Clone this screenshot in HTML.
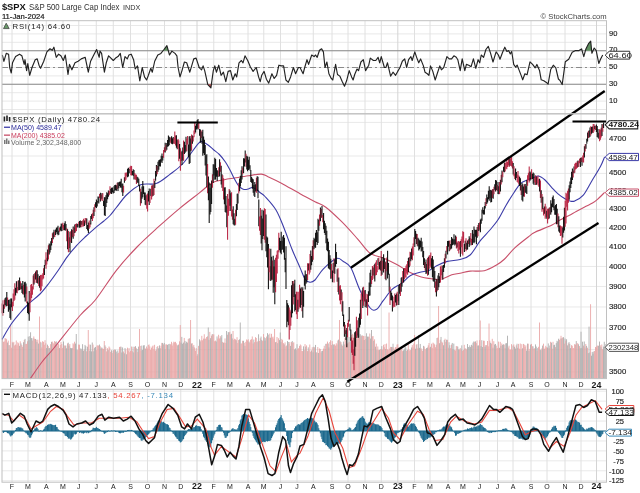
<!DOCTYPE html><html><head><meta charset="utf-8"><style>html,body{margin:0;padding:0;background:#fff;overflow:hidden}</style></head><body><svg width="640" height="493" viewBox="0 0 640 493" style="display:block;filter:blur(0.3px)"><rect width="640" height="493" fill="#fff"/><line x1="2.0" y1="109.50" x2="606.5" y2="109.50" stroke="#e9e9e9" stroke-width="1"/><line x1="2.0" y1="101.10" x2="606.5" y2="101.10" stroke="#e9e9e9" stroke-width="1"/><line x1="2.0" y1="92.70" x2="606.5" y2="92.70" stroke="#e9e9e9" stroke-width="1"/><line x1="2.0" y1="84.30" x2="606.5" y2="84.30" stroke="#e9e9e9" stroke-width="1"/><line x1="2.0" y1="75.90" x2="606.5" y2="75.90" stroke="#e9e9e9" stroke-width="1"/><line x1="2.0" y1="67.50" x2="606.5" y2="67.50" stroke="#e9e9e9" stroke-width="1"/><line x1="2.0" y1="59.10" x2="606.5" y2="59.10" stroke="#e9e9e9" stroke-width="1"/><line x1="2.0" y1="50.70" x2="606.5" y2="50.70" stroke="#e9e9e9" stroke-width="1"/><line x1="2.0" y1="42.30" x2="606.5" y2="42.30" stroke="#e9e9e9" stroke-width="1"/><line x1="2.0" y1="33.90" x2="606.5" y2="33.90" stroke="#e9e9e9" stroke-width="1"/><line x1="2.0" y1="25.50" x2="606.5" y2="25.50" stroke="#e9e9e9" stroke-width="1"/><line x1="12.00" y1="20.7" x2="12.00" y2="113.8" stroke="#e0e0e0" stroke-width="1"/><line x1="28.00" y1="20.7" x2="28.00" y2="113.8" stroke="#e0e0e0" stroke-width="1"/><line x1="46.25" y1="20.7" x2="46.25" y2="113.8" stroke="#e0e0e0" stroke-width="1"/><line x1="63.00" y1="20.7" x2="63.00" y2="113.8" stroke="#e0e0e0" stroke-width="1"/><line x1="78.75" y1="20.7" x2="78.75" y2="113.8" stroke="#e0e0e0" stroke-width="1"/><line x1="96.25" y1="20.7" x2="96.25" y2="113.8" stroke="#e0e0e0" stroke-width="1"/><line x1="113.25" y1="20.7" x2="113.25" y2="113.8" stroke="#e0e0e0" stroke-width="1"/><line x1="130.50" y1="20.7" x2="130.50" y2="113.8" stroke="#e0e0e0" stroke-width="1"/><line x1="147.50" y1="20.7" x2="147.50" y2="113.8" stroke="#e0e0e0" stroke-width="1"/><line x1="164.50" y1="20.7" x2="164.50" y2="113.8" stroke="#e0e0e0" stroke-width="1"/><line x1="180.75" y1="20.7" x2="180.75" y2="113.8" stroke="#e0e0e0" stroke-width="1"/><line x1="197.00" y1="20.7" x2="197.00" y2="113.8" stroke="#d4d4d4" stroke-width="1"/><line x1="213.75" y1="20.7" x2="213.75" y2="113.8" stroke="#e0e0e0" stroke-width="1"/><line x1="230.00" y1="20.7" x2="230.00" y2="113.8" stroke="#e0e0e0" stroke-width="1"/><line x1="248.00" y1="20.7" x2="248.00" y2="113.8" stroke="#e0e0e0" stroke-width="1"/><line x1="263.75" y1="20.7" x2="263.75" y2="113.8" stroke="#e0e0e0" stroke-width="1"/><line x1="280.50" y1="20.7" x2="280.50" y2="113.8" stroke="#e0e0e0" stroke-width="1"/><line x1="297.00" y1="20.7" x2="297.00" y2="113.8" stroke="#e0e0e0" stroke-width="1"/><line x1="313.25" y1="20.7" x2="313.25" y2="113.8" stroke="#e0e0e0" stroke-width="1"/><line x1="332.00" y1="20.7" x2="332.00" y2="113.8" stroke="#e0e0e0" stroke-width="1"/><line x1="348.00" y1="20.7" x2="348.00" y2="113.8" stroke="#e0e0e0" stroke-width="1"/><line x1="365.00" y1="20.7" x2="365.00" y2="113.8" stroke="#e0e0e0" stroke-width="1"/><line x1="381.30" y1="20.7" x2="381.30" y2="113.8" stroke="#e0e0e0" stroke-width="1"/><line x1="397.80" y1="20.7" x2="397.80" y2="113.8" stroke="#d4d4d4" stroke-width="1"/><line x1="414.50" y1="20.7" x2="414.50" y2="113.8" stroke="#e0e0e0" stroke-width="1"/><line x1="430.00" y1="20.7" x2="430.00" y2="113.8" stroke="#e0e0e0" stroke-width="1"/><line x1="448.00" y1="20.7" x2="448.00" y2="113.8" stroke="#e0e0e0" stroke-width="1"/><line x1="463.00" y1="20.7" x2="463.00" y2="113.8" stroke="#e0e0e0" stroke-width="1"/><line x1="479.50" y1="20.7" x2="479.50" y2="113.8" stroke="#e0e0e0" stroke-width="1"/><line x1="497.50" y1="20.7" x2="497.50" y2="113.8" stroke="#e0e0e0" stroke-width="1"/><line x1="513.00" y1="20.7" x2="513.00" y2="113.8" stroke="#e0e0e0" stroke-width="1"/><line x1="531.00" y1="20.7" x2="531.00" y2="113.8" stroke="#e0e0e0" stroke-width="1"/><line x1="547.00" y1="20.7" x2="547.00" y2="113.8" stroke="#e0e0e0" stroke-width="1"/><line x1="565.00" y1="20.7" x2="565.00" y2="113.8" stroke="#e0e0e0" stroke-width="1"/><line x1="581.00" y1="20.7" x2="581.00" y2="113.8" stroke="#e0e0e0" stroke-width="1"/><line x1="596.50" y1="20.7" x2="596.50" y2="113.8" stroke="#d4d4d4" stroke-width="1"/><line x1="2.0" y1="50.70" x2="606.5" y2="50.70" stroke="#8a8a8a" stroke-width="1.1"/><line x1="2.0" y1="84.30" x2="606.5" y2="84.30" stroke="#8a8a8a" stroke-width="1.1"/><line x1="2.0" y1="67.50" x2="606.5" y2="67.50" stroke="#8a8a8a" stroke-width="1" stroke-dasharray="6,3,2,3"/><path d="M163.00,50.70 L163.00,50.70 L163.28,50.41 L163.55,50.07 L163.82,49.72 L164.10,49.37 L164.38,49.00 L164.65,48.63 L164.93,48.26 L165.20,47.89 L165.47,47.52 L165.75,47.15 L166.03,46.78 L166.30,46.41 L166.57,46.04 L166.85,45.67 L167.12,46.41 L167.40,47.41 L167.68,48.40 L167.95,49.40 L168.22,50.39 L168.50,50.70 L168.50,50.70 Z" fill="#5f8f5f"/><path d="M207.3,84.30 L207.30,84.30 L207.59,84.30 L207.87,84.77 L208.16,85.05 L208.44,85.34 L208.73,85.63 L209.01,85.91 L209.30,86.20 L209.58,86.48 L209.87,86.77 L210.15,87.05 L210.44,87.33 L210.72,87.62 L211.00,87.05 L211.29,85.01 L211.57,84.30 L211.86,84.30 L212.15,84.30 L212.43,84.30 L212.72,84.30 L213.00,84.30 L213.0,84.30 Z" fill="#c05050"/><path d="M585.00,50.70 L585.00,50.70 L585.36,50.70 L585.72,49.56 L586.08,48.54 L586.44,47.82 L586.80,47.10 L587.16,46.38 L587.52,45.66 L587.88,44.94 L588.24,44.22 L588.60,43.59 L588.96,43.18 L589.32,42.77 L589.68,42.36 L590.04,41.95 L590.40,41.54 L590.76,41.80 L591.12,45.40 L591.48,49.00 L591.84,50.70 L592.20,50.70 L592.20,50.70 Z" fill="#5f8f5f"/><polyline fill="none" stroke="#222" stroke-width="1.15" stroke-linejoin="round" points="2.30,55.00 3.90,61.30 6.25,53.40 8.60,54.20 9.70,67.50 11.25,73.00 12.50,62.80 15.60,56.60 19.50,54.20 21.90,55.80 24.20,64.40 25.00,59.70 26.60,70.60 27.80,63.60 29.70,75.30 32.00,67.50 35.20,59.70 37.20,58.90 39.00,65.20 40.60,68.30 43.75,61.25 46.90,51.90 50.00,48.75 52.30,50.30 53.90,47.20 56.25,57.30 58.60,54.20 60.90,55.80 63.30,60.50 65.30,55.00 68.00,74.50 69.50,64.40 71.90,69.80 75.00,62.80 78.10,61.25 81.25,58.90 85.20,57.30 88.30,72.20 90.60,61.25 93.75,55.00 96.60,49.50 99.20,57.30 100.00,51.10 101.60,53.40 104.40,72.20 106.25,62.80 108.60,55.80 110.90,58.10 113.30,60.50 115.60,58.10 118.00,56.60 120.30,53.40 122.70,67.50 125.00,56.60 127.30,58.90 128.90,55.00 131.25,54.20 133.60,59.70 135.20,69.00 137.50,65.90 139.80,80.80 142.20,67.50 144.50,76.90 146.60,80.00 148.40,75.30 150.80,68.30 152.30,72.20 154.70,61.25 157.80,55.00 160.90,53.40 164.00,49.50 166.90,45.60 169.50,55.00 171.90,51.10 175.00,53.40 176.90,55.80 178.10,67.50 180.00,76.90 182.00,70.60 184.40,62.00 186.70,62.80 189.80,72.20 193.75,58.90 196.10,58.10 199.20,67.50 200.00,68.30 201.60,69.80 203.10,65.90 204.70,70.60 207.80,84.70 210.90,87.80 213.30,70.60 214.80,65.90 216.40,72.20 218.75,65.20 221.10,75.30 223.40,72.20 225.80,81.60 228.10,71.40 230.50,70.60 232.80,80.00 235.20,73.75 236.70,76.90 239.00,62.80 241.40,60.50 243.00,62.80 245.00,55.80 247.70,60.50 250.30,66.70 253.10,71.40 256.25,67.50 258.60,76.90 260.20,81.60 261.70,75.30 264.10,71.40 266.40,79.20 268.75,83.10 271.90,73.75 274.20,78.40 276.60,75.30 278.90,65.20 281.25,65.90 283.60,65.90 285.90,80.00 288.30,82.30 290.60,76.90 293.40,67.50 295.60,73.75 298.40,67.50 300.00,67.50 303.10,73.75 304.70,67.50 307.00,59.70 308.60,64.40 311.70,55.00 314.10,56.60 315.60,55.00 317.20,57.30 319.50,50.30 321.60,48.75 323.40,51.90 325.00,67.50 326.90,62.00 328.90,73.75 331.25,78.40 332.80,80.00 335.60,64.40 337.50,74.50 339.80,76.10 342.20,81.60 344.50,86.25 346.60,80.80 349.20,70.60 351.60,76.90 353.10,80.00 354.70,74.50 357.00,69.00 358.60,70.60 360.90,62.00 363.30,59.70 365.60,70.60 368.75,65.20 370.30,58.10 373.40,60.50 375.80,60.50 378.10,57.30 379.70,62.80 381.25,56.60 384.40,67.50 385.90,67.50 387.50,62.80 390.60,76.10 393.00,72.20 395.60,75.30 397.70,71.40 400.00,67.50 402.30,61.25 404.70,58.90 406.60,67.50 408.60,59.70 410.90,56.60 412.20,60.50 414.80,51.90 416.90,58.10 418.75,62.80 420.60,58.90 423.40,65.90 425.00,72.20 427.30,73.75 428.90,75.30 430.50,65.90 432.80,71.40 435.20,80.00 437.20,73.75 439.80,65.90 441.40,69.80 443.75,67.50 446.90,56.60 449.20,58.90 451.60,58.90 453.90,55.80 456.25,57.30 457.80,59.70 460.20,70.60 462.20,58.90 464.80,70.60 466.40,64.40 468.75,65.20 471.10,66.70 473.40,58.90 475.80,68.30 478.10,59.70 479.70,62.80 481.25,55.00 483.60,57.30 485.90,49.50 488.30,46.40 490.60,53.40 493.00,62.00 496.10,51.90 498.40,55.00 500.00,59.20 502.60,52.30 504.80,47.20 506.90,51.50 508.60,50.60 510.30,54.00 511.70,51.50 513.70,64.40 515.50,67.00 517.20,65.20 519.20,70.40 521.50,76.40 522.70,79.80 524.90,73.80 527.10,74.70 530.00,61.80 532.60,64.40 535.20,67.80 536.90,64.40 539.50,70.40 541.20,79.80 543.80,80.70 546.40,82.40 548.10,84.10 550.70,69.50 553.30,65.20 555.80,67.80 558.40,79.00 560.10,80.70 562.20,84.60 565.30,61.80 568.70,59.20 572.20,52.30 575.60,50.60 579.00,50.60 581.60,48.90 583.80,56.60 585.90,48.90 588.50,43.70 590.70,41.20 591.90,53.20 594.20,48.00 596.20,50.60 598.80,63.50 600.50,59.20 602.70,54.90"/><line x1="2.0" y1="371.92" x2="606.5" y2="371.92" stroke="#e9e9e9" stroke-width="1"/><line x1="2.0" y1="349.67" x2="606.5" y2="349.67" stroke="#e9e9e9" stroke-width="1"/><line x1="2.0" y1="328.02" x2="606.5" y2="328.02" stroke="#e9e9e9" stroke-width="1"/><line x1="2.0" y1="306.96" x2="606.5" y2="306.96" stroke="#e9e9e9" stroke-width="1"/><line x1="2.0" y1="286.44" x2="606.5" y2="286.44" stroke="#e9e9e9" stroke-width="1"/><line x1="2.0" y1="266.43" x2="606.5" y2="266.43" stroke="#e9e9e9" stroke-width="1"/><line x1="2.0" y1="246.93" x2="606.5" y2="246.93" stroke="#e9e9e9" stroke-width="1"/><line x1="2.0" y1="227.89" x2="606.5" y2="227.89" stroke="#e9e9e9" stroke-width="1"/><line x1="2.0" y1="209.30" x2="606.5" y2="209.30" stroke="#e9e9e9" stroke-width="1"/><line x1="2.0" y1="191.14" x2="606.5" y2="191.14" stroke="#e9e9e9" stroke-width="1"/><line x1="2.0" y1="173.39" x2="606.5" y2="173.39" stroke="#e9e9e9" stroke-width="1"/><line x1="2.0" y1="156.02" x2="606.5" y2="156.02" stroke="#e9e9e9" stroke-width="1"/><line x1="2.0" y1="139.03" x2="606.5" y2="139.03" stroke="#e9e9e9" stroke-width="1"/><line x1="2.0" y1="122.40" x2="606.5" y2="122.40" stroke="#e9e9e9" stroke-width="1"/><line x1="12.00" y1="113.8" x2="12.00" y2="378.6" stroke="#e0e0e0" stroke-width="1"/><line x1="28.00" y1="113.8" x2="28.00" y2="378.6" stroke="#e0e0e0" stroke-width="1"/><line x1="46.25" y1="113.8" x2="46.25" y2="378.6" stroke="#e0e0e0" stroke-width="1"/><line x1="63.00" y1="113.8" x2="63.00" y2="378.6" stroke="#e0e0e0" stroke-width="1"/><line x1="78.75" y1="113.8" x2="78.75" y2="378.6" stroke="#e0e0e0" stroke-width="1"/><line x1="96.25" y1="113.8" x2="96.25" y2="378.6" stroke="#e0e0e0" stroke-width="1"/><line x1="113.25" y1="113.8" x2="113.25" y2="378.6" stroke="#e0e0e0" stroke-width="1"/><line x1="130.50" y1="113.8" x2="130.50" y2="378.6" stroke="#e0e0e0" stroke-width="1"/><line x1="147.50" y1="113.8" x2="147.50" y2="378.6" stroke="#e0e0e0" stroke-width="1"/><line x1="164.50" y1="113.8" x2="164.50" y2="378.6" stroke="#e0e0e0" stroke-width="1"/><line x1="180.75" y1="113.8" x2="180.75" y2="378.6" stroke="#e0e0e0" stroke-width="1"/><line x1="197.00" y1="113.8" x2="197.00" y2="378.6" stroke="#d4d4d4" stroke-width="1"/><line x1="213.75" y1="113.8" x2="213.75" y2="378.6" stroke="#e0e0e0" stroke-width="1"/><line x1="230.00" y1="113.8" x2="230.00" y2="378.6" stroke="#e0e0e0" stroke-width="1"/><line x1="248.00" y1="113.8" x2="248.00" y2="378.6" stroke="#e0e0e0" stroke-width="1"/><line x1="263.75" y1="113.8" x2="263.75" y2="378.6" stroke="#e0e0e0" stroke-width="1"/><line x1="280.50" y1="113.8" x2="280.50" y2="378.6" stroke="#e0e0e0" stroke-width="1"/><line x1="297.00" y1="113.8" x2="297.00" y2="378.6" stroke="#e0e0e0" stroke-width="1"/><line x1="313.25" y1="113.8" x2="313.25" y2="378.6" stroke="#e0e0e0" stroke-width="1"/><line x1="332.00" y1="113.8" x2="332.00" y2="378.6" stroke="#e0e0e0" stroke-width="1"/><line x1="348.00" y1="113.8" x2="348.00" y2="378.6" stroke="#e0e0e0" stroke-width="1"/><line x1="365.00" y1="113.8" x2="365.00" y2="378.6" stroke="#e0e0e0" stroke-width="1"/><line x1="381.30" y1="113.8" x2="381.30" y2="378.6" stroke="#e0e0e0" stroke-width="1"/><line x1="397.80" y1="113.8" x2="397.80" y2="378.6" stroke="#d4d4d4" stroke-width="1"/><line x1="414.50" y1="113.8" x2="414.50" y2="378.6" stroke="#e0e0e0" stroke-width="1"/><line x1="430.00" y1="113.8" x2="430.00" y2="378.6" stroke="#e0e0e0" stroke-width="1"/><line x1="448.00" y1="113.8" x2="448.00" y2="378.6" stroke="#e0e0e0" stroke-width="1"/><line x1="463.00" y1="113.8" x2="463.00" y2="378.6" stroke="#e0e0e0" stroke-width="1"/><line x1="479.50" y1="113.8" x2="479.50" y2="378.6" stroke="#e0e0e0" stroke-width="1"/><line x1="497.50" y1="113.8" x2="497.50" y2="378.6" stroke="#e0e0e0" stroke-width="1"/><line x1="513.00" y1="113.8" x2="513.00" y2="378.6" stroke="#e0e0e0" stroke-width="1"/><line x1="531.00" y1="113.8" x2="531.00" y2="378.6" stroke="#e0e0e0" stroke-width="1"/><line x1="547.00" y1="113.8" x2="547.00" y2="378.6" stroke="#e0e0e0" stroke-width="1"/><line x1="565.00" y1="113.8" x2="565.00" y2="378.6" stroke="#e0e0e0" stroke-width="1"/><line x1="581.00" y1="113.8" x2="581.00" y2="378.6" stroke="#e0e0e0" stroke-width="1"/><line x1="596.50" y1="113.8" x2="596.50" y2="378.6" stroke="#d4d4d4" stroke-width="1"/><g><rect x="2.20" y="338.72" width="0.85" height="39.88" fill="#e9a4a4"/><rect x="3.00" y="341.83" width="0.85" height="36.77" fill="#e9a4a4"/><rect x="3.80" y="341.41" width="0.85" height="37.19" fill="#e9a4a4"/><rect x="4.60" y="338.09" width="0.85" height="40.51" fill="#e9a4a4"/><rect x="5.40" y="338.42" width="0.85" height="40.18" fill="#e9a4a4"/><rect x="6.20" y="339.18" width="0.85" height="39.42" fill="#e9a4a4"/><rect x="7.00" y="342.52" width="0.85" height="36.08" fill="#aaaaaa"/><rect x="7.80" y="340.62" width="0.85" height="37.98" fill="#e9a4a4"/><rect x="8.60" y="345.14" width="0.85" height="33.46" fill="#aaaaaa"/><rect x="9.40" y="345.24" width="0.85" height="33.36" fill="#e9a4a4"/><rect x="10.20" y="325.00" width="0.85" height="53.60" fill="#e9a4a4"/><rect x="11.00" y="347.70" width="0.85" height="30.90" fill="#e9a4a4"/><rect x="11.80" y="341.85" width="0.85" height="36.75" fill="#e9a4a4"/><rect x="12.60" y="343.03" width="0.85" height="35.57" fill="#aaaaaa"/><rect x="13.40" y="341.88" width="0.85" height="36.72" fill="#e9a4a4"/><rect x="14.20" y="345.41" width="0.85" height="33.19" fill="#e9a4a4"/><rect x="15.00" y="344.55" width="0.85" height="34.05" fill="#e9a4a4"/><rect x="15.80" y="340.51" width="0.85" height="38.09" fill="#e9a4a4"/><rect x="16.60" y="345.34" width="0.85" height="33.26" fill="#e9a4a4"/><rect x="17.40" y="342.28" width="0.85" height="36.32" fill="#e9a4a4"/><rect x="18.20" y="343.26" width="0.85" height="35.34" fill="#e9a4a4"/><rect x="19.00" y="345.86" width="0.85" height="32.74" fill="#aaaaaa"/><rect x="19.80" y="341.32" width="0.85" height="37.28" fill="#e9a4a4"/><rect x="20.60" y="343.43" width="0.85" height="35.17" fill="#aaaaaa"/><rect x="21.40" y="344.94" width="0.85" height="33.66" fill="#e9a4a4"/><rect x="22.20" y="346.81" width="0.85" height="31.79" fill="#e9a4a4"/><rect x="23.00" y="342.18" width="0.85" height="36.42" fill="#aaaaaa"/><rect x="23.80" y="339.92" width="0.85" height="38.68" fill="#e9a4a4"/><rect x="24.60" y="338.88" width="0.85" height="39.72" fill="#aaaaaa"/><rect x="25.40" y="344.06" width="0.85" height="34.54" fill="#e9a4a4"/><rect x="26.20" y="343.82" width="0.85" height="34.78" fill="#e9a4a4"/><rect x="27.00" y="341.26" width="0.85" height="37.34" fill="#e9a4a4"/><rect x="27.80" y="336.60" width="0.85" height="42.00" fill="#aaaaaa"/><rect x="28.60" y="340.18" width="0.85" height="38.42" fill="#aaaaaa"/><rect x="29.40" y="336.13" width="0.85" height="42.47" fill="#aaaaaa"/><rect x="30.20" y="332.27" width="0.85" height="46.33" fill="#aaaaaa"/><rect x="31.00" y="338.08" width="0.85" height="40.52" fill="#aaaaaa"/><rect x="31.80" y="340.60" width="0.85" height="38.00" fill="#e9a4a4"/><rect x="32.60" y="338.23" width="0.85" height="40.37" fill="#aaaaaa"/><rect x="33.40" y="336.44" width="0.85" height="42.16" fill="#e9a4a4"/><rect x="34.20" y="338.72" width="0.85" height="39.88" fill="#e9a4a4"/><rect x="35.00" y="338.97" width="0.85" height="39.63" fill="#aaaaaa"/><rect x="35.80" y="339.69" width="0.85" height="38.91" fill="#e9a4a4"/><rect x="36.60" y="341.95" width="0.85" height="36.65" fill="#aaaaaa"/><rect x="37.40" y="339.62" width="0.85" height="38.98" fill="#e9a4a4"/><rect x="38.20" y="343.54" width="0.85" height="35.06" fill="#aaaaaa"/><rect x="39.00" y="316.50" width="0.85" height="62.10" fill="#e9a4a4"/><rect x="39.80" y="341.69" width="0.85" height="36.91" fill="#e9a4a4"/><rect x="40.60" y="342.46" width="0.85" height="36.14" fill="#aaaaaa"/><rect x="41.40" y="347.37" width="0.85" height="31.23" fill="#e9a4a4"/><rect x="42.20" y="341.24" width="0.85" height="37.36" fill="#e9a4a4"/><rect x="43.00" y="341.82" width="0.85" height="36.78" fill="#e9a4a4"/><rect x="43.80" y="344.78" width="0.85" height="33.82" fill="#e9a4a4"/><rect x="44.60" y="340.22" width="0.85" height="38.38" fill="#e9a4a4"/><rect x="45.40" y="343.26" width="0.85" height="35.34" fill="#e9a4a4"/><rect x="46.20" y="348.05" width="0.85" height="30.55" fill="#aaaaaa"/><rect x="47.00" y="344.67" width="0.85" height="33.93" fill="#aaaaaa"/><rect x="47.80" y="346.08" width="0.85" height="32.52" fill="#e9a4a4"/><rect x="48.60" y="347.99" width="0.85" height="30.61" fill="#aaaaaa"/><rect x="49.40" y="347.91" width="0.85" height="30.69" fill="#aaaaaa"/><rect x="50.20" y="344.14" width="0.85" height="34.46" fill="#e9a4a4"/><rect x="51.00" y="341.85" width="0.85" height="36.75" fill="#aaaaaa"/><rect x="51.80" y="341.53" width="0.85" height="37.07" fill="#e9a4a4"/><rect x="52.60" y="342.72" width="0.85" height="35.88" fill="#e9a4a4"/><rect x="53.40" y="343.79" width="0.85" height="34.81" fill="#e9a4a4"/><rect x="54.20" y="341.09" width="0.85" height="37.51" fill="#e9a4a4"/><rect x="55.00" y="341.91" width="0.85" height="36.69" fill="#e9a4a4"/><rect x="55.80" y="341.32" width="0.85" height="37.28" fill="#aaaaaa"/><rect x="56.60" y="346.04" width="0.85" height="32.56" fill="#e9a4a4"/><rect x="57.40" y="343.17" width="0.85" height="35.43" fill="#e9a4a4"/><rect x="58.20" y="344.08" width="0.85" height="34.52" fill="#e9a4a4"/><rect x="59.00" y="347.97" width="0.85" height="30.63" fill="#aaaaaa"/><rect x="59.80" y="344.92" width="0.85" height="33.68" fill="#e9a4a4"/><rect x="60.60" y="341.90" width="0.85" height="36.70" fill="#e9a4a4"/><rect x="61.40" y="343.97" width="0.85" height="34.63" fill="#e9a4a4"/><rect x="62.20" y="347.87" width="0.85" height="30.73" fill="#e9a4a4"/><rect x="63.00" y="341.44" width="0.85" height="37.16" fill="#aaaaaa"/><rect x="63.80" y="345.50" width="0.85" height="33.10" fill="#e9a4a4"/><rect x="64.60" y="345.64" width="0.85" height="32.96" fill="#e9a4a4"/><rect x="65.40" y="345.53" width="0.85" height="33.07" fill="#aaaaaa"/><rect x="66.20" y="348.23" width="0.85" height="30.37" fill="#aaaaaa"/><rect x="67.00" y="343.43" width="0.85" height="35.17" fill="#e9a4a4"/><rect x="67.80" y="342.69" width="0.85" height="35.91" fill="#aaaaaa"/><rect x="68.60" y="345.63" width="0.85" height="32.97" fill="#aaaaaa"/><rect x="69.40" y="344.03" width="0.85" height="34.57" fill="#e9a4a4"/><rect x="70.20" y="347.90" width="0.85" height="30.70" fill="#aaaaaa"/><rect x="71.00" y="348.24" width="0.85" height="30.36" fill="#aaaaaa"/><rect x="71.80" y="347.98" width="0.85" height="30.62" fill="#aaaaaa"/><rect x="72.60" y="343.27" width="0.85" height="35.33" fill="#e9a4a4"/><rect x="73.40" y="344.31" width="0.85" height="34.29" fill="#e9a4a4"/><rect x="74.20" y="341.71" width="0.85" height="36.89" fill="#e9a4a4"/><rect x="75.00" y="343.57" width="0.85" height="35.03" fill="#aaaaaa"/><rect x="75.80" y="334.00" width="0.85" height="44.60" fill="#aaaaaa"/><rect x="76.60" y="349.64" width="0.85" height="28.96" fill="#aaaaaa"/><rect x="77.40" y="350.10" width="0.85" height="28.50" fill="#e9a4a4"/><rect x="78.20" y="344.54" width="0.85" height="34.06" fill="#e9a4a4"/><rect x="79.00" y="344.67" width="0.85" height="33.93" fill="#e9a4a4"/><rect x="79.80" y="348.41" width="0.85" height="30.19" fill="#aaaaaa"/><rect x="80.60" y="350.22" width="0.85" height="28.38" fill="#e9a4a4"/><rect x="81.40" y="348.72" width="0.85" height="29.88" fill="#aaaaaa"/><rect x="82.20" y="344.18" width="0.85" height="34.42" fill="#aaaaaa"/><rect x="83.00" y="350.78" width="0.85" height="27.82" fill="#aaaaaa"/><rect x="83.80" y="349.50" width="0.85" height="29.10" fill="#e9a4a4"/><rect x="84.60" y="344.93" width="0.85" height="33.67" fill="#aaaaaa"/><rect x="85.40" y="346.16" width="0.85" height="32.44" fill="#aaaaaa"/><rect x="86.20" y="351.27" width="0.85" height="27.33" fill="#e9a4a4"/><rect x="87.00" y="346.71" width="0.85" height="31.89" fill="#aaaaaa"/><rect x="87.80" y="330.00" width="0.85" height="48.60" fill="#e9a4a4"/><rect x="88.60" y="344.52" width="0.85" height="34.08" fill="#e9a4a4"/><rect x="89.40" y="350.74" width="0.85" height="27.86" fill="#aaaaaa"/><rect x="90.20" y="344.67" width="0.85" height="33.93" fill="#aaaaaa"/><rect x="91.00" y="351.34" width="0.85" height="27.26" fill="#aaaaaa"/><rect x="91.80" y="342.50" width="0.85" height="36.10" fill="#aaaaaa"/><rect x="92.60" y="344.55" width="0.85" height="34.05" fill="#e9a4a4"/><rect x="93.40" y="351.27" width="0.85" height="27.33" fill="#aaaaaa"/><rect x="94.20" y="347.71" width="0.85" height="30.89" fill="#aaaaaa"/><rect x="95.00" y="346.97" width="0.85" height="31.63" fill="#aaaaaa"/><rect x="95.80" y="350.11" width="0.85" height="28.49" fill="#e9a4a4"/><rect x="96.60" y="345.51" width="0.85" height="33.09" fill="#e9a4a4"/><rect x="97.40" y="345.42" width="0.85" height="33.18" fill="#e9a4a4"/><rect x="98.20" y="345.57" width="0.85" height="33.03" fill="#e9a4a4"/><rect x="99.00" y="344.55" width="0.85" height="34.05" fill="#aaaaaa"/><rect x="99.80" y="346.33" width="0.85" height="32.27" fill="#e9a4a4"/><rect x="100.60" y="348.41" width="0.85" height="30.19" fill="#aaaaaa"/><rect x="101.40" y="347.43" width="0.85" height="31.17" fill="#aaaaaa"/><rect x="102.20" y="348.39" width="0.85" height="30.21" fill="#e9a4a4"/><rect x="103.00" y="348.89" width="0.85" height="29.71" fill="#e9a4a4"/><rect x="103.80" y="341.00" width="0.85" height="37.60" fill="#e9a4a4"/><rect x="104.60" y="345.37" width="0.85" height="33.23" fill="#aaaaaa"/><rect x="105.40" y="346.89" width="0.85" height="31.71" fill="#e9a4a4"/><rect x="106.20" y="351.35" width="0.85" height="27.25" fill="#e9a4a4"/><rect x="107.00" y="348.19" width="0.85" height="30.41" fill="#e9a4a4"/><rect x="107.80" y="350.06" width="0.85" height="28.54" fill="#aaaaaa"/><rect x="108.60" y="346.49" width="0.85" height="32.11" fill="#e9a4a4"/><rect x="109.40" y="347.66" width="0.85" height="30.94" fill="#e9a4a4"/><rect x="110.20" y="351.89" width="0.85" height="26.71" fill="#e9a4a4"/><rect x="111.00" y="350.23" width="0.85" height="28.37" fill="#aaaaaa"/><rect x="111.80" y="353.07" width="0.85" height="25.53" fill="#e9a4a4"/><rect x="112.60" y="350.70" width="0.85" height="27.90" fill="#e9a4a4"/><rect x="113.40" y="349.93" width="0.85" height="28.67" fill="#aaaaaa"/><rect x="114.20" y="349.49" width="0.85" height="29.11" fill="#e9a4a4"/><rect x="115.00" y="349.72" width="0.85" height="28.88" fill="#aaaaaa"/><rect x="115.80" y="351.53" width="0.85" height="27.07" fill="#aaaaaa"/><rect x="116.60" y="353.50" width="0.85" height="25.10" fill="#e9a4a4"/><rect x="117.40" y="350.47" width="0.85" height="28.13" fill="#aaaaaa"/><rect x="118.20" y="352.75" width="0.85" height="25.85" fill="#e9a4a4"/><rect x="119.00" y="347.03" width="0.85" height="31.57" fill="#e9a4a4"/><rect x="119.80" y="346.67" width="0.85" height="31.93" fill="#e9a4a4"/><rect x="120.60" y="346.71" width="0.85" height="31.89" fill="#aaaaaa"/><rect x="121.40" y="352.43" width="0.85" height="26.17" fill="#aaaaaa"/><rect x="122.20" y="347.42" width="0.85" height="31.18" fill="#aaaaaa"/><rect x="123.00" y="351.50" width="0.85" height="27.10" fill="#e9a4a4"/><rect x="123.80" y="353.31" width="0.85" height="25.29" fill="#aaaaaa"/><rect x="124.60" y="348.04" width="0.85" height="30.56" fill="#aaaaaa"/><rect x="125.40" y="349.50" width="0.85" height="29.10" fill="#e9a4a4"/><rect x="126.20" y="354.27" width="0.85" height="24.33" fill="#aaaaaa"/><rect x="127.00" y="347.67" width="0.85" height="30.93" fill="#e9a4a4"/><rect x="127.80" y="350.54" width="0.85" height="28.06" fill="#e9a4a4"/><rect x="128.60" y="348.01" width="0.85" height="30.59" fill="#e9a4a4"/><rect x="129.40" y="352.25" width="0.85" height="26.35" fill="#e9a4a4"/><rect x="130.20" y="350.91" width="0.85" height="27.69" fill="#e9a4a4"/><rect x="131.00" y="346.51" width="0.85" height="32.09" fill="#e9a4a4"/><rect x="131.80" y="351.25" width="0.85" height="27.35" fill="#e9a4a4"/><rect x="132.60" y="346.67" width="0.85" height="31.93" fill="#aaaaaa"/><rect x="133.40" y="352.35" width="0.85" height="26.25" fill="#aaaaaa"/><rect x="134.20" y="346.78" width="0.85" height="31.82" fill="#e9a4a4"/><rect x="135.00" y="346.15" width="0.85" height="32.45" fill="#aaaaaa"/><rect x="135.80" y="347.89" width="0.85" height="30.71" fill="#e9a4a4"/><rect x="136.60" y="349.00" width="0.85" height="29.60" fill="#aaaaaa"/><rect x="137.40" y="352.07" width="0.85" height="26.53" fill="#e9a4a4"/><rect x="138.20" y="346.60" width="0.85" height="32.00" fill="#aaaaaa"/><rect x="139.00" y="329.00" width="0.85" height="49.60" fill="#e9a4a4"/><rect x="139.80" y="345.91" width="0.85" height="32.69" fill="#e9a4a4"/><rect x="140.60" y="350.59" width="0.85" height="28.01" fill="#e9a4a4"/><rect x="141.40" y="345.56" width="0.85" height="33.04" fill="#aaaaaa"/><rect x="142.20" y="349.95" width="0.85" height="28.65" fill="#aaaaaa"/><rect x="143.00" y="345.44" width="0.85" height="33.16" fill="#aaaaaa"/><rect x="143.80" y="345.19" width="0.85" height="33.41" fill="#aaaaaa"/><rect x="144.60" y="348.18" width="0.85" height="30.42" fill="#e9a4a4"/><rect x="145.40" y="348.87" width="0.85" height="29.73" fill="#aaaaaa"/><rect x="146.20" y="346.48" width="0.85" height="32.12" fill="#e9a4a4"/><rect x="147.00" y="348.45" width="0.85" height="30.15" fill="#e9a4a4"/><rect x="147.80" y="345.00" width="0.85" height="33.60" fill="#e9a4a4"/><rect x="148.60" y="344.42" width="0.85" height="34.18" fill="#e9a4a4"/><rect x="149.40" y="346.41" width="0.85" height="32.19" fill="#e9a4a4"/><rect x="150.20" y="349.88" width="0.85" height="28.72" fill="#e9a4a4"/><rect x="151.00" y="347.70" width="0.85" height="30.90" fill="#e9a4a4"/><rect x="151.80" y="346.37" width="0.85" height="32.23" fill="#e9a4a4"/><rect x="152.60" y="345.49" width="0.85" height="33.11" fill="#e9a4a4"/><rect x="153.40" y="349.24" width="0.85" height="29.36" fill="#e9a4a4"/><rect x="154.20" y="344.79" width="0.85" height="33.81" fill="#e9a4a4"/><rect x="155.00" y="350.64" width="0.85" height="27.96" fill="#e9a4a4"/><rect x="155.80" y="349.61" width="0.85" height="28.99" fill="#e9a4a4"/><rect x="156.60" y="346.91" width="0.85" height="31.69" fill="#aaaaaa"/><rect x="157.40" y="345.99" width="0.85" height="32.61" fill="#e9a4a4"/><rect x="158.20" y="348.24" width="0.85" height="30.36" fill="#aaaaaa"/><rect x="159.00" y="345.37" width="0.85" height="33.23" fill="#aaaaaa"/><rect x="159.80" y="348.18" width="0.85" height="30.42" fill="#aaaaaa"/><rect x="160.60" y="345.70" width="0.85" height="32.90" fill="#e9a4a4"/><rect x="161.40" y="342.84" width="0.85" height="35.76" fill="#e9a4a4"/><rect x="162.20" y="342.92" width="0.85" height="35.68" fill="#aaaaaa"/><rect x="163.00" y="344.34" width="0.85" height="34.26" fill="#e9a4a4"/><rect x="163.80" y="342.92" width="0.85" height="35.68" fill="#aaaaaa"/><rect x="164.60" y="349.16" width="0.85" height="29.44" fill="#aaaaaa"/><rect x="165.40" y="344.40" width="0.85" height="34.20" fill="#e9a4a4"/><rect x="166.20" y="344.43" width="0.85" height="34.17" fill="#e9a4a4"/><rect x="167.00" y="345.00" width="0.85" height="33.60" fill="#aaaaaa"/><rect x="167.80" y="344.09" width="0.85" height="34.51" fill="#aaaaaa"/><rect x="168.60" y="349.71" width="0.85" height="28.89" fill="#e9a4a4"/><rect x="169.40" y="343.83" width="0.85" height="34.77" fill="#aaaaaa"/><rect x="170.20" y="344.30" width="0.85" height="34.30" fill="#e9a4a4"/><rect x="171.00" y="341.78" width="0.85" height="36.82" fill="#e9a4a4"/><rect x="171.80" y="345.51" width="0.85" height="33.09" fill="#e9a4a4"/><rect x="172.60" y="343.27" width="0.85" height="35.33" fill="#e9a4a4"/><rect x="173.40" y="341.65" width="0.85" height="36.95" fill="#e9a4a4"/><rect x="174.20" y="342.27" width="0.85" height="36.33" fill="#e9a4a4"/><rect x="175.00" y="341.83" width="0.85" height="36.77" fill="#e9a4a4"/><rect x="175.80" y="343.27" width="0.85" height="35.33" fill="#e9a4a4"/><rect x="176.60" y="344.85" width="0.85" height="33.75" fill="#e9a4a4"/><rect x="177.40" y="345.50" width="0.85" height="33.10" fill="#aaaaaa"/><rect x="178.20" y="344.56" width="0.85" height="34.04" fill="#aaaaaa"/><rect x="179.00" y="341.28" width="0.85" height="37.32" fill="#e9a4a4"/><rect x="179.80" y="325.00" width="0.85" height="53.60" fill="#e9a4a4"/><rect x="180.60" y="342.63" width="0.85" height="35.97" fill="#aaaaaa"/><rect x="181.40" y="336.89" width="0.85" height="41.71" fill="#aaaaaa"/><rect x="182.20" y="343.77" width="0.85" height="34.83" fill="#aaaaaa"/><rect x="183.00" y="342.59" width="0.85" height="36.01" fill="#aaaaaa"/><rect x="183.80" y="337.93" width="0.85" height="40.67" fill="#e9a4a4"/><rect x="184.60" y="340.93" width="0.85" height="37.67" fill="#aaaaaa"/><rect x="185.40" y="343.43" width="0.85" height="35.17" fill="#aaaaaa"/><rect x="186.20" y="341.75" width="0.85" height="36.85" fill="#aaaaaa"/><rect x="187.00" y="342.63" width="0.85" height="35.97" fill="#aaaaaa"/><rect x="187.80" y="339.10" width="0.85" height="39.50" fill="#e9a4a4"/><rect x="188.60" y="338.41" width="0.85" height="40.19" fill="#e9a4a4"/><rect x="189.40" y="338.27" width="0.85" height="40.33" fill="#aaaaaa"/><rect x="190.20" y="320.00" width="0.85" height="58.60" fill="#e9a4a4"/><rect x="191.00" y="343.51" width="0.85" height="35.09" fill="#aaaaaa"/><rect x="191.80" y="343.21" width="0.85" height="35.39" fill="#e9a4a4"/><rect x="192.60" y="346.48" width="0.85" height="32.12" fill="#aaaaaa"/><rect x="193.40" y="344.92" width="0.85" height="33.68" fill="#e9a4a4"/><rect x="194.20" y="347.44" width="0.85" height="31.16" fill="#e9a4a4"/><rect x="195.00" y="350.73" width="0.85" height="27.87" fill="#e9a4a4"/><rect x="195.80" y="348.10" width="0.85" height="30.50" fill="#e9a4a4"/><rect x="196.60" y="356.00" width="0.85" height="22.60" fill="#e9a4a4"/><rect x="197.40" y="354.22" width="0.85" height="24.38" fill="#aaaaaa"/><rect x="198.20" y="345.85" width="0.85" height="32.75" fill="#e9a4a4"/><rect x="199.00" y="339.33" width="0.85" height="39.27" fill="#aaaaaa"/><rect x="199.80" y="341.34" width="0.85" height="37.26" fill="#aaaaaa"/><rect x="200.60" y="340.06" width="0.85" height="38.54" fill="#e9a4a4"/><rect x="201.40" y="335.81" width="0.85" height="42.79" fill="#e9a4a4"/><rect x="202.20" y="340.28" width="0.85" height="38.32" fill="#e9a4a4"/><rect x="203.00" y="338.59" width="0.85" height="40.01" fill="#e9a4a4"/><rect x="203.80" y="334.24" width="0.85" height="44.36" fill="#e9a4a4"/><rect x="204.60" y="338.84" width="0.85" height="39.76" fill="#aaaaaa"/><rect x="205.40" y="338.58" width="0.85" height="40.02" fill="#e9a4a4"/><rect x="206.20" y="337.01" width="0.85" height="41.59" fill="#e9a4a4"/><rect x="207.00" y="336.32" width="0.85" height="42.28" fill="#e9a4a4"/><rect x="207.80" y="327.50" width="0.85" height="51.10" fill="#aaaaaa"/><rect x="208.60" y="339.83" width="0.85" height="38.77" fill="#aaaaaa"/><rect x="209.40" y="331.86" width="0.85" height="46.74" fill="#e9a4a4"/><rect x="210.20" y="338.16" width="0.85" height="40.44" fill="#aaaaaa"/><rect x="211.00" y="335.60" width="0.85" height="43.00" fill="#e9a4a4"/><rect x="211.80" y="334.08" width="0.85" height="44.52" fill="#aaaaaa"/><rect x="212.60" y="334.49" width="0.85" height="44.11" fill="#e9a4a4"/><rect x="213.40" y="334.33" width="0.85" height="44.27" fill="#e9a4a4"/><rect x="214.20" y="341.22" width="0.85" height="37.38" fill="#e9a4a4"/><rect x="215.00" y="340.56" width="0.85" height="38.04" fill="#e9a4a4"/><rect x="215.80" y="341.49" width="0.85" height="37.11" fill="#aaaaaa"/><rect x="216.60" y="336.42" width="0.85" height="42.18" fill="#aaaaaa"/><rect x="217.40" y="338.54" width="0.85" height="40.06" fill="#e9a4a4"/><rect x="218.20" y="334.77" width="0.85" height="43.83" fill="#e9a4a4"/><rect x="219.00" y="338.44" width="0.85" height="40.16" fill="#e9a4a4"/><rect x="219.80" y="336.05" width="0.85" height="42.55" fill="#e9a4a4"/><rect x="220.60" y="337.54" width="0.85" height="41.06" fill="#aaaaaa"/><rect x="221.40" y="335.11" width="0.85" height="43.49" fill="#aaaaaa"/><rect x="222.20" y="341.90" width="0.85" height="36.70" fill="#e9a4a4"/><rect x="223.00" y="342.69" width="0.85" height="35.91" fill="#aaaaaa"/><rect x="223.80" y="342.58" width="0.85" height="36.02" fill="#e9a4a4"/><rect x="224.60" y="338.43" width="0.85" height="40.17" fill="#e9a4a4"/><rect x="225.40" y="342.89" width="0.85" height="35.71" fill="#e9a4a4"/><rect x="226.20" y="331.00" width="0.85" height="47.60" fill="#aaaaaa"/><rect x="227.00" y="334.70" width="0.85" height="43.90" fill="#e9a4a4"/><rect x="227.80" y="332.11" width="0.85" height="46.49" fill="#aaaaaa"/><rect x="228.60" y="332.38" width="0.85" height="46.22" fill="#aaaaaa"/><rect x="229.40" y="331.76" width="0.85" height="46.84" fill="#e9a4a4"/><rect x="230.20" y="334.39" width="0.85" height="44.21" fill="#e9a4a4"/><rect x="231.00" y="333.82" width="0.85" height="44.78" fill="#aaaaaa"/><rect x="231.80" y="338.44" width="0.85" height="40.16" fill="#aaaaaa"/><rect x="232.60" y="331.00" width="0.85" height="47.60" fill="#e9a4a4"/><rect x="233.40" y="339.96" width="0.85" height="38.64" fill="#e9a4a4"/><rect x="234.20" y="338.72" width="0.85" height="39.88" fill="#e9a4a4"/><rect x="235.00" y="339.36" width="0.85" height="39.24" fill="#e9a4a4"/><rect x="235.80" y="340.21" width="0.85" height="38.39" fill="#aaaaaa"/><rect x="236.60" y="337.16" width="0.85" height="41.44" fill="#e9a4a4"/><rect x="237.40" y="342.97" width="0.85" height="35.63" fill="#e9a4a4"/><rect x="238.20" y="340.02" width="0.85" height="38.58" fill="#e9a4a4"/><rect x="239.00" y="339.31" width="0.85" height="39.29" fill="#aaaaaa"/><rect x="239.80" y="322.50" width="0.85" height="56.10" fill="#aaaaaa"/><rect x="240.60" y="343.55" width="0.85" height="35.05" fill="#e9a4a4"/><rect x="241.40" y="343.44" width="0.85" height="35.16" fill="#e9a4a4"/><rect x="242.20" y="340.76" width="0.85" height="37.84" fill="#e9a4a4"/><rect x="243.00" y="340.79" width="0.85" height="37.81" fill="#aaaaaa"/><rect x="243.80" y="342.80" width="0.85" height="35.80" fill="#e9a4a4"/><rect x="244.60" y="345.78" width="0.85" height="32.82" fill="#aaaaaa"/><rect x="245.40" y="341.82" width="0.85" height="36.78" fill="#e9a4a4"/><rect x="246.20" y="339.46" width="0.85" height="39.14" fill="#e9a4a4"/><rect x="247.00" y="340.36" width="0.85" height="38.24" fill="#e9a4a4"/><rect x="247.80" y="339.24" width="0.85" height="39.36" fill="#e9a4a4"/><rect x="248.60" y="341.58" width="0.85" height="37.02" fill="#aaaaaa"/><rect x="249.40" y="342.72" width="0.85" height="35.88" fill="#e9a4a4"/><rect x="250.20" y="339.75" width="0.85" height="38.85" fill="#e9a4a4"/><rect x="251.00" y="339.21" width="0.85" height="39.39" fill="#e9a4a4"/><rect x="251.80" y="336.46" width="0.85" height="42.14" fill="#e9a4a4"/><rect x="252.60" y="343.46" width="0.85" height="35.14" fill="#e9a4a4"/><rect x="253.40" y="339.51" width="0.85" height="39.09" fill="#aaaaaa"/><rect x="254.20" y="342.14" width="0.85" height="36.46" fill="#e9a4a4"/><rect x="255.00" y="337.17" width="0.85" height="41.43" fill="#e9a4a4"/><rect x="255.80" y="337.96" width="0.85" height="40.64" fill="#e9a4a4"/><rect x="256.60" y="342.15" width="0.85" height="36.45" fill="#aaaaaa"/><rect x="257.40" y="341.26" width="0.85" height="37.34" fill="#e9a4a4"/><rect x="258.20" y="334.30" width="0.85" height="44.30" fill="#aaaaaa"/><rect x="259.00" y="340.97" width="0.85" height="37.63" fill="#e9a4a4"/><rect x="259.80" y="338.26" width="0.85" height="40.34" fill="#e9a4a4"/><rect x="260.60" y="336.57" width="0.85" height="42.03" fill="#aaaaaa"/><rect x="261.40" y="339.96" width="0.85" height="38.64" fill="#aaaaaa"/><rect x="262.20" y="341.06" width="0.85" height="37.54" fill="#e9a4a4"/><rect x="263.00" y="334.07" width="0.85" height="44.53" fill="#e9a4a4"/><rect x="263.80" y="337.30" width="0.85" height="41.30" fill="#aaaaaa"/><rect x="264.60" y="340.57" width="0.85" height="38.03" fill="#aaaaaa"/><rect x="265.40" y="338.14" width="0.85" height="40.46" fill="#aaaaaa"/><rect x="266.20" y="336.54" width="0.85" height="42.06" fill="#e9a4a4"/><rect x="267.00" y="333.12" width="0.85" height="45.48" fill="#aaaaaa"/><rect x="267.80" y="334.58" width="0.85" height="44.02" fill="#aaaaaa"/><rect x="268.60" y="337.80" width="0.85" height="40.80" fill="#e9a4a4"/><rect x="269.40" y="333.58" width="0.85" height="45.02" fill="#e9a4a4"/><rect x="270.20" y="337.67" width="0.85" height="40.93" fill="#aaaaaa"/><rect x="271.00" y="333.80" width="0.85" height="44.80" fill="#e9a4a4"/><rect x="271.80" y="337.42" width="0.85" height="41.18" fill="#e9a4a4"/><rect x="272.60" y="336.64" width="0.85" height="41.96" fill="#e9a4a4"/><rect x="273.40" y="338.67" width="0.85" height="39.93" fill="#e9a4a4"/><rect x="274.20" y="329.00" width="0.85" height="49.60" fill="#e9a4a4"/><rect x="275.00" y="342.17" width="0.85" height="36.43" fill="#aaaaaa"/><rect x="275.80" y="341.89" width="0.85" height="36.71" fill="#e9a4a4"/><rect x="276.60" y="337.02" width="0.85" height="41.58" fill="#e9a4a4"/><rect x="277.40" y="343.14" width="0.85" height="35.46" fill="#aaaaaa"/><rect x="278.20" y="338.24" width="0.85" height="40.36" fill="#e9a4a4"/><rect x="279.00" y="340.09" width="0.85" height="38.51" fill="#aaaaaa"/><rect x="279.80" y="332.50" width="0.85" height="46.10" fill="#aaaaaa"/><rect x="280.60" y="342.08" width="0.85" height="36.52" fill="#aaaaaa"/><rect x="281.40" y="338.87" width="0.85" height="39.73" fill="#e9a4a4"/><rect x="282.20" y="340.08" width="0.85" height="38.52" fill="#e9a4a4"/><rect x="283.00" y="343.16" width="0.85" height="35.44" fill="#e9a4a4"/><rect x="283.80" y="344.40" width="0.85" height="34.20" fill="#aaaaaa"/><rect x="284.60" y="342.38" width="0.85" height="36.22" fill="#e9a4a4"/><rect x="285.40" y="346.42" width="0.85" height="32.18" fill="#e9a4a4"/><rect x="286.20" y="345.54" width="0.85" height="33.06" fill="#e9a4a4"/><rect x="287.00" y="341.07" width="0.85" height="37.53" fill="#aaaaaa"/><rect x="287.80" y="341.98" width="0.85" height="36.62" fill="#aaaaaa"/><rect x="288.60" y="343.91" width="0.85" height="34.69" fill="#e9a4a4"/><rect x="289.40" y="342.05" width="0.85" height="36.55" fill="#e9a4a4"/><rect x="290.20" y="345.90" width="0.85" height="32.70" fill="#aaaaaa"/><rect x="291.00" y="342.07" width="0.85" height="36.53" fill="#e9a4a4"/><rect x="291.80" y="341.00" width="0.85" height="37.60" fill="#aaaaaa"/><rect x="292.60" y="342.68" width="0.85" height="35.92" fill="#e9a4a4"/><rect x="293.40" y="342.34" width="0.85" height="36.26" fill="#e9a4a4"/><rect x="294.20" y="349.37" width="0.85" height="29.23" fill="#aaaaaa"/><rect x="295.00" y="348.36" width="0.85" height="30.24" fill="#aaaaaa"/><rect x="295.80" y="350.05" width="0.85" height="28.55" fill="#e9a4a4"/><rect x="296.60" y="344.18" width="0.85" height="34.42" fill="#aaaaaa"/><rect x="297.40" y="348.76" width="0.85" height="29.84" fill="#e9a4a4"/><rect x="298.20" y="348.20" width="0.85" height="30.40" fill="#e9a4a4"/><rect x="299.00" y="345.97" width="0.85" height="32.63" fill="#e9a4a4"/><rect x="299.80" y="344.43" width="0.85" height="34.17" fill="#e9a4a4"/><rect x="300.60" y="345.41" width="0.85" height="33.19" fill="#e9a4a4"/><rect x="301.40" y="350.91" width="0.85" height="27.69" fill="#e9a4a4"/><rect x="302.20" y="351.08" width="0.85" height="27.52" fill="#e9a4a4"/><rect x="303.00" y="346.31" width="0.85" height="32.29" fill="#aaaaaa"/><rect x="303.80" y="350.13" width="0.85" height="28.47" fill="#e9a4a4"/><rect x="304.60" y="344.05" width="0.85" height="34.55" fill="#e9a4a4"/><rect x="305.40" y="346.73" width="0.85" height="31.87" fill="#aaaaaa"/><rect x="306.20" y="345.39" width="0.85" height="33.21" fill="#e9a4a4"/><rect x="307.00" y="351.12" width="0.85" height="27.48" fill="#e9a4a4"/><rect x="307.80" y="347.32" width="0.85" height="31.28" fill="#aaaaaa"/><rect x="308.60" y="350.27" width="0.85" height="28.33" fill="#e9a4a4"/><rect x="309.40" y="344.51" width="0.85" height="34.09" fill="#e9a4a4"/><rect x="310.20" y="351.68" width="0.85" height="26.92" fill="#e9a4a4"/><rect x="311.00" y="350.40" width="0.85" height="28.20" fill="#aaaaaa"/><rect x="311.80" y="347.23" width="0.85" height="31.37" fill="#e9a4a4"/><rect x="312.60" y="352.27" width="0.85" height="26.33" fill="#aaaaaa"/><rect x="313.40" y="346.81" width="0.85" height="31.79" fill="#aaaaaa"/><rect x="314.20" y="347.34" width="0.85" height="31.26" fill="#e9a4a4"/><rect x="315.00" y="344.93" width="0.85" height="33.67" fill="#aaaaaa"/><rect x="315.80" y="352.33" width="0.85" height="26.27" fill="#aaaaaa"/><rect x="316.60" y="352.64" width="0.85" height="25.96" fill="#e9a4a4"/><rect x="317.40" y="347.06" width="0.85" height="31.54" fill="#e9a4a4"/><rect x="318.20" y="352.94" width="0.85" height="25.66" fill="#aaaaaa"/><rect x="319.00" y="348.47" width="0.85" height="30.13" fill="#e9a4a4"/><rect x="319.80" y="348.92" width="0.85" height="29.68" fill="#e9a4a4"/><rect x="320.60" y="352.56" width="0.85" height="26.04" fill="#e9a4a4"/><rect x="321.40" y="351.08" width="0.85" height="27.52" fill="#aaaaaa"/><rect x="322.20" y="350.76" width="0.85" height="27.84" fill="#aaaaaa"/><rect x="323.00" y="348.56" width="0.85" height="30.04" fill="#e9a4a4"/><rect x="323.80" y="345.78" width="0.85" height="32.82" fill="#e9a4a4"/><rect x="324.60" y="349.00" width="0.85" height="29.60" fill="#e9a4a4"/><rect x="325.40" y="343.84" width="0.85" height="34.76" fill="#aaaaaa"/><rect x="326.20" y="343.76" width="0.85" height="34.84" fill="#e9a4a4"/><rect x="327.00" y="341.57" width="0.85" height="37.03" fill="#e9a4a4"/><rect x="327.80" y="343.43" width="0.85" height="35.17" fill="#aaaaaa"/><rect x="328.60" y="347.41" width="0.85" height="31.19" fill="#aaaaaa"/><rect x="329.40" y="341.98" width="0.85" height="36.62" fill="#e9a4a4"/><rect x="330.20" y="340.24" width="0.85" height="38.36" fill="#e9a4a4"/><rect x="331.00" y="345.04" width="0.85" height="33.56" fill="#e9a4a4"/><rect x="331.80" y="341.13" width="0.85" height="37.47" fill="#e9a4a4"/><rect x="332.60" y="344.12" width="0.85" height="34.48" fill="#aaaaaa"/><rect x="333.40" y="345.03" width="0.85" height="33.57" fill="#aaaaaa"/><rect x="334.20" y="344.26" width="0.85" height="34.34" fill="#e9a4a4"/><rect x="335.00" y="345.56" width="0.85" height="33.04" fill="#e9a4a4"/><rect x="335.80" y="343.26" width="0.85" height="35.34" fill="#e9a4a4"/><rect x="336.60" y="344.52" width="0.85" height="34.08" fill="#e9a4a4"/><rect x="337.40" y="340.49" width="0.85" height="38.11" fill="#e9a4a4"/><rect x="338.20" y="339.63" width="0.85" height="38.97" fill="#aaaaaa"/><rect x="339.00" y="320.00" width="0.85" height="58.60" fill="#e9a4a4"/><rect x="339.80" y="341.36" width="0.85" height="37.24" fill="#aaaaaa"/><rect x="340.60" y="342.15" width="0.85" height="36.45" fill="#e9a4a4"/><rect x="341.40" y="344.45" width="0.85" height="34.15" fill="#aaaaaa"/><rect x="342.20" y="345.80" width="0.85" height="32.80" fill="#e9a4a4"/><rect x="343.00" y="341.56" width="0.85" height="37.04" fill="#aaaaaa"/><rect x="343.80" y="344.38" width="0.85" height="34.22" fill="#aaaaaa"/><rect x="344.60" y="337.88" width="0.85" height="40.72" fill="#e9a4a4"/><rect x="345.40" y="338.17" width="0.85" height="40.43" fill="#e9a4a4"/><rect x="346.20" y="344.43" width="0.85" height="34.17" fill="#e9a4a4"/><rect x="347.00" y="343.51" width="0.85" height="35.09" fill="#e9a4a4"/><rect x="347.80" y="342.43" width="0.85" height="36.17" fill="#e9a4a4"/><rect x="348.60" y="337.01" width="0.85" height="41.59" fill="#aaaaaa"/><rect x="349.40" y="341.92" width="0.85" height="36.68" fill="#e9a4a4"/><rect x="350.20" y="338.55" width="0.85" height="40.05" fill="#aaaaaa"/><rect x="351.00" y="334.96" width="0.85" height="43.64" fill="#e9a4a4"/><rect x="351.80" y="333.77" width="0.85" height="44.83" fill="#e9a4a4"/><rect x="352.60" y="334.57" width="0.85" height="44.03" fill="#e9a4a4"/><rect x="353.40" y="337.78" width="0.85" height="40.82" fill="#e9a4a4"/><rect x="354.20" y="332.70" width="0.85" height="45.90" fill="#e9a4a4"/><rect x="355.00" y="338.08" width="0.85" height="40.52" fill="#e9a4a4"/><rect x="355.80" y="335.19" width="0.85" height="43.41" fill="#e9a4a4"/><rect x="356.60" y="339.09" width="0.85" height="39.51" fill="#e9a4a4"/><rect x="357.40" y="333.28" width="0.85" height="45.32" fill="#e9a4a4"/><rect x="358.20" y="335.97" width="0.85" height="42.63" fill="#e9a4a4"/><rect x="359.00" y="337.96" width="0.85" height="40.64" fill="#e9a4a4"/><rect x="359.80" y="334.20" width="0.85" height="44.40" fill="#aaaaaa"/><rect x="360.60" y="336.21" width="0.85" height="42.39" fill="#e9a4a4"/><rect x="361.40" y="335.43" width="0.85" height="43.17" fill="#aaaaaa"/><rect x="362.20" y="335.51" width="0.85" height="43.09" fill="#e9a4a4"/><rect x="363.00" y="335.91" width="0.85" height="42.69" fill="#e9a4a4"/><rect x="363.80" y="340.00" width="0.85" height="38.60" fill="#aaaaaa"/><rect x="364.60" y="336.04" width="0.85" height="42.56" fill="#e9a4a4"/><rect x="365.40" y="338.99" width="0.85" height="39.61" fill="#e9a4a4"/><rect x="366.20" y="333.26" width="0.85" height="45.34" fill="#aaaaaa"/><rect x="367.00" y="336.64" width="0.85" height="41.96" fill="#aaaaaa"/><rect x="367.80" y="336.54" width="0.85" height="42.06" fill="#aaaaaa"/><rect x="368.60" y="337.02" width="0.85" height="41.58" fill="#e9a4a4"/><rect x="369.40" y="333.49" width="0.85" height="45.11" fill="#e9a4a4"/><rect x="370.20" y="338.54" width="0.85" height="40.06" fill="#aaaaaa"/><rect x="371.00" y="330.00" width="0.85" height="48.60" fill="#aaaaaa"/><rect x="371.80" y="336.46" width="0.85" height="42.14" fill="#e9a4a4"/><rect x="372.60" y="336.02" width="0.85" height="42.58" fill="#e9a4a4"/><rect x="373.40" y="340.82" width="0.85" height="37.78" fill="#aaaaaa"/><rect x="374.20" y="339.32" width="0.85" height="39.28" fill="#e9a4a4"/><rect x="375.00" y="346.69" width="0.85" height="31.91" fill="#aaaaaa"/><rect x="375.80" y="343.63" width="0.85" height="34.97" fill="#e9a4a4"/><rect x="376.60" y="350.09" width="0.85" height="28.51" fill="#aaaaaa"/><rect x="377.40" y="346.46" width="0.85" height="32.14" fill="#e9a4a4"/><rect x="378.20" y="350.07" width="0.85" height="28.53" fill="#e9a4a4"/><rect x="379.00" y="349.95" width="0.85" height="28.65" fill="#aaaaaa"/><rect x="379.80" y="349.37" width="0.85" height="29.23" fill="#e9a4a4"/><rect x="380.60" y="349.12" width="0.85" height="29.48" fill="#e9a4a4"/><rect x="381.40" y="346.12" width="0.85" height="32.48" fill="#aaaaaa"/><rect x="382.20" y="349.58" width="0.85" height="29.02" fill="#e9a4a4"/><rect x="383.00" y="344.75" width="0.85" height="33.85" fill="#e9a4a4"/><rect x="383.80" y="347.20" width="0.85" height="31.40" fill="#e9a4a4"/><rect x="384.60" y="344.10" width="0.85" height="34.50" fill="#e9a4a4"/><rect x="385.40" y="348.97" width="0.85" height="29.63" fill="#aaaaaa"/><rect x="386.20" y="343.56" width="0.85" height="35.04" fill="#e9a4a4"/><rect x="387.00" y="349.35" width="0.85" height="29.25" fill="#e9a4a4"/><rect x="387.80" y="350.05" width="0.85" height="28.55" fill="#e9a4a4"/><rect x="388.60" y="312.50" width="0.85" height="66.10" fill="#e9a4a4"/><rect x="389.40" y="348.47" width="0.85" height="30.13" fill="#e9a4a4"/><rect x="390.20" y="346.86" width="0.85" height="31.74" fill="#e9a4a4"/><rect x="391.00" y="346.91" width="0.85" height="31.69" fill="#aaaaaa"/><rect x="391.80" y="347.07" width="0.85" height="31.53" fill="#e9a4a4"/><rect x="392.60" y="343.69" width="0.85" height="34.91" fill="#aaaaaa"/><rect x="393.40" y="347.42" width="0.85" height="31.18" fill="#e9a4a4"/><rect x="394.20" y="349.61" width="0.85" height="28.99" fill="#aaaaaa"/><rect x="395.00" y="347.17" width="0.85" height="31.43" fill="#e9a4a4"/><rect x="395.80" y="347.29" width="0.85" height="31.31" fill="#e9a4a4"/><rect x="396.60" y="344.53" width="0.85" height="34.07" fill="#e9a4a4"/><rect x="397.40" y="344.23" width="0.85" height="34.37" fill="#e9a4a4"/><rect x="398.20" y="347.58" width="0.85" height="31.02" fill="#e9a4a4"/><rect x="399.00" y="348.59" width="0.85" height="30.01" fill="#e9a4a4"/><rect x="399.80" y="349.37" width="0.85" height="29.23" fill="#aaaaaa"/><rect x="400.60" y="347.59" width="0.85" height="31.01" fill="#e9a4a4"/><rect x="401.40" y="347.53" width="0.85" height="31.07" fill="#e9a4a4"/><rect x="402.20" y="351.11" width="0.85" height="27.49" fill="#e9a4a4"/><rect x="403.00" y="350.36" width="0.85" height="28.24" fill="#aaaaaa"/><rect x="403.80" y="349.36" width="0.85" height="29.24" fill="#aaaaaa"/><rect x="404.60" y="345.05" width="0.85" height="33.55" fill="#aaaaaa"/><rect x="405.40" y="347.43" width="0.85" height="31.17" fill="#aaaaaa"/><rect x="406.20" y="350.83" width="0.85" height="27.77" fill="#e9a4a4"/><rect x="407.00" y="349.81" width="0.85" height="28.79" fill="#aaaaaa"/><rect x="407.80" y="344.02" width="0.85" height="34.58" fill="#e9a4a4"/><rect x="408.60" y="349.55" width="0.85" height="29.05" fill="#e9a4a4"/><rect x="409.40" y="350.67" width="0.85" height="27.93" fill="#e9a4a4"/><rect x="410.20" y="350.02" width="0.85" height="28.58" fill="#e9a4a4"/><rect x="411.00" y="347.48" width="0.85" height="31.12" fill="#aaaaaa"/><rect x="411.80" y="345.09" width="0.85" height="33.51" fill="#e9a4a4"/><rect x="412.60" y="347.44" width="0.85" height="31.16" fill="#e9a4a4"/><rect x="413.40" y="343.66" width="0.85" height="34.94" fill="#e9a4a4"/><rect x="414.20" y="335.00" width="0.85" height="43.60" fill="#e9a4a4"/><rect x="415.00" y="348.74" width="0.85" height="29.86" fill="#aaaaaa"/><rect x="415.80" y="344.62" width="0.85" height="33.98" fill="#aaaaaa"/><rect x="416.60" y="344.16" width="0.85" height="34.44" fill="#e9a4a4"/><rect x="417.40" y="348.29" width="0.85" height="30.31" fill="#e9a4a4"/><rect x="418.20" y="335.00" width="0.85" height="43.60" fill="#aaaaaa"/><rect x="419.00" y="347.78" width="0.85" height="30.82" fill="#aaaaaa"/><rect x="419.80" y="343.94" width="0.85" height="34.66" fill="#aaaaaa"/><rect x="420.60" y="348.11" width="0.85" height="30.49" fill="#e9a4a4"/><rect x="421.40" y="349.43" width="0.85" height="29.17" fill="#e9a4a4"/><rect x="422.20" y="350.94" width="0.85" height="27.66" fill="#e9a4a4"/><rect x="423.00" y="345.86" width="0.85" height="32.74" fill="#aaaaaa"/><rect x="423.80" y="346.49" width="0.85" height="32.11" fill="#e9a4a4"/><rect x="424.60" y="348.86" width="0.85" height="29.74" fill="#e9a4a4"/><rect x="425.40" y="349.44" width="0.85" height="29.16" fill="#e9a4a4"/><rect x="426.20" y="347.97" width="0.85" height="30.63" fill="#aaaaaa"/><rect x="427.00" y="347.51" width="0.85" height="31.09" fill="#aaaaaa"/><rect x="427.80" y="345.29" width="0.85" height="33.31" fill="#e9a4a4"/><rect x="428.60" y="343.03" width="0.85" height="35.57" fill="#e9a4a4"/><rect x="429.40" y="347.65" width="0.85" height="30.95" fill="#e9a4a4"/><rect x="430.20" y="346.79" width="0.85" height="31.81" fill="#aaaaaa"/><rect x="431.00" y="343.72" width="0.85" height="34.88" fill="#e9a4a4"/><rect x="431.80" y="347.85" width="0.85" height="30.75" fill="#e9a4a4"/><rect x="432.60" y="342.62" width="0.85" height="35.98" fill="#e9a4a4"/><rect x="433.40" y="343.41" width="0.85" height="35.19" fill="#e9a4a4"/><rect x="434.20" y="344.33" width="0.85" height="34.27" fill="#e9a4a4"/><rect x="435.00" y="347.21" width="0.85" height="31.39" fill="#e9a4a4"/><rect x="435.80" y="344.69" width="0.85" height="33.91" fill="#e9a4a4"/><rect x="436.60" y="337.98" width="0.85" height="40.62" fill="#aaaaaa"/><rect x="437.40" y="337.60" width="0.85" height="41.00" fill="#e9a4a4"/><rect x="438.20" y="306.00" width="0.85" height="72.60" fill="#e9a4a4"/><rect x="439.00" y="343.22" width="0.85" height="35.38" fill="#aaaaaa"/><rect x="439.80" y="339.77" width="0.85" height="38.83" fill="#e9a4a4"/><rect x="440.60" y="336.94" width="0.85" height="41.66" fill="#aaaaaa"/><rect x="441.40" y="341.65" width="0.85" height="36.95" fill="#e9a4a4"/><rect x="442.20" y="342.61" width="0.85" height="35.99" fill="#e9a4a4"/><rect x="443.00" y="345.25" width="0.85" height="33.35" fill="#aaaaaa"/><rect x="443.80" y="340.04" width="0.85" height="38.56" fill="#aaaaaa"/><rect x="444.60" y="338.70" width="0.85" height="39.90" fill="#e9a4a4"/><rect x="445.40" y="341.99" width="0.85" height="36.61" fill="#e9a4a4"/><rect x="446.20" y="339.69" width="0.85" height="38.91" fill="#aaaaaa"/><rect x="447.00" y="339.80" width="0.85" height="38.80" fill="#e9a4a4"/><rect x="447.80" y="347.71" width="0.85" height="30.89" fill="#e9a4a4"/><rect x="448.60" y="342.26" width="0.85" height="36.34" fill="#aaaaaa"/><rect x="449.40" y="345.20" width="0.85" height="33.40" fill="#aaaaaa"/><rect x="450.20" y="348.13" width="0.85" height="30.47" fill="#e9a4a4"/><rect x="451.00" y="344.58" width="0.85" height="34.02" fill="#e9a4a4"/><rect x="451.80" y="342.97" width="0.85" height="35.63" fill="#aaaaaa"/><rect x="452.60" y="349.32" width="0.85" height="29.28" fill="#aaaaaa"/><rect x="453.40" y="343.59" width="0.85" height="35.01" fill="#aaaaaa"/><rect x="454.20" y="349.98" width="0.85" height="28.62" fill="#e9a4a4"/><rect x="455.00" y="350.43" width="0.85" height="28.17" fill="#e9a4a4"/><rect x="455.80" y="346.15" width="0.85" height="32.45" fill="#e9a4a4"/><rect x="456.60" y="346.04" width="0.85" height="32.56" fill="#e9a4a4"/><rect x="457.40" y="346.70" width="0.85" height="31.90" fill="#aaaaaa"/><rect x="458.20" y="349.42" width="0.85" height="29.18" fill="#aaaaaa"/><rect x="459.00" y="349.39" width="0.85" height="29.21" fill="#e9a4a4"/><rect x="459.80" y="347.97" width="0.85" height="30.63" fill="#e9a4a4"/><rect x="460.60" y="349.69" width="0.85" height="28.91" fill="#e9a4a4"/><rect x="461.40" y="345.34" width="0.85" height="33.26" fill="#aaaaaa"/><rect x="462.20" y="350.78" width="0.85" height="27.82" fill="#e9a4a4"/><rect x="463.00" y="349.94" width="0.85" height="28.66" fill="#e9a4a4"/><rect x="463.80" y="344.82" width="0.85" height="33.78" fill="#e9a4a4"/><rect x="464.60" y="348.53" width="0.85" height="30.07" fill="#aaaaaa"/><rect x="465.40" y="348.39" width="0.85" height="30.21" fill="#e9a4a4"/><rect x="466.20" y="349.30" width="0.85" height="29.30" fill="#e9a4a4"/><rect x="467.00" y="344.01" width="0.85" height="34.59" fill="#aaaaaa"/><rect x="467.80" y="346.99" width="0.85" height="31.61" fill="#aaaaaa"/><rect x="468.60" y="347.10" width="0.85" height="31.50" fill="#aaaaaa"/><rect x="469.40" y="345.38" width="0.85" height="33.22" fill="#aaaaaa"/><rect x="470.20" y="347.04" width="0.85" height="31.56" fill="#aaaaaa"/><rect x="471.00" y="344.80" width="0.85" height="33.80" fill="#aaaaaa"/><rect x="471.80" y="345.70" width="0.85" height="32.90" fill="#e9a4a4"/><rect x="472.60" y="342.68" width="0.85" height="35.92" fill="#aaaaaa"/><rect x="473.40" y="341.44" width="0.85" height="37.16" fill="#aaaaaa"/><rect x="474.20" y="341.82" width="0.85" height="36.78" fill="#e9a4a4"/><rect x="475.00" y="341.35" width="0.85" height="37.25" fill="#aaaaaa"/><rect x="475.80" y="343.10" width="0.85" height="35.50" fill="#e9a4a4"/><rect x="476.60" y="340.41" width="0.85" height="38.19" fill="#e9a4a4"/><rect x="477.40" y="345.56" width="0.85" height="33.04" fill="#aaaaaa"/><rect x="478.20" y="345.44" width="0.85" height="33.16" fill="#aaaaaa"/><rect x="479.00" y="340.23" width="0.85" height="38.37" fill="#e9a4a4"/><rect x="479.80" y="320.50" width="0.85" height="58.10" fill="#e9a4a4"/><rect x="480.60" y="346.12" width="0.85" height="32.48" fill="#aaaaaa"/><rect x="481.40" y="340.17" width="0.85" height="38.43" fill="#aaaaaa"/><rect x="482.20" y="347.04" width="0.85" height="31.56" fill="#aaaaaa"/><rect x="483.00" y="340.66" width="0.85" height="37.94" fill="#e9a4a4"/><rect x="483.80" y="340.78" width="0.85" height="37.82" fill="#e9a4a4"/><rect x="484.60" y="346.74" width="0.85" height="31.86" fill="#aaaaaa"/><rect x="485.40" y="345.11" width="0.85" height="33.49" fill="#aaaaaa"/><rect x="486.20" y="345.17" width="0.85" height="33.43" fill="#e9a4a4"/><rect x="487.00" y="341.00" width="0.85" height="37.60" fill="#e9a4a4"/><rect x="487.80" y="346.34" width="0.85" height="32.26" fill="#e9a4a4"/><rect x="488.60" y="323.50" width="0.85" height="55.10" fill="#e9a4a4"/><rect x="489.40" y="340.61" width="0.85" height="37.99" fill="#e9a4a4"/><rect x="490.20" y="342.79" width="0.85" height="35.81" fill="#aaaaaa"/><rect x="491.00" y="343.58" width="0.85" height="35.02" fill="#e9a4a4"/><rect x="491.80" y="338.80" width="0.85" height="39.80" fill="#e9a4a4"/><rect x="492.60" y="347.66" width="0.85" height="30.94" fill="#aaaaaa"/><rect x="493.40" y="341.20" width="0.85" height="37.40" fill="#e9a4a4"/><rect x="494.20" y="344.55" width="0.85" height="34.05" fill="#aaaaaa"/><rect x="495.00" y="343.94" width="0.85" height="34.66" fill="#aaaaaa"/><rect x="495.80" y="345.58" width="0.85" height="33.02" fill="#e9a4a4"/><rect x="496.60" y="348.28" width="0.85" height="30.32" fill="#e9a4a4"/><rect x="497.40" y="348.05" width="0.85" height="30.55" fill="#e9a4a4"/><rect x="498.20" y="341.60" width="0.85" height="37.00" fill="#e9a4a4"/><rect x="499.00" y="347.80" width="0.85" height="30.80" fill="#aaaaaa"/><rect x="499.80" y="341.84" width="0.85" height="36.76" fill="#e9a4a4"/><rect x="500.60" y="345.85" width="0.85" height="32.75" fill="#aaaaaa"/><rect x="501.40" y="343.50" width="0.85" height="35.10" fill="#e9a4a4"/><rect x="502.20" y="344.90" width="0.85" height="33.70" fill="#aaaaaa"/><rect x="503.00" y="344.32" width="0.85" height="34.28" fill="#aaaaaa"/><rect x="503.80" y="344.61" width="0.85" height="33.99" fill="#e9a4a4"/><rect x="504.60" y="348.04" width="0.85" height="30.56" fill="#e9a4a4"/><rect x="505.40" y="343.38" width="0.85" height="35.22" fill="#aaaaaa"/><rect x="506.20" y="343.15" width="0.85" height="35.45" fill="#aaaaaa"/><rect x="507.00" y="335.70" width="0.85" height="42.90" fill="#aaaaaa"/><rect x="507.80" y="347.52" width="0.85" height="31.08" fill="#e9a4a4"/><rect x="508.60" y="345.71" width="0.85" height="32.89" fill="#e9a4a4"/><rect x="509.40" y="349.62" width="0.85" height="28.98" fill="#e9a4a4"/><rect x="510.20" y="349.61" width="0.85" height="28.99" fill="#e9a4a4"/><rect x="511.00" y="344.15" width="0.85" height="34.45" fill="#e9a4a4"/><rect x="511.80" y="349.71" width="0.85" height="28.89" fill="#e9a4a4"/><rect x="512.60" y="345.53" width="0.85" height="33.07" fill="#aaaaaa"/><rect x="513.40" y="344.37" width="0.85" height="34.23" fill="#e9a4a4"/><rect x="514.20" y="346.75" width="0.85" height="31.85" fill="#aaaaaa"/><rect x="515.00" y="348.52" width="0.85" height="30.08" fill="#aaaaaa"/><rect x="515.80" y="345.29" width="0.85" height="33.31" fill="#e9a4a4"/><rect x="516.60" y="343.74" width="0.85" height="34.86" fill="#aaaaaa"/><rect x="517.40" y="347.80" width="0.85" height="30.80" fill="#aaaaaa"/><rect x="518.20" y="343.86" width="0.85" height="34.74" fill="#e9a4a4"/><rect x="519.00" y="348.69" width="0.85" height="29.91" fill="#e9a4a4"/><rect x="519.80" y="343.51" width="0.85" height="35.09" fill="#e9a4a4"/><rect x="520.60" y="349.61" width="0.85" height="28.99" fill="#e9a4a4"/><rect x="521.40" y="344.10" width="0.85" height="34.50" fill="#e9a4a4"/><rect x="522.20" y="348.24" width="0.85" height="30.36" fill="#aaaaaa"/><rect x="523.00" y="343.89" width="0.85" height="34.71" fill="#e9a4a4"/><rect x="523.80" y="344.67" width="0.85" height="33.93" fill="#e9a4a4"/><rect x="524.60" y="346.91" width="0.85" height="31.69" fill="#e9a4a4"/><rect x="525.40" y="345.39" width="0.85" height="33.21" fill="#e9a4a4"/><rect x="526.20" y="350.61" width="0.85" height="27.99" fill="#aaaaaa"/><rect x="527.00" y="343.66" width="0.85" height="34.94" fill="#aaaaaa"/><rect x="527.80" y="343.70" width="0.85" height="34.90" fill="#e9a4a4"/><rect x="528.60" y="350.80" width="0.85" height="27.80" fill="#aaaaaa"/><rect x="529.40" y="348.84" width="0.85" height="29.76" fill="#e9a4a4"/><rect x="530.20" y="344.58" width="0.85" height="34.02" fill="#aaaaaa"/><rect x="531.00" y="343.90" width="0.85" height="34.70" fill="#e9a4a4"/><rect x="531.80" y="346.20" width="0.85" height="32.40" fill="#e9a4a4"/><rect x="532.60" y="346.32" width="0.85" height="32.28" fill="#aaaaaa"/><rect x="533.40" y="348.72" width="0.85" height="29.88" fill="#e9a4a4"/><rect x="534.20" y="348.27" width="0.85" height="30.33" fill="#e9a4a4"/><rect x="535.00" y="344.38" width="0.85" height="34.22" fill="#aaaaaa"/><rect x="535.80" y="346.53" width="0.85" height="32.07" fill="#aaaaaa"/><rect x="536.60" y="350.59" width="0.85" height="28.01" fill="#e9a4a4"/><rect x="537.40" y="347.96" width="0.85" height="30.64" fill="#aaaaaa"/><rect x="538.20" y="346.78" width="0.85" height="31.82" fill="#e9a4a4"/><rect x="539.00" y="322.50" width="0.85" height="56.10" fill="#e9a4a4"/><rect x="539.80" y="349.68" width="0.85" height="28.92" fill="#aaaaaa"/><rect x="540.60" y="350.20" width="0.85" height="28.40" fill="#aaaaaa"/><rect x="541.40" y="348.35" width="0.85" height="30.25" fill="#e9a4a4"/><rect x="542.20" y="345.56" width="0.85" height="33.04" fill="#aaaaaa"/><rect x="543.00" y="343.68" width="0.85" height="34.92" fill="#e9a4a4"/><rect x="543.80" y="349.00" width="0.85" height="29.60" fill="#aaaaaa"/><rect x="544.60" y="347.62" width="0.85" height="30.98" fill="#e9a4a4"/><rect x="545.40" y="345.81" width="0.85" height="32.79" fill="#e9a4a4"/><rect x="546.20" y="347.23" width="0.85" height="31.37" fill="#e9a4a4"/><rect x="547.00" y="347.50" width="0.85" height="31.10" fill="#aaaaaa"/><rect x="547.80" y="343.40" width="0.85" height="35.20" fill="#aaaaaa"/><rect x="548.60" y="348.01" width="0.85" height="30.59" fill="#e9a4a4"/><rect x="549.40" y="345.54" width="0.85" height="33.06" fill="#aaaaaa"/><rect x="550.20" y="341.77" width="0.85" height="36.83" fill="#e9a4a4"/><rect x="551.00" y="342.59" width="0.85" height="36.01" fill="#aaaaaa"/><rect x="551.80" y="348.66" width="0.85" height="29.94" fill="#e9a4a4"/><rect x="552.60" y="341.79" width="0.85" height="36.81" fill="#e9a4a4"/><rect x="553.40" y="345.15" width="0.85" height="33.45" fill="#aaaaaa"/><rect x="554.20" y="344.76" width="0.85" height="33.84" fill="#aaaaaa"/><rect x="555.00" y="347.13" width="0.85" height="31.47" fill="#e9a4a4"/><rect x="555.80" y="343.10" width="0.85" height="35.50" fill="#aaaaaa"/><rect x="556.60" y="340.81" width="0.85" height="37.79" fill="#aaaaaa"/><rect x="557.40" y="341.58" width="0.85" height="37.02" fill="#aaaaaa"/><rect x="558.20" y="338.74" width="0.85" height="39.86" fill="#aaaaaa"/><rect x="559.00" y="339.92" width="0.85" height="38.68" fill="#e9a4a4"/><rect x="559.80" y="338.58" width="0.85" height="40.02" fill="#e9a4a4"/><rect x="560.60" y="335.81" width="0.85" height="42.79" fill="#e9a4a4"/><rect x="561.40" y="338.38" width="0.85" height="40.22" fill="#aaaaaa"/><rect x="562.20" y="337.49" width="0.85" height="41.11" fill="#e9a4a4"/><rect x="563.00" y="337.17" width="0.85" height="41.43" fill="#aaaaaa"/><rect x="563.80" y="343.59" width="0.85" height="35.01" fill="#e9a4a4"/><rect x="564.60" y="338.53" width="0.85" height="40.07" fill="#aaaaaa"/><rect x="565.40" y="340.61" width="0.85" height="37.99" fill="#e9a4a4"/><rect x="566.20" y="339.21" width="0.85" height="39.39" fill="#aaaaaa"/><rect x="567.00" y="345.35" width="0.85" height="33.25" fill="#aaaaaa"/><rect x="567.80" y="343.33" width="0.85" height="35.27" fill="#e9a4a4"/><rect x="568.60" y="342.08" width="0.85" height="36.52" fill="#aaaaaa"/><rect x="569.40" y="343.80" width="0.85" height="34.80" fill="#aaaaaa"/><rect x="570.20" y="348.03" width="0.85" height="30.57" fill="#aaaaaa"/><rect x="571.00" y="345.17" width="0.85" height="33.43" fill="#e9a4a4"/><rect x="571.80" y="345.75" width="0.85" height="32.85" fill="#e9a4a4"/><rect x="572.60" y="347.97" width="0.85" height="30.63" fill="#e9a4a4"/><rect x="573.40" y="348.04" width="0.85" height="30.56" fill="#e9a4a4"/><rect x="574.20" y="344.19" width="0.85" height="34.41" fill="#e9a4a4"/><rect x="575.00" y="344.52" width="0.85" height="34.08" fill="#e9a4a4"/><rect x="575.80" y="341.08" width="0.85" height="37.52" fill="#aaaaaa"/><rect x="576.60" y="343.24" width="0.85" height="35.36" fill="#e9a4a4"/><rect x="577.40" y="343.35" width="0.85" height="35.25" fill="#e9a4a4"/><rect x="578.20" y="344.30" width="0.85" height="34.30" fill="#aaaaaa"/><rect x="579.00" y="346.08" width="0.85" height="32.52" fill="#e9a4a4"/><rect x="579.80" y="348.18" width="0.85" height="30.42" fill="#aaaaaa"/><rect x="580.60" y="331.70" width="0.85" height="46.90" fill="#aaaaaa"/><rect x="581.40" y="347.87" width="0.85" height="30.73" fill="#aaaaaa"/><rect x="582.20" y="341.68" width="0.85" height="36.92" fill="#aaaaaa"/><rect x="583.00" y="345.57" width="0.85" height="33.03" fill="#e9a4a4"/><rect x="583.80" y="341.48" width="0.85" height="37.12" fill="#aaaaaa"/><rect x="584.60" y="347.53" width="0.85" height="31.07" fill="#e9a4a4"/><rect x="585.40" y="343.98" width="0.85" height="34.62" fill="#e9a4a4"/><rect x="586.20" y="345.92" width="0.85" height="32.68" fill="#aaaaaa"/><rect x="587.00" y="347.72" width="0.85" height="30.88" fill="#e9a4a4"/><rect x="587.80" y="353.07" width="0.85" height="25.53" fill="#aaaaaa"/><rect x="588.60" y="326.60" width="0.85" height="52.00" fill="#aaaaaa"/><rect x="589.40" y="352.48" width="0.85" height="26.12" fill="#aaaaaa"/><rect x="590.20" y="304.20" width="0.85" height="74.40" fill="#e9a4a4"/><rect x="591.00" y="355.69" width="0.85" height="22.91" fill="#aaaaaa"/><rect x="591.80" y="351.86" width="0.85" height="26.74" fill="#aaaaaa"/><rect x="592.60" y="353.67" width="0.85" height="24.93" fill="#aaaaaa"/><rect x="593.40" y="351.49" width="0.85" height="27.11" fill="#aaaaaa"/><rect x="594.20" y="350.98" width="0.85" height="27.62" fill="#e9a4a4"/><rect x="595.00" y="346.97" width="0.85" height="31.63" fill="#e9a4a4"/><rect x="595.80" y="347.60" width="0.85" height="31.00" fill="#e9a4a4"/><rect x="596.60" y="345.96" width="0.85" height="32.64" fill="#e9a4a4"/><rect x="597.40" y="345.43" width="0.85" height="33.17" fill="#e9a4a4"/><rect x="598.20" y="345.82" width="0.85" height="32.78" fill="#aaaaaa"/><rect x="599.00" y="341.55" width="0.85" height="37.05" fill="#aaaaaa"/><rect x="599.80" y="345.24" width="0.85" height="33.36" fill="#e9a4a4"/><rect x="600.60" y="346.82" width="0.85" height="31.78" fill="#aaaaaa"/><rect x="601.40" y="344.50" width="0.85" height="34.10" fill="#e9a4a4"/><rect x="602.20" y="349.18" width="0.85" height="29.42" fill="#e9a4a4"/><rect x="603.00" y="346.60" width="0.85" height="32.00" fill="#aaaaaa"/><rect x="603.80" y="341.73" width="0.85" height="36.87" fill="#aaaaaa"/><rect x="604.60" y="346.96" width="0.85" height="31.64" fill="#aaaaaa"/><rect x="605.40" y="344.14" width="0.85" height="34.46" fill="#aaaaaa"/></g><path fill="none" stroke="#c8506a" stroke-width="1.1" d="M30.00,379.00 C32.00,376.17 38.00,367.17 42.00,362.00 C46.00,356.83 47.67,355.75 54.00,348.00 C60.33,340.25 73.12,323.50 80.00,315.50 C86.88,307.50 89.23,307.53 95.30,300.00 C101.37,292.47 109.37,279.22 116.40,270.30 C123.43,261.38 130.47,253.77 137.50,246.50 C144.53,239.23 151.57,233.07 158.60,226.70 C165.63,220.33 172.80,214.02 179.70,208.30 C186.60,202.58 194.58,196.67 200.00,192.40 C205.42,188.13 208.15,184.82 212.20,182.70 C216.25,180.58 220.57,180.48 224.30,179.70 C228.03,178.92 230.60,178.65 234.60,178.00 C238.60,177.35 243.85,176.45 248.30,175.80 C252.75,175.15 257.95,173.92 261.30,174.10 C264.65,174.28 265.05,175.38 268.40,176.90 C271.75,178.42 276.13,180.40 281.40,183.20 C286.67,186.00 294.40,190.62 300.00,193.70 C305.60,196.78 310.70,199.45 315.00,201.70 C319.30,203.95 321.35,203.87 325.80,207.20 C330.25,210.53 336.42,216.43 341.70,221.70 C346.98,226.97 352.75,233.53 357.50,238.80 C362.25,244.07 365.88,250.10 370.20,253.30 C374.52,256.50 378.97,256.12 383.40,258.00 C387.83,259.88 392.33,262.18 396.80,264.60 C401.27,267.02 406.12,270.43 410.20,272.50 C414.28,274.57 418.00,276.00 421.30,277.00 C424.60,278.00 426.78,278.12 430.00,278.50 C433.22,278.88 436.97,279.92 440.60,279.30 C444.23,278.68 448.57,275.82 451.80,274.80 C455.03,273.78 456.95,273.82 460.00,273.20 C463.05,272.58 466.05,271.52 470.10,271.10 C474.15,270.68 479.90,271.72 484.30,270.70 C488.70,269.68 493.12,266.95 496.50,265.00 C499.88,263.05 501.55,261.87 504.60,259.00 C507.65,256.13 510.57,251.70 514.80,247.80 C519.03,243.90 526.63,238.20 530.00,235.60 C533.37,233.00 531.33,233.97 535.00,232.20 C538.67,230.43 547.83,227.03 552.00,225.00 C556.17,222.97 557.17,221.58 560.00,220.00 C562.83,218.42 566.30,216.93 569.00,215.50 C571.70,214.07 573.37,212.93 576.20,211.40 C579.03,209.87 583.28,207.70 586.00,206.30 C588.72,204.90 590.58,204.17 592.50,203.00 C594.42,201.83 595.48,201.07 597.50,199.30 C599.52,197.53 603.42,193.55 604.60,192.40"/><path fill="none" stroke="#3c3ca8" stroke-width="1.1" d="M2.00,339.40 C3.57,336.80 8.40,328.20 11.40,323.80 C14.40,319.40 17.17,316.30 20.00,313.00 C22.83,309.70 25.07,307.17 28.40,304.00 C31.73,300.83 36.55,297.50 40.00,294.00 C43.45,290.50 46.05,286.95 49.10,283.00 C52.15,279.05 55.25,274.70 58.30,270.30 C61.35,265.90 64.37,260.72 67.40,256.60 C70.43,252.48 73.45,248.95 76.50,245.60 C79.55,242.25 82.65,239.38 85.70,236.50 C88.75,233.62 91.77,230.88 94.80,228.30 C97.83,225.72 101.37,223.13 103.90,221.00 C106.43,218.87 107.92,217.75 110.00,215.50 C112.08,213.25 113.57,211.00 116.40,207.50 C119.23,204.00 122.97,198.30 127.00,194.50 C131.03,190.70 135.73,186.53 140.60,184.70 C145.47,182.87 151.37,185.18 156.20,183.50 C161.03,181.82 165.13,177.93 169.60,174.60 C174.07,171.27 178.18,168.70 183.00,163.50 C187.82,158.30 195.23,146.98 198.50,143.40 C201.77,139.82 201.02,141.73 202.60,142.00 C204.18,142.27 206.22,143.75 208.00,145.00 C209.78,146.25 211.40,147.92 213.30,149.50 C215.20,151.08 217.38,152.42 219.40,154.50 C221.42,156.58 223.63,159.42 225.40,162.00 C227.17,164.58 228.48,167.17 230.00,170.00 C231.52,172.83 233.17,176.50 234.50,179.00 C235.83,181.50 236.92,183.50 238.00,185.00 C239.08,186.50 240.00,187.25 241.00,188.00 C242.00,188.75 242.80,189.33 244.00,189.50 C245.20,189.67 246.87,189.33 248.20,189.00 C249.53,188.67 250.70,187.50 252.00,187.50 C253.30,187.50 254.67,188.17 256.00,189.00 C257.33,189.83 258.50,191.25 260.00,192.50 C261.50,193.75 262.33,193.58 265.00,196.50 C267.67,199.42 272.83,204.75 276.00,210.00 C279.17,215.25 281.33,221.47 284.00,228.00 C286.67,234.53 289.33,242.60 292.00,249.20 C294.67,255.80 297.83,262.63 300.00,267.60 C302.17,272.57 303.33,276.55 305.00,279.00 C306.67,281.45 308.33,282.13 310.00,282.30 C311.67,282.47 312.80,282.18 315.00,280.00 C317.20,277.82 319.63,272.77 323.20,269.20 C326.77,265.63 333.10,259.93 336.40,258.60 C339.70,257.27 340.58,259.67 343.00,261.20 C345.42,262.73 348.07,262.95 350.90,267.80 C353.73,272.65 356.78,283.60 360.00,290.30 C363.22,297.00 367.42,304.83 370.20,308.00 C372.98,311.17 374.50,310.57 376.70,309.30 C378.90,308.03 380.80,303.75 383.40,300.40 C386.00,297.05 389.33,292.00 392.30,289.20 C395.27,286.40 398.22,285.83 401.20,283.60 C404.18,281.37 407.22,277.65 410.20,275.80 C413.18,273.95 415.80,273.47 419.10,272.50 C422.40,271.53 427.15,271.10 430.00,270.00 C432.85,268.90 433.32,267.33 436.20,265.90 C439.08,264.47 443.33,262.47 447.30,261.40 C451.27,260.33 456.20,260.57 460.00,259.50 C463.80,258.43 466.72,258.13 470.10,255.00 C473.48,251.87 477.00,244.87 480.30,240.70 C483.60,236.53 486.95,233.48 489.90,230.00 C492.85,226.52 495.30,223.93 498.00,219.80 C500.70,215.67 503.40,209.80 506.10,205.20 C508.80,200.60 511.77,195.85 514.20,192.20 C516.63,188.55 518.53,185.33 520.70,183.30 C522.87,181.27 525.03,180.95 527.20,180.00 C529.37,179.05 531.80,178.27 533.70,177.60 C535.60,176.93 536.72,175.60 538.60,176.00 C540.48,176.40 542.83,178.12 545.00,180.00 C547.17,181.88 549.43,185.00 551.60,187.30 C553.77,189.60 555.77,191.90 558.00,193.80 C560.23,195.70 563.00,197.50 565.00,198.70 C567.00,199.90 568.37,200.63 570.00,201.00 C571.63,201.37 572.58,201.87 574.80,200.90 C577.02,199.93 580.47,198.52 583.30,195.20 C586.13,191.88 588.97,185.73 591.80,181.00 C594.63,176.27 598.17,170.82 600.30,166.80 C602.43,162.78 603.88,158.55 604.60,156.90"/><line x1="2.00" y1="303.46" x2="2.00" y2="313.33" stroke="#b8203f" stroke-width="1.05"/><line x1="2.80" y1="300.25" x2="2.80" y2="315.75" stroke="#b8203f" stroke-width="1.05"/><line x1="3.60" y1="304.58" x2="3.60" y2="312.99" stroke="#0a0a0a" stroke-width="1.05"/><line x1="4.40" y1="299.62" x2="4.40" y2="308.72" stroke="#b8203f" stroke-width="1.05"/><line x1="5.20" y1="297.89" x2="5.20" y2="305.06" stroke="#0a0a0a" stroke-width="1.05"/><line x1="6.00" y1="297.32" x2="6.00" y2="306.45" stroke="#0a0a0a" stroke-width="1.05"/><line x1="6.80" y1="292.11" x2="6.80" y2="306.12" stroke="#0a0a0a" stroke-width="1.05"/><line x1="7.60" y1="297.52" x2="7.60" y2="305.74" stroke="#b8203f" stroke-width="1.05"/><line x1="8.40" y1="299.89" x2="8.40" y2="311.87" stroke="#0a0a0a" stroke-width="1.05"/><line x1="9.20" y1="299.44" x2="9.20" y2="309.67" stroke="#0a0a0a" stroke-width="1.05"/><line x1="10.00" y1="304.15" x2="10.00" y2="318.10" stroke="#0a0a0a" stroke-width="1.05"/><line x1="10.80" y1="298.50" x2="10.80" y2="319.73" stroke="#0a0a0a" stroke-width="1.05"/><line x1="11.60" y1="298.62" x2="11.60" y2="307.13" stroke="#0a0a0a" stroke-width="1.05"/><line x1="12.40" y1="301.67" x2="12.40" y2="310.97" stroke="#b8203f" stroke-width="1.05"/><line x1="13.20" y1="293.61" x2="13.20" y2="306.23" stroke="#b8203f" stroke-width="1.05"/><line x1="14.00" y1="289.28" x2="14.00" y2="300.89" stroke="#b8203f" stroke-width="1.05"/><line x1="14.80" y1="283.33" x2="14.80" y2="299.69" stroke="#b8203f" stroke-width="1.05"/><line x1="15.60" y1="287.77" x2="15.60" y2="295.62" stroke="#0a0a0a" stroke-width="1.05"/><line x1="16.40" y1="281.35" x2="16.40" y2="292.63" stroke="#0a0a0a" stroke-width="1.05"/><line x1="17.20" y1="287.12" x2="17.20" y2="293.24" stroke="#b8203f" stroke-width="1.05"/><line x1="18.00" y1="280.78" x2="18.00" y2="290.51" stroke="#b8203f" stroke-width="1.05"/><line x1="18.80" y1="280.22" x2="18.80" y2="290.31" stroke="#0a0a0a" stroke-width="1.05"/><line x1="19.60" y1="277.42" x2="19.60" y2="290.00" stroke="#0a0a0a" stroke-width="1.05"/><line x1="20.40" y1="281.37" x2="20.40" y2="289.43" stroke="#b8203f" stroke-width="1.05"/><line x1="21.20" y1="283.13" x2="21.20" y2="289.31" stroke="#0a0a0a" stroke-width="1.05"/><line x1="22.00" y1="286.08" x2="22.00" y2="293.09" stroke="#0a0a0a" stroke-width="1.05"/><line x1="22.80" y1="280.95" x2="22.80" y2="294.20" stroke="#0a0a0a" stroke-width="1.05"/><line x1="23.60" y1="284.69" x2="23.60" y2="294.61" stroke="#b8203f" stroke-width="1.05"/><line x1="24.40" y1="282.25" x2="24.40" y2="297.51" stroke="#0a0a0a" stroke-width="1.05"/><line x1="25.20" y1="281.82" x2="25.20" y2="301.40" stroke="#0a0a0a" stroke-width="1.05"/><line x1="26.00" y1="283.60" x2="26.00" y2="293.76" stroke="#0a0a0a" stroke-width="1.05"/><line x1="26.80" y1="286.50" x2="26.80" y2="303.33" stroke="#b8203f" stroke-width="1.05"/><line x1="27.60" y1="301.52" x2="27.60" y2="313.01" stroke="#0a0a0a" stroke-width="1.05"/><line x1="28.40" y1="302.80" x2="28.40" y2="314.37" stroke="#0a0a0a" stroke-width="1.05"/><line x1="29.20" y1="290.90" x2="29.20" y2="320.67" stroke="#0a0a0a" stroke-width="1.05"/><line x1="30.00" y1="292.98" x2="30.00" y2="312.35" stroke="#b8203f" stroke-width="1.05"/><line x1="30.80" y1="284.64" x2="30.80" y2="301.23" stroke="#b8203f" stroke-width="1.05"/><line x1="31.60" y1="283.90" x2="31.60" y2="298.05" stroke="#b8203f" stroke-width="1.05"/><line x1="32.40" y1="286.30" x2="32.40" y2="294.85" stroke="#b8203f" stroke-width="1.05"/><line x1="33.20" y1="275.38" x2="33.20" y2="289.38" stroke="#b8203f" stroke-width="1.05"/><line x1="34.00" y1="273.94" x2="34.00" y2="284.50" stroke="#0a0a0a" stroke-width="1.05"/><line x1="34.80" y1="273.10" x2="34.80" y2="282.84" stroke="#b8203f" stroke-width="1.05"/><line x1="35.60" y1="271.44" x2="35.60" y2="279.50" stroke="#0a0a0a" stroke-width="1.05"/><line x1="36.40" y1="270.33" x2="36.40" y2="282.73" stroke="#b8203f" stroke-width="1.05"/><line x1="37.20" y1="270.30" x2="37.20" y2="282.94" stroke="#0a0a0a" stroke-width="1.05"/><line x1="38.00" y1="274.19" x2="38.00" y2="283.64" stroke="#0a0a0a" stroke-width="1.05"/><line x1="38.80" y1="277.75" x2="38.80" y2="286.09" stroke="#b8203f" stroke-width="1.05"/><line x1="39.60" y1="276.08" x2="39.60" y2="287.63" stroke="#0a0a0a" stroke-width="1.05"/><line x1="40.40" y1="275.10" x2="40.40" y2="291.26" stroke="#b8203f" stroke-width="1.05"/><line x1="41.20" y1="274.78" x2="41.20" y2="290.30" stroke="#b8203f" stroke-width="1.05"/><line x1="42.00" y1="274.93" x2="42.00" y2="286.29" stroke="#b8203f" stroke-width="1.05"/><line x1="42.80" y1="273.15" x2="42.80" y2="279.38" stroke="#b8203f" stroke-width="1.05"/><line x1="43.60" y1="268.36" x2="43.60" y2="278.48" stroke="#b8203f" stroke-width="1.05"/><line x1="44.40" y1="265.11" x2="44.40" y2="275.10" stroke="#0a0a0a" stroke-width="1.05"/><line x1="45.20" y1="259.65" x2="45.20" y2="265.48" stroke="#0a0a0a" stroke-width="1.05"/><line x1="46.00" y1="252.30" x2="46.00" y2="268.70" stroke="#b8203f" stroke-width="1.05"/><line x1="46.80" y1="257.82" x2="46.80" y2="264.45" stroke="#b8203f" stroke-width="1.05"/><line x1="47.60" y1="249.45" x2="47.60" y2="261.29" stroke="#0a0a0a" stroke-width="1.05"/><line x1="48.40" y1="245.28" x2="48.40" y2="259.46" stroke="#b8203f" stroke-width="1.05"/><line x1="49.20" y1="243.58" x2="49.20" y2="254.53" stroke="#0a0a0a" stroke-width="1.05"/><line x1="50.00" y1="244.16" x2="50.00" y2="252.41" stroke="#0a0a0a" stroke-width="1.05"/><line x1="50.80" y1="241.18" x2="50.80" y2="249.92" stroke="#0a0a0a" stroke-width="1.05"/><line x1="51.60" y1="238.10" x2="51.60" y2="245.53" stroke="#0a0a0a" stroke-width="1.05"/><line x1="52.40" y1="233.30" x2="52.40" y2="243.12" stroke="#b8203f" stroke-width="1.05"/><line x1="53.20" y1="232.20" x2="53.20" y2="239.14" stroke="#0a0a0a" stroke-width="1.05"/><line x1="54.00" y1="229.70" x2="54.00" y2="237.30" stroke="#0a0a0a" stroke-width="1.05"/><line x1="54.80" y1="231.44" x2="54.80" y2="237.05" stroke="#b8203f" stroke-width="1.05"/><line x1="55.60" y1="229.40" x2="55.60" y2="235.03" stroke="#0a0a0a" stroke-width="1.05"/><line x1="56.40" y1="227.82" x2="56.40" y2="232.32" stroke="#0a0a0a" stroke-width="1.05"/><line x1="57.20" y1="227.20" x2="57.20" y2="234.08" stroke="#0a0a0a" stroke-width="1.05"/><line x1="58.00" y1="225.70" x2="58.00" y2="235.30" stroke="#0a0a0a" stroke-width="1.05"/><line x1="58.80" y1="230.70" x2="58.80" y2="234.72" stroke="#0a0a0a" stroke-width="1.05"/><line x1="59.60" y1="227.60" x2="59.60" y2="231.65" stroke="#b8203f" stroke-width="1.05"/><line x1="60.40" y1="226.58" x2="60.40" y2="230.59" stroke="#0a0a0a" stroke-width="1.05"/><line x1="61.20" y1="223.55" x2="61.20" y2="231.20" stroke="#0a0a0a" stroke-width="1.05"/><line x1="62.00" y1="224.01" x2="62.00" y2="231.06" stroke="#0a0a0a" stroke-width="1.05"/><line x1="62.80" y1="222.75" x2="62.80" y2="228.35" stroke="#b8203f" stroke-width="1.05"/><line x1="63.60" y1="225.11" x2="63.60" y2="230.28" stroke="#b8203f" stroke-width="1.05"/><line x1="64.40" y1="223.16" x2="64.40" y2="230.00" stroke="#0a0a0a" stroke-width="1.05"/><line x1="65.20" y1="221.37" x2="65.20" y2="230.83" stroke="#0a0a0a" stroke-width="1.05"/><line x1="66.00" y1="223.95" x2="66.00" y2="229.73" stroke="#0a0a0a" stroke-width="1.05"/><line x1="66.80" y1="228.23" x2="66.80" y2="241.20" stroke="#b8203f" stroke-width="1.05"/><line x1="67.60" y1="229.37" x2="67.60" y2="249.23" stroke="#0a0a0a" stroke-width="1.05"/><line x1="68.40" y1="230.90" x2="68.40" y2="252.30" stroke="#b8203f" stroke-width="1.05"/><line x1="69.20" y1="237.16" x2="69.20" y2="247.89" stroke="#b8203f" stroke-width="1.05"/><line x1="70.00" y1="231.70" x2="70.00" y2="252.30" stroke="#0a0a0a" stroke-width="1.05"/><line x1="70.80" y1="231.21" x2="70.80" y2="242.27" stroke="#b8203f" stroke-width="1.05"/><line x1="71.60" y1="229.32" x2="71.60" y2="243.12" stroke="#0a0a0a" stroke-width="1.05"/><line x1="72.40" y1="229.94" x2="72.40" y2="237.35" stroke="#b8203f" stroke-width="1.05"/><line x1="73.20" y1="226.50" x2="73.20" y2="238.77" stroke="#0a0a0a" stroke-width="1.05"/><line x1="74.00" y1="227.65" x2="74.00" y2="236.13" stroke="#b8203f" stroke-width="1.05"/><line x1="74.80" y1="224.52" x2="74.80" y2="232.94" stroke="#0a0a0a" stroke-width="1.05"/><line x1="75.60" y1="224.10" x2="75.60" y2="232.37" stroke="#b8203f" stroke-width="1.05"/><line x1="76.40" y1="223.40" x2="76.40" y2="230.90" stroke="#b8203f" stroke-width="1.05"/><line x1="77.20" y1="223.85" x2="77.20" y2="227.37" stroke="#0a0a0a" stroke-width="1.05"/><line x1="78.00" y1="223.91" x2="78.00" y2="227.41" stroke="#0a0a0a" stroke-width="1.05"/><line x1="78.80" y1="221.69" x2="78.80" y2="225.48" stroke="#b8203f" stroke-width="1.05"/><line x1="79.60" y1="221.00" x2="79.60" y2="227.70" stroke="#0a0a0a" stroke-width="1.05"/><line x1="80.40" y1="220.47" x2="80.40" y2="227.19" stroke="#0a0a0a" stroke-width="1.05"/><line x1="81.20" y1="221.08" x2="81.20" y2="227.22" stroke="#b8203f" stroke-width="1.05"/><line x1="82.00" y1="221.11" x2="82.00" y2="224.69" stroke="#0a0a0a" stroke-width="1.05"/><line x1="82.80" y1="220.23" x2="82.80" y2="226.70" stroke="#b8203f" stroke-width="1.05"/><line x1="83.60" y1="218.67" x2="83.60" y2="226.37" stroke="#b8203f" stroke-width="1.05"/><line x1="84.40" y1="220.40" x2="84.40" y2="225.92" stroke="#0a0a0a" stroke-width="1.05"/><line x1="85.20" y1="217.94" x2="85.20" y2="222.81" stroke="#b8203f" stroke-width="1.05"/><line x1="86.00" y1="217.99" x2="86.00" y2="224.79" stroke="#b8203f" stroke-width="1.05"/><line x1="86.80" y1="218.45" x2="86.80" y2="229.05" stroke="#0a0a0a" stroke-width="1.05"/><line x1="87.60" y1="224.88" x2="87.60" y2="230.61" stroke="#0a0a0a" stroke-width="1.05"/><line x1="88.40" y1="222.45" x2="88.40" y2="233.05" stroke="#0a0a0a" stroke-width="1.05"/><line x1="89.20" y1="220.40" x2="89.20" y2="228.68" stroke="#b8203f" stroke-width="1.05"/><line x1="90.00" y1="223.09" x2="90.00" y2="227.17" stroke="#b8203f" stroke-width="1.05"/><line x1="90.80" y1="215.93" x2="90.80" y2="224.53" stroke="#0a0a0a" stroke-width="1.05"/><line x1="91.60" y1="214.35" x2="91.60" y2="219.04" stroke="#0a0a0a" stroke-width="1.05"/><line x1="92.40" y1="213.25" x2="92.40" y2="220.89" stroke="#b8203f" stroke-width="1.05"/><line x1="93.20" y1="209.73" x2="93.20" y2="218.33" stroke="#b8203f" stroke-width="1.05"/><line x1="94.00" y1="207.37" x2="94.00" y2="215.98" stroke="#0a0a0a" stroke-width="1.05"/><line x1="94.80" y1="204.25" x2="94.80" y2="211.87" stroke="#b8203f" stroke-width="1.05"/><line x1="95.60" y1="202.20" x2="95.60" y2="207.26" stroke="#0a0a0a" stroke-width="1.05"/><line x1="96.40" y1="199.40" x2="96.40" y2="208.09" stroke="#0a0a0a" stroke-width="1.05"/><line x1="97.20" y1="201.01" x2="97.20" y2="206.46" stroke="#0a0a0a" stroke-width="1.05"/><line x1="98.00" y1="196.43" x2="98.00" y2="202.44" stroke="#0a0a0a" stroke-width="1.05"/><line x1="98.80" y1="196.74" x2="98.80" y2="203.57" stroke="#0a0a0a" stroke-width="1.05"/><line x1="99.60" y1="193.98" x2="99.60" y2="197.98" stroke="#b8203f" stroke-width="1.05"/><line x1="100.40" y1="192.76" x2="100.40" y2="201.46" stroke="#0a0a0a" stroke-width="1.05"/><line x1="101.20" y1="194.45" x2="101.20" y2="200.49" stroke="#b8203f" stroke-width="1.05"/><line x1="102.00" y1="193.06" x2="102.00" y2="198.77" stroke="#0a0a0a" stroke-width="1.05"/><line x1="102.80" y1="193.21" x2="102.80" y2="201.00" stroke="#b8203f" stroke-width="1.05"/><line x1="103.60" y1="200.84" x2="103.60" y2="206.12" stroke="#0a0a0a" stroke-width="1.05"/><line x1="104.40" y1="197.27" x2="104.40" y2="215.23" stroke="#0a0a0a" stroke-width="1.05"/><line x1="105.20" y1="197.18" x2="105.20" y2="216.04" stroke="#0a0a0a" stroke-width="1.05"/><line x1="106.00" y1="195.31" x2="106.00" y2="207.08" stroke="#0a0a0a" stroke-width="1.05"/><line x1="106.80" y1="192.30" x2="106.80" y2="203.00" stroke="#0a0a0a" stroke-width="1.05"/><line x1="107.60" y1="193.30" x2="107.60" y2="199.17" stroke="#0a0a0a" stroke-width="1.05"/><line x1="108.40" y1="190.58" x2="108.40" y2="196.68" stroke="#0a0a0a" stroke-width="1.05"/><line x1="109.20" y1="191.07" x2="109.20" y2="195.14" stroke="#b8203f" stroke-width="1.05"/><line x1="110.00" y1="186.20" x2="110.00" y2="193.90" stroke="#b8203f" stroke-width="1.05"/><line x1="110.80" y1="188.64" x2="110.80" y2="193.23" stroke="#0a0a0a" stroke-width="1.05"/><line x1="111.60" y1="187.71" x2="111.60" y2="193.90" stroke="#0a0a0a" stroke-width="1.05"/><line x1="112.40" y1="187.44" x2="112.40" y2="192.26" stroke="#0a0a0a" stroke-width="1.05"/><line x1="113.20" y1="190.37" x2="113.20" y2="193.44" stroke="#0a0a0a" stroke-width="1.05"/><line x1="114.00" y1="186.20" x2="114.00" y2="192.90" stroke="#0a0a0a" stroke-width="1.05"/><line x1="114.80" y1="184.97" x2="114.80" y2="190.83" stroke="#0a0a0a" stroke-width="1.05"/><line x1="115.60" y1="184.64" x2="115.60" y2="190.37" stroke="#0a0a0a" stroke-width="1.05"/><line x1="116.40" y1="185.19" x2="116.40" y2="190.81" stroke="#0a0a0a" stroke-width="1.05"/><line x1="117.20" y1="182.81" x2="117.20" y2="189.09" stroke="#b8203f" stroke-width="1.05"/><line x1="118.00" y1="182.20" x2="118.00" y2="190.90" stroke="#0a0a0a" stroke-width="1.05"/><line x1="118.80" y1="182.61" x2="118.80" y2="188.31" stroke="#0a0a0a" stroke-width="1.05"/><line x1="119.60" y1="181.75" x2="119.60" y2="185.93" stroke="#0a0a0a" stroke-width="1.05"/><line x1="120.40" y1="181.52" x2="120.40" y2="187.62" stroke="#0a0a0a" stroke-width="1.05"/><line x1="121.20" y1="178.71" x2="121.20" y2="187.82" stroke="#0a0a0a" stroke-width="1.05"/><line x1="122.00" y1="183.66" x2="122.00" y2="192.20" stroke="#0a0a0a" stroke-width="1.05"/><line x1="122.80" y1="183.59" x2="122.80" y2="195.98" stroke="#0a0a0a" stroke-width="1.05"/><line x1="123.60" y1="185.69" x2="123.60" y2="192.46" stroke="#b8203f" stroke-width="1.05"/><line x1="124.40" y1="177.21" x2="124.40" y2="182.70" stroke="#0a0a0a" stroke-width="1.05"/><line x1="125.20" y1="172.85" x2="125.20" y2="180.99" stroke="#b8203f" stroke-width="1.05"/><line x1="126.00" y1="172.76" x2="126.00" y2="179.86" stroke="#b8203f" stroke-width="1.05"/><line x1="126.80" y1="172.50" x2="126.80" y2="176.31" stroke="#b8203f" stroke-width="1.05"/><line x1="127.60" y1="168.69" x2="127.60" y2="177.31" stroke="#0a0a0a" stroke-width="1.05"/><line x1="128.40" y1="167.68" x2="128.40" y2="176.48" stroke="#0a0a0a" stroke-width="1.05"/><line x1="129.20" y1="169.08" x2="129.20" y2="173.17" stroke="#0a0a0a" stroke-width="1.05"/><line x1="130.00" y1="166.74" x2="130.00" y2="170.71" stroke="#b8203f" stroke-width="1.05"/><line x1="130.80" y1="165.73" x2="130.80" y2="175.13" stroke="#b8203f" stroke-width="1.05"/><line x1="131.60" y1="166.07" x2="131.60" y2="175.55" stroke="#b8203f" stroke-width="1.05"/><line x1="132.40" y1="170.96" x2="132.40" y2="175.09" stroke="#0a0a0a" stroke-width="1.05"/><line x1="133.20" y1="169.19" x2="133.20" y2="176.12" stroke="#0a0a0a" stroke-width="1.05"/><line x1="134.00" y1="170.10" x2="134.00" y2="179.50" stroke="#0a0a0a" stroke-width="1.05"/><line x1="134.80" y1="173.02" x2="134.80" y2="179.27" stroke="#b8203f" stroke-width="1.05"/><line x1="135.60" y1="174.40" x2="135.60" y2="179.64" stroke="#b8203f" stroke-width="1.05"/><line x1="136.40" y1="174.79" x2="136.40" y2="184.06" stroke="#b8203f" stroke-width="1.05"/><line x1="137.20" y1="176.64" x2="137.20" y2="182.39" stroke="#0a0a0a" stroke-width="1.05"/><line x1="138.00" y1="177.43" x2="138.00" y2="182.88" stroke="#0a0a0a" stroke-width="1.05"/><line x1="138.80" y1="178.70" x2="138.80" y2="186.10" stroke="#0a0a0a" stroke-width="1.05"/><line x1="139.60" y1="184.79" x2="139.60" y2="191.45" stroke="#0a0a0a" stroke-width="1.05"/><line x1="140.40" y1="188.66" x2="140.40" y2="205.83" stroke="#b8203f" stroke-width="1.05"/><line x1="141.20" y1="191.63" x2="141.20" y2="203.30" stroke="#0a0a0a" stroke-width="1.05"/><line x1="142.00" y1="186.41" x2="142.00" y2="198.67" stroke="#0a0a0a" stroke-width="1.05"/><line x1="142.80" y1="181.00" x2="142.80" y2="197.30" stroke="#0a0a0a" stroke-width="1.05"/><line x1="143.60" y1="186.37" x2="143.60" y2="193.90" stroke="#0a0a0a" stroke-width="1.05"/><line x1="144.40" y1="192.40" x2="144.40" y2="199.95" stroke="#0a0a0a" stroke-width="1.05"/><line x1="145.20" y1="192.39" x2="145.20" y2="204.67" stroke="#0a0a0a" stroke-width="1.05"/><line x1="146.00" y1="195.62" x2="146.00" y2="205.20" stroke="#0a0a0a" stroke-width="1.05"/><line x1="146.80" y1="194.51" x2="146.80" y2="208.77" stroke="#b8203f" stroke-width="1.05"/><line x1="147.60" y1="193.49" x2="147.60" y2="211.59" stroke="#b8203f" stroke-width="1.05"/><line x1="148.40" y1="191.04" x2="148.40" y2="201.38" stroke="#0a0a0a" stroke-width="1.05"/><line x1="149.20" y1="188.61" x2="149.20" y2="205.11" stroke="#0a0a0a" stroke-width="1.05"/><line x1="150.00" y1="195.09" x2="150.00" y2="203.00" stroke="#b8203f" stroke-width="1.05"/><line x1="150.80" y1="188.85" x2="150.80" y2="195.87" stroke="#0a0a0a" stroke-width="1.05"/><line x1="151.60" y1="185.60" x2="151.60" y2="199.51" stroke="#b8203f" stroke-width="1.05"/><line x1="152.40" y1="185.15" x2="152.40" y2="196.43" stroke="#b8203f" stroke-width="1.05"/><line x1="153.20" y1="184.41" x2="153.20" y2="195.78" stroke="#0a0a0a" stroke-width="1.05"/><line x1="154.00" y1="178.70" x2="154.00" y2="195.00" stroke="#b8203f" stroke-width="1.05"/><line x1="154.80" y1="181.09" x2="154.80" y2="187.88" stroke="#0a0a0a" stroke-width="1.05"/><line x1="155.60" y1="170.98" x2="155.60" y2="180.82" stroke="#0a0a0a" stroke-width="1.05"/><line x1="156.40" y1="165.00" x2="156.40" y2="176.59" stroke="#0a0a0a" stroke-width="1.05"/><line x1="157.20" y1="165.88" x2="157.20" y2="174.22" stroke="#b8203f" stroke-width="1.05"/><line x1="158.00" y1="161.80" x2="158.00" y2="171.72" stroke="#0a0a0a" stroke-width="1.05"/><line x1="158.80" y1="160.21" x2="158.80" y2="169.71" stroke="#0a0a0a" stroke-width="1.05"/><line x1="159.60" y1="159.70" x2="159.60" y2="166.14" stroke="#0a0a0a" stroke-width="1.05"/><line x1="160.40" y1="159.14" x2="160.40" y2="166.60" stroke="#0a0a0a" stroke-width="1.05"/><line x1="161.20" y1="155.82" x2="161.20" y2="161.77" stroke="#0a0a0a" stroke-width="1.05"/><line x1="162.00" y1="153.62" x2="162.00" y2="163.12" stroke="#0a0a0a" stroke-width="1.05"/><line x1="162.80" y1="156.04" x2="162.80" y2="160.42" stroke="#0a0a0a" stroke-width="1.05"/><line x1="163.60" y1="150.03" x2="163.60" y2="157.74" stroke="#b8203f" stroke-width="1.05"/><line x1="164.40" y1="147.37" x2="164.40" y2="152.26" stroke="#b8203f" stroke-width="1.05"/><line x1="165.20" y1="142.87" x2="165.20" y2="152.41" stroke="#0a0a0a" stroke-width="1.05"/><line x1="166.00" y1="144.63" x2="166.00" y2="151.00" stroke="#b8203f" stroke-width="1.05"/><line x1="166.80" y1="143.06" x2="166.80" y2="149.79" stroke="#0a0a0a" stroke-width="1.05"/><line x1="167.60" y1="140.01" x2="167.60" y2="146.80" stroke="#0a0a0a" stroke-width="1.05"/><line x1="168.40" y1="135.53" x2="168.40" y2="146.19" stroke="#0a0a0a" stroke-width="1.05"/><line x1="169.20" y1="136.68" x2="169.20" y2="145.22" stroke="#0a0a0a" stroke-width="1.05"/><line x1="170.00" y1="137.50" x2="170.00" y2="141.78" stroke="#0a0a0a" stroke-width="1.05"/><line x1="170.80" y1="137.62" x2="170.80" y2="143.37" stroke="#b8203f" stroke-width="1.05"/><line x1="171.60" y1="136.33" x2="171.60" y2="143.84" stroke="#0a0a0a" stroke-width="1.05"/><line x1="172.40" y1="138.21" x2="172.40" y2="144.19" stroke="#0a0a0a" stroke-width="1.05"/><line x1="173.20" y1="137.01" x2="173.20" y2="143.42" stroke="#0a0a0a" stroke-width="1.05"/><line x1="174.00" y1="137.93" x2="174.00" y2="144.07" stroke="#b8203f" stroke-width="1.05"/><line x1="174.80" y1="131.40" x2="174.80" y2="143.70" stroke="#b8203f" stroke-width="1.05"/><line x1="175.60" y1="135.60" x2="175.60" y2="145.61" stroke="#b8203f" stroke-width="1.05"/><line x1="176.40" y1="135.13" x2="176.40" y2="147.76" stroke="#0a0a0a" stroke-width="1.05"/><line x1="177.20" y1="139.96" x2="177.20" y2="149.31" stroke="#0a0a0a" stroke-width="1.05"/><line x1="178.00" y1="139.07" x2="178.00" y2="148.46" stroke="#b8203f" stroke-width="1.05"/><line x1="178.80" y1="140.20" x2="178.80" y2="161.13" stroke="#b8203f" stroke-width="1.05"/><line x1="179.60" y1="144.04" x2="179.60" y2="158.80" stroke="#0a0a0a" stroke-width="1.05"/><line x1="180.40" y1="148.20" x2="180.40" y2="170.87" stroke="#b8203f" stroke-width="1.05"/><line x1="181.20" y1="152.01" x2="181.20" y2="161.01" stroke="#b8203f" stroke-width="1.05"/><line x1="182.00" y1="150.68" x2="182.00" y2="165.02" stroke="#0a0a0a" stroke-width="1.05"/><line x1="182.80" y1="147.40" x2="182.80" y2="160.49" stroke="#0a0a0a" stroke-width="1.05"/><line x1="183.60" y1="140.59" x2="183.60" y2="160.82" stroke="#b8203f" stroke-width="1.05"/><line x1="184.40" y1="141.86" x2="184.40" y2="153.89" stroke="#0a0a0a" stroke-width="1.05"/><line x1="185.20" y1="144.96" x2="185.20" y2="152.76" stroke="#0a0a0a" stroke-width="1.05"/><line x1="186.00" y1="136.87" x2="186.00" y2="151.47" stroke="#0a0a0a" stroke-width="1.05"/><line x1="186.80" y1="138.81" x2="186.80" y2="151.34" stroke="#b8203f" stroke-width="1.05"/><line x1="187.60" y1="136.06" x2="187.60" y2="144.62" stroke="#b8203f" stroke-width="1.05"/><line x1="188.40" y1="144.53" x2="188.40" y2="157.36" stroke="#0a0a0a" stroke-width="1.05"/><line x1="189.20" y1="136.40" x2="189.20" y2="164.10" stroke="#0a0a0a" stroke-width="1.05"/><line x1="190.00" y1="136.02" x2="190.00" y2="162.90" stroke="#0a0a0a" stroke-width="1.05"/><line x1="190.80" y1="138.49" x2="190.80" y2="151.26" stroke="#0a0a0a" stroke-width="1.05"/><line x1="191.60" y1="134.49" x2="191.60" y2="150.52" stroke="#b8203f" stroke-width="1.05"/><line x1="192.40" y1="135.50" x2="192.40" y2="143.72" stroke="#0a0a0a" stroke-width="1.05"/><line x1="193.20" y1="135.90" x2="193.20" y2="141.42" stroke="#b8203f" stroke-width="1.05"/><line x1="194.00" y1="130.50" x2="194.00" y2="137.23" stroke="#b8203f" stroke-width="1.05"/><line x1="194.80" y1="122.75" x2="194.80" y2="134.11" stroke="#b8203f" stroke-width="1.05"/><line x1="195.60" y1="125.79" x2="195.60" y2="132.52" stroke="#0a0a0a" stroke-width="1.05"/><line x1="196.40" y1="123.83" x2="196.40" y2="129.56" stroke="#0a0a0a" stroke-width="1.05"/><line x1="197.20" y1="119.93" x2="197.20" y2="128.56" stroke="#0a0a0a" stroke-width="1.05"/><line x1="198.00" y1="119.10" x2="198.00" y2="129.43" stroke="#0a0a0a" stroke-width="1.05"/><line x1="198.80" y1="122.09" x2="198.80" y2="128.81" stroke="#b8203f" stroke-width="1.05"/><line x1="199.60" y1="128.97" x2="199.60" y2="135.63" stroke="#0a0a0a" stroke-width="1.05"/><line x1="200.40" y1="129.51" x2="200.40" y2="142.83" stroke="#0a0a0a" stroke-width="1.05"/><line x1="201.20" y1="130.42" x2="201.20" y2="137.97" stroke="#b8203f" stroke-width="1.05"/><line x1="202.00" y1="131.76" x2="202.00" y2="143.75" stroke="#0a0a0a" stroke-width="1.05"/><line x1="202.80" y1="129.69" x2="202.80" y2="155.63" stroke="#0a0a0a" stroke-width="1.05"/><line x1="203.60" y1="136.44" x2="203.60" y2="153.29" stroke="#0a0a0a" stroke-width="1.05"/><line x1="204.40" y1="139.81" x2="204.40" y2="154.91" stroke="#0a0a0a" stroke-width="1.05"/><line x1="205.20" y1="145.06" x2="205.20" y2="165.50" stroke="#0a0a0a" stroke-width="1.05"/><line x1="206.00" y1="155.18" x2="206.00" y2="175.38" stroke="#0a0a0a" stroke-width="1.05"/><line x1="206.80" y1="154.36" x2="206.80" y2="187.14" stroke="#0a0a0a" stroke-width="1.05"/><line x1="207.60" y1="163.88" x2="207.60" y2="193.32" stroke="#b8203f" stroke-width="1.05"/><line x1="208.40" y1="176.41" x2="208.40" y2="200.13" stroke="#0a0a0a" stroke-width="1.05"/><line x1="209.20" y1="182.50" x2="209.20" y2="222.92" stroke="#0a0a0a" stroke-width="1.05"/><line x1="210.00" y1="187.81" x2="210.00" y2="214.50" stroke="#0a0a0a" stroke-width="1.05"/><line x1="210.80" y1="184.10" x2="210.80" y2="212.10" stroke="#0a0a0a" stroke-width="1.05"/><line x1="211.60" y1="180.44" x2="211.60" y2="204.12" stroke="#0a0a0a" stroke-width="1.05"/><line x1="212.40" y1="174.18" x2="212.40" y2="187.70" stroke="#b8203f" stroke-width="1.05"/><line x1="213.20" y1="164.20" x2="213.20" y2="183.00" stroke="#0a0a0a" stroke-width="1.05"/><line x1="214.00" y1="164.55" x2="214.00" y2="175.50" stroke="#0a0a0a" stroke-width="1.05"/><line x1="214.80" y1="157.72" x2="214.80" y2="179.80" stroke="#0a0a0a" stroke-width="1.05"/><line x1="215.60" y1="158.94" x2="215.60" y2="179.40" stroke="#0a0a0a" stroke-width="1.05"/><line x1="216.40" y1="168.00" x2="216.40" y2="176.82" stroke="#0a0a0a" stroke-width="1.05"/><line x1="217.20" y1="170.30" x2="217.20" y2="181.00" stroke="#0a0a0a" stroke-width="1.05"/><line x1="218.00" y1="170.85" x2="218.00" y2="176.92" stroke="#0a0a0a" stroke-width="1.05"/><line x1="218.80" y1="167.20" x2="218.80" y2="176.18" stroke="#b8203f" stroke-width="1.05"/><line x1="219.60" y1="159.32" x2="219.60" y2="176.43" stroke="#0a0a0a" stroke-width="1.05"/><line x1="220.40" y1="162.34" x2="220.40" y2="171.74" stroke="#b8203f" stroke-width="1.05"/><line x1="221.20" y1="165.80" x2="221.20" y2="184.59" stroke="#0a0a0a" stroke-width="1.05"/><line x1="222.00" y1="174.21" x2="222.00" y2="187.74" stroke="#0a0a0a" stroke-width="1.05"/><line x1="222.80" y1="175.34" x2="222.80" y2="191.08" stroke="#b8203f" stroke-width="1.05"/><line x1="223.60" y1="178.13" x2="223.60" y2="199.61" stroke="#b8203f" stroke-width="1.05"/><line x1="224.40" y1="187.58" x2="224.40" y2="204.13" stroke="#0a0a0a" stroke-width="1.05"/><line x1="225.20" y1="187.35" x2="225.20" y2="211.96" stroke="#0a0a0a" stroke-width="1.05"/><line x1="226.00" y1="196.07" x2="226.00" y2="212.85" stroke="#0a0a0a" stroke-width="1.05"/><line x1="226.80" y1="205.62" x2="226.80" y2="227.33" stroke="#0a0a0a" stroke-width="1.05"/><line x1="227.60" y1="194.08" x2="227.60" y2="239.70" stroke="#b8203f" stroke-width="1.05"/><line x1="228.40" y1="198.84" x2="228.40" y2="215.74" stroke="#b8203f" stroke-width="1.05"/><line x1="229.20" y1="189.12" x2="229.20" y2="210.90" stroke="#b8203f" stroke-width="1.05"/><line x1="230.00" y1="190.45" x2="230.00" y2="205.72" stroke="#0a0a0a" stroke-width="1.05"/><line x1="230.80" y1="193.29" x2="230.80" y2="211.07" stroke="#0a0a0a" stroke-width="1.05"/><line x1="231.60" y1="192.33" x2="231.60" y2="216.46" stroke="#b8203f" stroke-width="1.05"/><line x1="232.40" y1="209.49" x2="232.40" y2="219.81" stroke="#b8203f" stroke-width="1.05"/><line x1="233.20" y1="206.20" x2="233.20" y2="224.16" stroke="#0a0a0a" stroke-width="1.05"/><line x1="234.00" y1="213.19" x2="234.00" y2="225.19" stroke="#0a0a0a" stroke-width="1.05"/><line x1="234.80" y1="218.69" x2="234.80" y2="225.58" stroke="#0a0a0a" stroke-width="1.05"/><line x1="235.60" y1="209.79" x2="235.60" y2="224.68" stroke="#b8203f" stroke-width="1.05"/><line x1="236.40" y1="204.05" x2="236.40" y2="216.18" stroke="#0a0a0a" stroke-width="1.05"/><line x1="237.20" y1="193.63" x2="237.20" y2="210.04" stroke="#0a0a0a" stroke-width="1.05"/><line x1="238.00" y1="193.50" x2="238.00" y2="203.48" stroke="#0a0a0a" stroke-width="1.05"/><line x1="238.80" y1="182.75" x2="238.80" y2="193.45" stroke="#b8203f" stroke-width="1.05"/><line x1="239.60" y1="178.40" x2="239.60" y2="191.20" stroke="#0a0a0a" stroke-width="1.05"/><line x1="240.40" y1="175.69" x2="240.40" y2="186.56" stroke="#0a0a0a" stroke-width="1.05"/><line x1="241.20" y1="170.24" x2="241.20" y2="183.04" stroke="#0a0a0a" stroke-width="1.05"/><line x1="242.00" y1="166.20" x2="242.00" y2="179.40" stroke="#0a0a0a" stroke-width="1.05"/><line x1="242.80" y1="167.67" x2="242.80" y2="174.23" stroke="#b8203f" stroke-width="1.05"/><line x1="243.60" y1="158.20" x2="243.60" y2="173.00" stroke="#0a0a0a" stroke-width="1.05"/><line x1="244.40" y1="158.57" x2="244.40" y2="166.59" stroke="#0a0a0a" stroke-width="1.05"/><line x1="245.20" y1="150.50" x2="245.20" y2="162.61" stroke="#0a0a0a" stroke-width="1.05"/><line x1="246.00" y1="153.70" x2="246.00" y2="166.67" stroke="#b8203f" stroke-width="1.05"/><line x1="246.80" y1="155.70" x2="246.80" y2="169.53" stroke="#0a0a0a" stroke-width="1.05"/><line x1="247.60" y1="156.50" x2="247.60" y2="171.19" stroke="#0a0a0a" stroke-width="1.05"/><line x1="248.40" y1="159.83" x2="248.40" y2="170.12" stroke="#0a0a0a" stroke-width="1.05"/><line x1="249.20" y1="156.70" x2="249.20" y2="168.70" stroke="#0a0a0a" stroke-width="1.05"/><line x1="250.00" y1="165.20" x2="250.00" y2="170.47" stroke="#0a0a0a" stroke-width="1.05"/><line x1="250.80" y1="170.11" x2="250.80" y2="181.91" stroke="#0a0a0a" stroke-width="1.05"/><line x1="251.60" y1="177.05" x2="251.60" y2="182.80" stroke="#0a0a0a" stroke-width="1.05"/><line x1="252.40" y1="178.40" x2="252.40" y2="188.72" stroke="#0a0a0a" stroke-width="1.05"/><line x1="253.20" y1="179.20" x2="253.20" y2="192.78" stroke="#0a0a0a" stroke-width="1.05"/><line x1="254.00" y1="184.94" x2="254.00" y2="195.70" stroke="#0a0a0a" stroke-width="1.05"/><line x1="254.80" y1="182.10" x2="254.80" y2="196.90" stroke="#0a0a0a" stroke-width="1.05"/><line x1="255.60" y1="184.34" x2="255.60" y2="191.60" stroke="#0a0a0a" stroke-width="1.05"/><line x1="256.40" y1="177.63" x2="256.40" y2="192.80" stroke="#b8203f" stroke-width="1.05"/><line x1="257.20" y1="176.18" x2="257.20" y2="190.99" stroke="#0a0a0a" stroke-width="1.05"/><line x1="258.00" y1="176.68" x2="258.00" y2="198.35" stroke="#0a0a0a" stroke-width="1.05"/><line x1="258.80" y1="199.42" x2="258.80" y2="226.15" stroke="#0a0a0a" stroke-width="1.05"/><line x1="259.60" y1="216.42" x2="259.60" y2="230.86" stroke="#b8203f" stroke-width="1.05"/><line x1="260.40" y1="208.10" x2="260.40" y2="234.93" stroke="#b8203f" stroke-width="1.05"/><line x1="261.20" y1="215.67" x2="261.20" y2="243.54" stroke="#0a0a0a" stroke-width="1.05"/><line x1="262.00" y1="209.70" x2="262.00" y2="250.30" stroke="#0a0a0a" stroke-width="1.05"/><line x1="262.80" y1="218.50" x2="262.80" y2="238.98" stroke="#0a0a0a" stroke-width="1.05"/><line x1="263.60" y1="210.42" x2="263.60" y2="235.94" stroke="#0a0a0a" stroke-width="1.05"/><line x1="264.40" y1="208.28" x2="264.40" y2="239.68" stroke="#b8203f" stroke-width="1.05"/><line x1="265.20" y1="208.96" x2="265.20" y2="242.69" stroke="#b8203f" stroke-width="1.05"/><line x1="266.00" y1="214.58" x2="266.00" y2="251.23" stroke="#0a0a0a" stroke-width="1.05"/><line x1="266.80" y1="236.45" x2="266.80" y2="257.27" stroke="#0a0a0a" stroke-width="1.05"/><line x1="267.60" y1="237.60" x2="267.60" y2="267.49" stroke="#0a0a0a" stroke-width="1.05"/><line x1="268.40" y1="243.99" x2="268.40" y2="289.22" stroke="#0a0a0a" stroke-width="1.05"/><line x1="269.20" y1="248.55" x2="269.20" y2="272.23" stroke="#b8203f" stroke-width="1.05"/><line x1="270.00" y1="266.23" x2="270.00" y2="280.60" stroke="#b8203f" stroke-width="1.05"/><line x1="270.80" y1="248.70" x2="270.80" y2="281.10" stroke="#0a0a0a" stroke-width="1.05"/><line x1="271.60" y1="256.72" x2="271.60" y2="279.71" stroke="#0a0a0a" stroke-width="1.05"/><line x1="272.40" y1="260.59" x2="272.40" y2="279.64" stroke="#b8203f" stroke-width="1.05"/><line x1="273.20" y1="255.81" x2="273.20" y2="292.83" stroke="#0a0a0a" stroke-width="1.05"/><line x1="274.00" y1="266.43" x2="274.00" y2="287.25" stroke="#0a0a0a" stroke-width="1.05"/><line x1="274.80" y1="259.70" x2="274.80" y2="304.30" stroke="#0a0a0a" stroke-width="1.05"/><line x1="275.60" y1="257.70" x2="275.60" y2="292.30" stroke="#b8203f" stroke-width="1.05"/><line x1="276.40" y1="254.70" x2="276.40" y2="282.01" stroke="#b8203f" stroke-width="1.05"/><line x1="277.20" y1="250.70" x2="277.20" y2="273.44" stroke="#b8203f" stroke-width="1.05"/><line x1="278.00" y1="250.08" x2="278.00" y2="258.86" stroke="#b8203f" stroke-width="1.05"/><line x1="278.80" y1="232.66" x2="278.80" y2="252.37" stroke="#b8203f" stroke-width="1.05"/><line x1="279.60" y1="237.71" x2="279.60" y2="250.28" stroke="#0a0a0a" stroke-width="1.05"/><line x1="280.40" y1="241.04" x2="280.40" y2="252.83" stroke="#0a0a0a" stroke-width="1.05"/><line x1="281.20" y1="231.77" x2="281.20" y2="254.15" stroke="#0a0a0a" stroke-width="1.05"/><line x1="282.00" y1="240.70" x2="282.00" y2="249.93" stroke="#0a0a0a" stroke-width="1.05"/><line x1="282.80" y1="236.54" x2="282.80" y2="249.25" stroke="#0a0a0a" stroke-width="1.05"/><line x1="283.60" y1="235.08" x2="283.60" y2="252.61" stroke="#0a0a0a" stroke-width="1.05"/><line x1="284.40" y1="237.80" x2="284.40" y2="259.64" stroke="#0a0a0a" stroke-width="1.05"/><line x1="285.20" y1="257.96" x2="285.20" y2="272.19" stroke="#0a0a0a" stroke-width="1.05"/><line x1="286.00" y1="246.20" x2="286.00" y2="289.00" stroke="#0a0a0a" stroke-width="1.05"/><line x1="286.80" y1="300.01" x2="286.80" y2="327.31" stroke="#0a0a0a" stroke-width="1.05"/><line x1="287.60" y1="303.25" x2="287.60" y2="321.81" stroke="#0a0a0a" stroke-width="1.05"/><line x1="288.40" y1="305.37" x2="288.40" y2="325.13" stroke="#0a0a0a" stroke-width="1.05"/><line x1="289.20" y1="307.39" x2="289.20" y2="339.49" stroke="#b8203f" stroke-width="1.05"/><line x1="290.00" y1="309.63" x2="290.00" y2="329.96" stroke="#b8203f" stroke-width="1.05"/><line x1="290.80" y1="311.42" x2="290.80" y2="325.66" stroke="#b8203f" stroke-width="1.05"/><line x1="291.60" y1="285.30" x2="291.60" y2="317.51" stroke="#0a0a0a" stroke-width="1.05"/><line x1="292.40" y1="280.98" x2="292.40" y2="313.20" stroke="#0a0a0a" stroke-width="1.05"/><line x1="293.20" y1="280.99" x2="293.20" y2="304.45" stroke="#b8203f" stroke-width="1.05"/><line x1="294.00" y1="283.52" x2="294.00" y2="296.97" stroke="#0a0a0a" stroke-width="1.05"/><line x1="294.80" y1="279.70" x2="294.80" y2="311.61" stroke="#0a0a0a" stroke-width="1.05"/><line x1="295.60" y1="294.15" x2="295.60" y2="310.01" stroke="#0a0a0a" stroke-width="1.05"/><line x1="296.40" y1="291.76" x2="296.40" y2="314.19" stroke="#b8203f" stroke-width="1.05"/><line x1="297.20" y1="291.70" x2="297.20" y2="318.90" stroke="#b8203f" stroke-width="1.05"/><line x1="298.00" y1="299.80" x2="298.00" y2="311.77" stroke="#0a0a0a" stroke-width="1.05"/><line x1="298.80" y1="291.72" x2="298.80" y2="309.19" stroke="#b8203f" stroke-width="1.05"/><line x1="299.60" y1="284.86" x2="299.60" y2="307.17" stroke="#b8203f" stroke-width="1.05"/><line x1="300.40" y1="288.48" x2="300.40" y2="307.71" stroke="#0a0a0a" stroke-width="1.05"/><line x1="301.20" y1="287.17" x2="301.20" y2="304.88" stroke="#0a0a0a" stroke-width="1.05"/><line x1="302.00" y1="288.78" x2="302.00" y2="311.14" stroke="#b8203f" stroke-width="1.05"/><line x1="302.80" y1="287.15" x2="302.80" y2="317.85" stroke="#0a0a0a" stroke-width="1.05"/><line x1="303.60" y1="290.97" x2="303.60" y2="306.69" stroke="#0a0a0a" stroke-width="1.05"/><line x1="304.40" y1="275.49" x2="304.40" y2="285.63" stroke="#0a0a0a" stroke-width="1.05"/><line x1="305.20" y1="270.40" x2="305.20" y2="289.51" stroke="#0a0a0a" stroke-width="1.05"/><line x1="306.00" y1="274.15" x2="306.00" y2="283.85" stroke="#0a0a0a" stroke-width="1.05"/><line x1="306.80" y1="274.25" x2="306.80" y2="282.43" stroke="#0a0a0a" stroke-width="1.05"/><line x1="307.60" y1="263.29" x2="307.60" y2="280.09" stroke="#b8203f" stroke-width="1.05"/><line x1="308.40" y1="263.62" x2="308.40" y2="270.62" stroke="#0a0a0a" stroke-width="1.05"/><line x1="309.20" y1="263.35" x2="309.20" y2="274.51" stroke="#b8203f" stroke-width="1.05"/><line x1="310.00" y1="253.90" x2="310.00" y2="272.53" stroke="#b8203f" stroke-width="1.05"/><line x1="310.80" y1="250.52" x2="310.80" y2="269.68" stroke="#0a0a0a" stroke-width="1.05"/><line x1="311.60" y1="256.04" x2="311.60" y2="265.20" stroke="#0a0a0a" stroke-width="1.05"/><line x1="312.40" y1="246.10" x2="312.40" y2="261.67" stroke="#0a0a0a" stroke-width="1.05"/><line x1="313.20" y1="240.17" x2="313.20" y2="259.71" stroke="#b8203f" stroke-width="1.05"/><line x1="314.00" y1="237.85" x2="314.00" y2="249.34" stroke="#0a0a0a" stroke-width="1.05"/><line x1="314.80" y1="238.95" x2="314.80" y2="247.51" stroke="#0a0a0a" stroke-width="1.05"/><line x1="315.60" y1="232.83" x2="315.60" y2="247.72" stroke="#0a0a0a" stroke-width="1.05"/><line x1="316.40" y1="230.02" x2="316.40" y2="241.90" stroke="#0a0a0a" stroke-width="1.05"/><line x1="317.20" y1="232.28" x2="317.20" y2="245.01" stroke="#0a0a0a" stroke-width="1.05"/><line x1="318.00" y1="218.70" x2="318.00" y2="243.10" stroke="#0a0a0a" stroke-width="1.05"/><line x1="318.80" y1="220.01" x2="318.80" y2="230.78" stroke="#0a0a0a" stroke-width="1.05"/><line x1="319.60" y1="214.47" x2="319.60" y2="225.69" stroke="#b8203f" stroke-width="1.05"/><line x1="320.40" y1="207.62" x2="320.40" y2="221.13" stroke="#0a0a0a" stroke-width="1.05"/><line x1="321.20" y1="208.99" x2="321.20" y2="218.11" stroke="#b8203f" stroke-width="1.05"/><line x1="322.00" y1="205.94" x2="322.00" y2="217.43" stroke="#0a0a0a" stroke-width="1.05"/><line x1="322.80" y1="214.88" x2="322.80" y2="222.27" stroke="#b8203f" stroke-width="1.05"/><line x1="323.60" y1="212.96" x2="323.60" y2="229.17" stroke="#0a0a0a" stroke-width="1.05"/><line x1="324.40" y1="220.63" x2="324.40" y2="233.11" stroke="#0a0a0a" stroke-width="1.05"/><line x1="325.20" y1="223.26" x2="325.20" y2="235.01" stroke="#0a0a0a" stroke-width="1.05"/><line x1="326.00" y1="225.84" x2="326.00" y2="243.36" stroke="#0a0a0a" stroke-width="1.05"/><line x1="326.80" y1="230.76" x2="326.80" y2="250.20" stroke="#0a0a0a" stroke-width="1.05"/><line x1="327.60" y1="238.50" x2="327.60" y2="251.26" stroke="#0a0a0a" stroke-width="1.05"/><line x1="328.40" y1="241.81" x2="328.40" y2="268.18" stroke="#0a0a0a" stroke-width="1.05"/><line x1="329.20" y1="249.92" x2="329.20" y2="269.10" stroke="#0a0a0a" stroke-width="1.05"/><line x1="330.00" y1="255.31" x2="330.00" y2="269.76" stroke="#0a0a0a" stroke-width="1.05"/><line x1="330.80" y1="258.78" x2="330.80" y2="278.77" stroke="#0a0a0a" stroke-width="1.05"/><line x1="331.60" y1="264.07" x2="331.60" y2="278.54" stroke="#b8203f" stroke-width="1.05"/><line x1="332.40" y1="270.40" x2="332.40" y2="282.30" stroke="#0a0a0a" stroke-width="1.05"/><line x1="333.20" y1="262.96" x2="333.20" y2="273.04" stroke="#0a0a0a" stroke-width="1.05"/><line x1="334.00" y1="258.18" x2="334.00" y2="282.38" stroke="#b8203f" stroke-width="1.05"/><line x1="334.80" y1="259.86" x2="334.80" y2="273.66" stroke="#0a0a0a" stroke-width="1.05"/><line x1="335.60" y1="243.70" x2="335.60" y2="266.80" stroke="#0a0a0a" stroke-width="1.05"/><line x1="336.40" y1="252.06" x2="336.40" y2="264.07" stroke="#0a0a0a" stroke-width="1.05"/><line x1="337.20" y1="269.31" x2="337.20" y2="281.67" stroke="#0a0a0a" stroke-width="1.05"/><line x1="338.00" y1="268.33" x2="338.00" y2="292.12" stroke="#b8203f" stroke-width="1.05"/><line x1="338.80" y1="277.39" x2="338.80" y2="294.59" stroke="#0a0a0a" stroke-width="1.05"/><line x1="339.60" y1="285.68" x2="339.60" y2="300.50" stroke="#b8203f" stroke-width="1.05"/><line x1="340.40" y1="285.14" x2="340.40" y2="304.25" stroke="#b8203f" stroke-width="1.05"/><line x1="341.20" y1="289.45" x2="341.20" y2="300.01" stroke="#0a0a0a" stroke-width="1.05"/><line x1="342.00" y1="292.13" x2="342.00" y2="311.41" stroke="#b8203f" stroke-width="1.05"/><line x1="342.80" y1="301.37" x2="342.80" y2="315.99" stroke="#0a0a0a" stroke-width="1.05"/><line x1="343.60" y1="314.45" x2="343.60" y2="326.52" stroke="#0a0a0a" stroke-width="1.05"/><line x1="344.40" y1="322.08" x2="344.40" y2="336.79" stroke="#0a0a0a" stroke-width="1.05"/><line x1="345.20" y1="324.64" x2="345.20" y2="334.04" stroke="#b8203f" stroke-width="1.05"/><line x1="346.00" y1="330.32" x2="346.00" y2="340.01" stroke="#0a0a0a" stroke-width="1.05"/><line x1="346.80" y1="328.00" x2="346.80" y2="347.30" stroke="#0a0a0a" stroke-width="1.05"/><line x1="347.60" y1="322.95" x2="347.60" y2="337.34" stroke="#b8203f" stroke-width="1.05"/><line x1="348.40" y1="319.79" x2="348.40" y2="326.71" stroke="#b8203f" stroke-width="1.05"/><line x1="349.20" y1="307.00" x2="349.20" y2="321.60" stroke="#0a0a0a" stroke-width="1.05"/><line x1="350.00" y1="323.74" x2="350.00" y2="330.60" stroke="#0a0a0a" stroke-width="1.05"/><line x1="350.80" y1="329.41" x2="350.80" y2="340.68" stroke="#0a0a0a" stroke-width="1.05"/><line x1="351.60" y1="337.40" x2="351.60" y2="352.83" stroke="#b8203f" stroke-width="1.05"/><line x1="352.40" y1="340.54" x2="352.40" y2="355.11" stroke="#b8203f" stroke-width="1.05"/><line x1="353.20" y1="349.37" x2="353.20" y2="363.84" stroke="#b8203f" stroke-width="1.05"/><line x1="354.00" y1="337.76" x2="354.00" y2="370.35" stroke="#b8203f" stroke-width="1.05"/><line x1="354.80" y1="332.30" x2="354.80" y2="355.66" stroke="#0a0a0a" stroke-width="1.05"/><line x1="355.60" y1="331.34" x2="355.60" y2="346.65" stroke="#0a0a0a" stroke-width="1.05"/><line x1="356.40" y1="316.80" x2="356.40" y2="338.11" stroke="#b8203f" stroke-width="1.05"/><line x1="357.20" y1="320.20" x2="357.20" y2="335.39" stroke="#b8203f" stroke-width="1.05"/><line x1="358.00" y1="327.74" x2="358.00" y2="337.63" stroke="#0a0a0a" stroke-width="1.05"/><line x1="358.80" y1="317.66" x2="358.80" y2="337.86" stroke="#0a0a0a" stroke-width="1.05"/><line x1="359.60" y1="313.62" x2="359.60" y2="327.56" stroke="#0a0a0a" stroke-width="1.05"/><line x1="360.40" y1="299.85" x2="360.40" y2="324.85" stroke="#0a0a0a" stroke-width="1.05"/><line x1="361.20" y1="293.83" x2="361.20" y2="318.88" stroke="#b8203f" stroke-width="1.05"/><line x1="362.00" y1="290.58" x2="362.00" y2="301.22" stroke="#b8203f" stroke-width="1.05"/><line x1="362.80" y1="287.57" x2="362.80" y2="308.02" stroke="#0a0a0a" stroke-width="1.05"/><line x1="363.60" y1="286.82" x2="363.60" y2="305.70" stroke="#b8203f" stroke-width="1.05"/><line x1="364.40" y1="290.58" x2="364.40" y2="301.50" stroke="#b8203f" stroke-width="1.05"/><line x1="365.20" y1="290.09" x2="365.20" y2="307.30" stroke="#0a0a0a" stroke-width="1.05"/><line x1="366.00" y1="293.72" x2="366.00" y2="306.04" stroke="#b8203f" stroke-width="1.05"/><line x1="366.80" y1="299.36" x2="366.80" y2="307.69" stroke="#0a0a0a" stroke-width="1.05"/><line x1="367.60" y1="294.35" x2="367.60" y2="315.54" stroke="#b8203f" stroke-width="1.05"/><line x1="368.40" y1="291.24" x2="368.40" y2="302.11" stroke="#0a0a0a" stroke-width="1.05"/><line x1="369.20" y1="282.57" x2="369.20" y2="295.70" stroke="#0a0a0a" stroke-width="1.05"/><line x1="370.00" y1="272.70" x2="370.00" y2="295.49" stroke="#0a0a0a" stroke-width="1.05"/><line x1="370.80" y1="269.84" x2="370.80" y2="286.96" stroke="#0a0a0a" stroke-width="1.05"/><line x1="371.60" y1="275.88" x2="371.60" y2="284.01" stroke="#b8203f" stroke-width="1.05"/><line x1="372.40" y1="265.92" x2="372.40" y2="279.92" stroke="#b8203f" stroke-width="1.05"/><line x1="373.20" y1="267.42" x2="373.20" y2="275.56" stroke="#0a0a0a" stroke-width="1.05"/><line x1="374.00" y1="264.88" x2="374.00" y2="278.66" stroke="#b8203f" stroke-width="1.05"/><line x1="374.80" y1="263.67" x2="374.80" y2="281.59" stroke="#0a0a0a" stroke-width="1.05"/><line x1="375.60" y1="262.41" x2="375.60" y2="275.43" stroke="#b8203f" stroke-width="1.05"/><line x1="376.40" y1="260.33" x2="376.40" y2="275.11" stroke="#b8203f" stroke-width="1.05"/><line x1="377.20" y1="265.64" x2="377.20" y2="272.32" stroke="#b8203f" stroke-width="1.05"/><line x1="378.00" y1="258.24" x2="378.00" y2="265.17" stroke="#0a0a0a" stroke-width="1.05"/><line x1="378.80" y1="257.87" x2="378.80" y2="269.70" stroke="#b8203f" stroke-width="1.05"/><line x1="379.60" y1="262.03" x2="379.60" y2="269.26" stroke="#0a0a0a" stroke-width="1.05"/><line x1="380.40" y1="260.84" x2="380.40" y2="270.42" stroke="#0a0a0a" stroke-width="1.05"/><line x1="381.20" y1="250.90" x2="381.20" y2="276.10" stroke="#b8203f" stroke-width="1.05"/><line x1="382.00" y1="257.04" x2="382.00" y2="274.84" stroke="#0a0a0a" stroke-width="1.05"/><line x1="382.80" y1="260.85" x2="382.80" y2="271.02" stroke="#b8203f" stroke-width="1.05"/><line x1="383.60" y1="254.21" x2="383.60" y2="272.42" stroke="#0a0a0a" stroke-width="1.05"/><line x1="384.40" y1="258.60" x2="384.40" y2="268.94" stroke="#0a0a0a" stroke-width="1.05"/><line x1="385.20" y1="262.28" x2="385.20" y2="278.96" stroke="#b8203f" stroke-width="1.05"/><line x1="386.00" y1="261.59" x2="386.00" y2="280.20" stroke="#0a0a0a" stroke-width="1.05"/><line x1="386.80" y1="257.57" x2="386.80" y2="271.14" stroke="#b8203f" stroke-width="1.05"/><line x1="387.60" y1="250.73" x2="387.60" y2="278.60" stroke="#0a0a0a" stroke-width="1.05"/><line x1="388.40" y1="262.90" x2="388.40" y2="274.84" stroke="#0a0a0a" stroke-width="1.05"/><line x1="389.20" y1="273.66" x2="389.20" y2="291.79" stroke="#0a0a0a" stroke-width="1.05"/><line x1="390.00" y1="286.70" x2="390.00" y2="305.10" stroke="#b8203f" stroke-width="1.05"/><line x1="390.80" y1="290.96" x2="390.80" y2="300.18" stroke="#0a0a0a" stroke-width="1.05"/><line x1="391.60" y1="292.85" x2="391.60" y2="300.16" stroke="#0a0a0a" stroke-width="1.05"/><line x1="392.40" y1="295.50" x2="392.40" y2="311.60" stroke="#0a0a0a" stroke-width="1.05"/><line x1="393.20" y1="301.14" x2="393.20" y2="307.41" stroke="#b8203f" stroke-width="1.05"/><line x1="394.00" y1="296.80" x2="394.00" y2="306.24" stroke="#b8203f" stroke-width="1.05"/><line x1="394.80" y1="293.40" x2="394.80" y2="307.10" stroke="#b8203f" stroke-width="1.05"/><line x1="395.60" y1="294.90" x2="395.60" y2="302.51" stroke="#0a0a0a" stroke-width="1.05"/><line x1="396.40" y1="293.40" x2="396.40" y2="305.50" stroke="#0a0a0a" stroke-width="1.05"/><line x1="397.20" y1="291.76" x2="397.20" y2="305.10" stroke="#b8203f" stroke-width="1.05"/><line x1="398.00" y1="294.60" x2="398.00" y2="301.33" stroke="#b8203f" stroke-width="1.05"/><line x1="398.80" y1="285.22" x2="398.80" y2="305.10" stroke="#0a0a0a" stroke-width="1.05"/><line x1="399.60" y1="284.12" x2="399.60" y2="293.68" stroke="#0a0a0a" stroke-width="1.05"/><line x1="400.40" y1="283.27" x2="400.40" y2="296.07" stroke="#b8203f" stroke-width="1.05"/><line x1="401.20" y1="277.70" x2="401.20" y2="291.70" stroke="#0a0a0a" stroke-width="1.05"/><line x1="402.00" y1="276.95" x2="402.00" y2="286.74" stroke="#0a0a0a" stroke-width="1.05"/><line x1="402.80" y1="270.94" x2="402.80" y2="282.82" stroke="#b8203f" stroke-width="1.05"/><line x1="403.60" y1="268.60" x2="403.60" y2="282.60" stroke="#0a0a0a" stroke-width="1.05"/><line x1="404.40" y1="268.01" x2="404.40" y2="279.27" stroke="#b8203f" stroke-width="1.05"/><line x1="405.20" y1="268.12" x2="405.20" y2="277.29" stroke="#b8203f" stroke-width="1.05"/><line x1="406.00" y1="265.70" x2="406.00" y2="277.73" stroke="#b8203f" stroke-width="1.05"/><line x1="406.80" y1="264.30" x2="406.80" y2="273.53" stroke="#b8203f" stroke-width="1.05"/><line x1="407.60" y1="260.90" x2="407.60" y2="274.67" stroke="#b8203f" stroke-width="1.05"/><line x1="408.40" y1="258.10" x2="408.40" y2="272.26" stroke="#0a0a0a" stroke-width="1.05"/><line x1="409.20" y1="256.90" x2="409.20" y2="267.20" stroke="#0a0a0a" stroke-width="1.05"/><line x1="410.00" y1="251.70" x2="410.00" y2="265.72" stroke="#b8203f" stroke-width="1.05"/><line x1="410.80" y1="252.32" x2="410.80" y2="261.31" stroke="#0a0a0a" stroke-width="1.05"/><line x1="411.60" y1="248.59" x2="411.60" y2="259.32" stroke="#0a0a0a" stroke-width="1.05"/><line x1="412.40" y1="246.50" x2="412.40" y2="260.30" stroke="#b8203f" stroke-width="1.05"/><line x1="413.20" y1="243.54" x2="413.20" y2="255.52" stroke="#b8203f" stroke-width="1.05"/><line x1="414.00" y1="237.22" x2="414.00" y2="244.44" stroke="#b8203f" stroke-width="1.05"/><line x1="414.80" y1="229.08" x2="414.80" y2="246.91" stroke="#0a0a0a" stroke-width="1.05"/><line x1="415.60" y1="230.99" x2="415.60" y2="239.01" stroke="#0a0a0a" stroke-width="1.05"/><line x1="416.40" y1="233.74" x2="416.40" y2="243.95" stroke="#0a0a0a" stroke-width="1.05"/><line x1="417.20" y1="234.00" x2="417.20" y2="245.80" stroke="#b8203f" stroke-width="1.05"/><line x1="418.00" y1="237.79" x2="418.00" y2="246.39" stroke="#0a0a0a" stroke-width="1.05"/><line x1="418.80" y1="238.80" x2="418.80" y2="250.60" stroke="#0a0a0a" stroke-width="1.05"/><line x1="419.60" y1="240.35" x2="419.60" y2="249.19" stroke="#0a0a0a" stroke-width="1.05"/><line x1="420.40" y1="240.67" x2="420.40" y2="247.40" stroke="#0a0a0a" stroke-width="1.05"/><line x1="421.20" y1="237.70" x2="421.20" y2="251.50" stroke="#0a0a0a" stroke-width="1.05"/><line x1="422.00" y1="241.48" x2="422.00" y2="250.73" stroke="#0a0a0a" stroke-width="1.05"/><line x1="422.80" y1="247.08" x2="422.80" y2="257.28" stroke="#0a0a0a" stroke-width="1.05"/><line x1="423.60" y1="250.90" x2="423.60" y2="264.90" stroke="#0a0a0a" stroke-width="1.05"/><line x1="424.40" y1="258.17" x2="424.40" y2="267.92" stroke="#0a0a0a" stroke-width="1.05"/><line x1="425.20" y1="262.11" x2="425.20" y2="270.55" stroke="#b8203f" stroke-width="1.05"/><line x1="426.00" y1="259.52" x2="426.00" y2="274.12" stroke="#0a0a0a" stroke-width="1.05"/><line x1="426.80" y1="264.00" x2="426.80" y2="273.19" stroke="#0a0a0a" stroke-width="1.05"/><line x1="427.60" y1="258.06" x2="427.60" y2="275.86" stroke="#b8203f" stroke-width="1.05"/><line x1="428.40" y1="256.85" x2="428.40" y2="274.75" stroke="#0a0a0a" stroke-width="1.05"/><line x1="429.20" y1="255.44" x2="429.20" y2="268.87" stroke="#b8203f" stroke-width="1.05"/><line x1="430.00" y1="254.89" x2="430.00" y2="265.79" stroke="#b8203f" stroke-width="1.05"/><line x1="430.80" y1="252.61" x2="430.80" y2="267.42" stroke="#b8203f" stroke-width="1.05"/><line x1="431.60" y1="258.36" x2="431.60" y2="268.63" stroke="#0a0a0a" stroke-width="1.05"/><line x1="432.40" y1="255.88" x2="432.40" y2="277.16" stroke="#0a0a0a" stroke-width="1.05"/><line x1="433.20" y1="259.54" x2="433.20" y2="281.22" stroke="#0a0a0a" stroke-width="1.05"/><line x1="434.00" y1="266.95" x2="434.00" y2="281.79" stroke="#0a0a0a" stroke-width="1.05"/><line x1="434.80" y1="270.88" x2="434.80" y2="287.69" stroke="#0a0a0a" stroke-width="1.05"/><line x1="435.60" y1="281.48" x2="435.60" y2="292.13" stroke="#b8203f" stroke-width="1.05"/><line x1="436.40" y1="279.23" x2="436.40" y2="296.50" stroke="#0a0a0a" stroke-width="1.05"/><line x1="437.20" y1="279.98" x2="437.20" y2="291.27" stroke="#b8203f" stroke-width="1.05"/><line x1="438.00" y1="275.45" x2="438.00" y2="290.10" stroke="#0a0a0a" stroke-width="1.05"/><line x1="438.80" y1="272.88" x2="438.80" y2="287.28" stroke="#0a0a0a" stroke-width="1.05"/><line x1="439.60" y1="276.26" x2="439.60" y2="283.02" stroke="#0a0a0a" stroke-width="1.05"/><line x1="440.40" y1="266.41" x2="440.40" y2="282.41" stroke="#b8203f" stroke-width="1.05"/><line x1="441.20" y1="265.48" x2="441.20" y2="275.17" stroke="#b8203f" stroke-width="1.05"/><line x1="442.00" y1="269.22" x2="442.00" y2="278.03" stroke="#b8203f" stroke-width="1.05"/><line x1="442.80" y1="265.60" x2="442.80" y2="279.70" stroke="#0a0a0a" stroke-width="1.05"/><line x1="443.60" y1="264.92" x2="443.60" y2="271.99" stroke="#0a0a0a" stroke-width="1.05"/><line x1="444.40" y1="258.14" x2="444.40" y2="267.68" stroke="#0a0a0a" stroke-width="1.05"/><line x1="445.20" y1="253.79" x2="445.20" y2="263.59" stroke="#b8203f" stroke-width="1.05"/><line x1="446.00" y1="250.87" x2="446.00" y2="258.47" stroke="#0a0a0a" stroke-width="1.05"/><line x1="446.80" y1="246.10" x2="446.80" y2="251.72" stroke="#b8203f" stroke-width="1.05"/><line x1="447.60" y1="241.00" x2="447.60" y2="254.43" stroke="#0a0a0a" stroke-width="1.05"/><line x1="448.40" y1="240.86" x2="448.40" y2="246.85" stroke="#0a0a0a" stroke-width="1.05"/><line x1="449.20" y1="241.00" x2="449.20" y2="251.37" stroke="#0a0a0a" stroke-width="1.05"/><line x1="450.00" y1="240.20" x2="450.00" y2="250.18" stroke="#b8203f" stroke-width="1.05"/><line x1="450.80" y1="243.89" x2="450.80" y2="249.34" stroke="#0a0a0a" stroke-width="1.05"/><line x1="451.60" y1="237.00" x2="451.60" y2="248.51" stroke="#0a0a0a" stroke-width="1.05"/><line x1="452.40" y1="238.54" x2="452.40" y2="245.23" stroke="#0a0a0a" stroke-width="1.05"/><line x1="453.20" y1="239.21" x2="453.20" y2="244.83" stroke="#0a0a0a" stroke-width="1.05"/><line x1="454.00" y1="234.30" x2="454.00" y2="243.90" stroke="#0a0a0a" stroke-width="1.05"/><line x1="454.80" y1="239.14" x2="454.80" y2="245.61" stroke="#0a0a0a" stroke-width="1.05"/><line x1="455.60" y1="235.57" x2="455.60" y2="244.61" stroke="#0a0a0a" stroke-width="1.05"/><line x1="456.40" y1="236.80" x2="456.40" y2="248.50" stroke="#b8203f" stroke-width="1.05"/><line x1="457.20" y1="242.38" x2="457.20" y2="247.61" stroke="#0a0a0a" stroke-width="1.05"/><line x1="458.00" y1="241.17" x2="458.00" y2="250.97" stroke="#b8203f" stroke-width="1.05"/><line x1="458.80" y1="241.00" x2="458.80" y2="253.41" stroke="#b8203f" stroke-width="1.05"/><line x1="459.60" y1="242.08" x2="459.60" y2="249.66" stroke="#b8203f" stroke-width="1.05"/><line x1="460.40" y1="241.00" x2="460.40" y2="256.69" stroke="#0a0a0a" stroke-width="1.05"/><line x1="461.20" y1="239.23" x2="461.20" y2="247.34" stroke="#b8203f" stroke-width="1.05"/><line x1="462.00" y1="236.48" x2="462.00" y2="253.80" stroke="#b8203f" stroke-width="1.05"/><line x1="462.80" y1="231.23" x2="462.80" y2="255.47" stroke="#b8203f" stroke-width="1.05"/><line x1="463.60" y1="232.11" x2="463.60" y2="242.63" stroke="#b8203f" stroke-width="1.05"/><line x1="464.40" y1="243.78" x2="464.40" y2="251.93" stroke="#0a0a0a" stroke-width="1.05"/><line x1="465.20" y1="240.82" x2="465.20" y2="249.10" stroke="#0a0a0a" stroke-width="1.05"/><line x1="466.00" y1="238.14" x2="466.00" y2="251.33" stroke="#b8203f" stroke-width="1.05"/><line x1="466.80" y1="242.85" x2="466.80" y2="249.72" stroke="#0a0a0a" stroke-width="1.05"/><line x1="467.60" y1="240.45" x2="467.60" y2="249.58" stroke="#0a0a0a" stroke-width="1.05"/><line x1="468.40" y1="239.17" x2="468.40" y2="243.98" stroke="#b8203f" stroke-width="1.05"/><line x1="469.20" y1="236.20" x2="469.20" y2="247.04" stroke="#0a0a0a" stroke-width="1.05"/><line x1="470.00" y1="238.12" x2="470.00" y2="245.53" stroke="#0a0a0a" stroke-width="1.05"/><line x1="470.80" y1="233.09" x2="470.80" y2="242.37" stroke="#b8203f" stroke-width="1.05"/><line x1="471.60" y1="238.86" x2="471.60" y2="245.33" stroke="#b8203f" stroke-width="1.05"/><line x1="472.40" y1="229.89" x2="472.40" y2="244.89" stroke="#0a0a0a" stroke-width="1.05"/><line x1="473.20" y1="233.72" x2="473.20" y2="242.56" stroke="#0a0a0a" stroke-width="1.05"/><line x1="474.00" y1="226.61" x2="474.00" y2="243.21" stroke="#0a0a0a" stroke-width="1.05"/><line x1="474.80" y1="229.57" x2="474.80" y2="242.35" stroke="#0a0a0a" stroke-width="1.05"/><line x1="475.60" y1="229.91" x2="475.60" y2="236.75" stroke="#0a0a0a" stroke-width="1.05"/><line x1="476.40" y1="229.72" x2="476.40" y2="244.13" stroke="#0a0a0a" stroke-width="1.05"/><line x1="477.20" y1="227.00" x2="477.20" y2="237.64" stroke="#0a0a0a" stroke-width="1.05"/><line x1="478.00" y1="225.07" x2="478.00" y2="236.36" stroke="#b8203f" stroke-width="1.05"/><line x1="478.80" y1="222.89" x2="478.80" y2="230.90" stroke="#0a0a0a" stroke-width="1.05"/><line x1="479.60" y1="222.43" x2="479.60" y2="229.86" stroke="#b8203f" stroke-width="1.05"/><line x1="480.40" y1="219.49" x2="480.40" y2="232.19" stroke="#0a0a0a" stroke-width="1.05"/><line x1="481.20" y1="218.40" x2="481.20" y2="223.66" stroke="#0a0a0a" stroke-width="1.05"/><line x1="482.00" y1="209.81" x2="482.00" y2="220.83" stroke="#0a0a0a" stroke-width="1.05"/><line x1="482.80" y1="207.16" x2="482.80" y2="213.60" stroke="#0a0a0a" stroke-width="1.05"/><line x1="483.60" y1="210.12" x2="483.60" y2="214.52" stroke="#0a0a0a" stroke-width="1.05"/><line x1="484.40" y1="205.90" x2="484.40" y2="214.60" stroke="#0a0a0a" stroke-width="1.05"/><line x1="485.20" y1="202.06" x2="485.20" y2="208.47" stroke="#0a0a0a" stroke-width="1.05"/><line x1="486.00" y1="198.36" x2="486.00" y2="205.94" stroke="#b8203f" stroke-width="1.05"/><line x1="486.80" y1="194.50" x2="486.80" y2="204.03" stroke="#0a0a0a" stroke-width="1.05"/><line x1="487.60" y1="197.17" x2="487.60" y2="202.41" stroke="#0a0a0a" stroke-width="1.05"/><line x1="488.40" y1="190.78" x2="488.40" y2="199.28" stroke="#0a0a0a" stroke-width="1.05"/><line x1="489.20" y1="186.18" x2="489.20" y2="200.80" stroke="#0a0a0a" stroke-width="1.05"/><line x1="490.00" y1="189.77" x2="490.00" y2="198.36" stroke="#0a0a0a" stroke-width="1.05"/><line x1="490.80" y1="190.04" x2="490.80" y2="202.40" stroke="#0a0a0a" stroke-width="1.05"/><line x1="491.60" y1="190.58" x2="491.60" y2="201.98" stroke="#0a0a0a" stroke-width="1.05"/><line x1="492.40" y1="189.29" x2="492.40" y2="198.04" stroke="#b8203f" stroke-width="1.05"/><line x1="493.20" y1="188.91" x2="493.20" y2="198.71" stroke="#0a0a0a" stroke-width="1.05"/><line x1="494.00" y1="186.65" x2="494.00" y2="194.13" stroke="#b8203f" stroke-width="1.05"/><line x1="494.80" y1="184.35" x2="494.80" y2="189.66" stroke="#0a0a0a" stroke-width="1.05"/><line x1="495.60" y1="179.90" x2="495.60" y2="191.60" stroke="#0a0a0a" stroke-width="1.05"/><line x1="496.40" y1="180.43" x2="496.40" y2="190.03" stroke="#0a0a0a" stroke-width="1.05"/><line x1="497.20" y1="184.90" x2="497.20" y2="191.00" stroke="#b8203f" stroke-width="1.05"/><line x1="498.00" y1="182.10" x2="498.00" y2="193.90" stroke="#0a0a0a" stroke-width="1.05"/><line x1="498.80" y1="186.23" x2="498.80" y2="194.32" stroke="#0a0a0a" stroke-width="1.05"/><line x1="499.60" y1="182.10" x2="499.60" y2="193.90" stroke="#b8203f" stroke-width="1.05"/><line x1="500.40" y1="179.77" x2="500.40" y2="191.57" stroke="#0a0a0a" stroke-width="1.05"/><line x1="501.20" y1="174.64" x2="501.20" y2="184.46" stroke="#b8203f" stroke-width="1.05"/><line x1="502.00" y1="170.45" x2="502.00" y2="182.25" stroke="#0a0a0a" stroke-width="1.05"/><line x1="502.80" y1="171.42" x2="502.80" y2="177.37" stroke="#b8203f" stroke-width="1.05"/><line x1="503.60" y1="166.63" x2="503.60" y2="171.75" stroke="#0a0a0a" stroke-width="1.05"/><line x1="504.40" y1="162.58" x2="504.40" y2="172.37" stroke="#0a0a0a" stroke-width="1.05"/><line x1="505.20" y1="163.09" x2="505.20" y2="171.47" stroke="#b8203f" stroke-width="1.05"/><line x1="506.00" y1="162.24" x2="506.00" y2="168.41" stroke="#b8203f" stroke-width="1.05"/><line x1="506.80" y1="159.70" x2="506.80" y2="169.30" stroke="#b8203f" stroke-width="1.05"/><line x1="507.60" y1="161.98" x2="507.60" y2="166.88" stroke="#b8203f" stroke-width="1.05"/><line x1="508.40" y1="157.95" x2="508.40" y2="165.43" stroke="#b8203f" stroke-width="1.05"/><line x1="509.20" y1="157.40" x2="509.20" y2="166.91" stroke="#b8203f" stroke-width="1.05"/><line x1="510.00" y1="158.75" x2="510.00" y2="165.74" stroke="#0a0a0a" stroke-width="1.05"/><line x1="510.80" y1="158.00" x2="510.80" y2="165.70" stroke="#b8203f" stroke-width="1.05"/><line x1="511.60" y1="156.53" x2="511.60" y2="166.41" stroke="#b8203f" stroke-width="1.05"/><line x1="512.40" y1="161.19" x2="512.40" y2="168.50" stroke="#b8203f" stroke-width="1.05"/><line x1="513.20" y1="163.07" x2="513.20" y2="174.49" stroke="#0a0a0a" stroke-width="1.05"/><line x1="514.00" y1="166.26" x2="514.00" y2="176.23" stroke="#b8203f" stroke-width="1.05"/><line x1="514.80" y1="173.46" x2="514.80" y2="178.93" stroke="#b8203f" stroke-width="1.05"/><line x1="515.60" y1="168.50" x2="515.60" y2="180.30" stroke="#0a0a0a" stroke-width="1.05"/><line x1="516.40" y1="172.04" x2="516.40" y2="177.95" stroke="#0a0a0a" stroke-width="1.05"/><line x1="517.20" y1="174.48" x2="517.20" y2="181.95" stroke="#b8203f" stroke-width="1.05"/><line x1="518.00" y1="171.00" x2="518.00" y2="182.70" stroke="#b8203f" stroke-width="1.05"/><line x1="518.80" y1="175.42" x2="518.80" y2="184.45" stroke="#b8203f" stroke-width="1.05"/><line x1="519.60" y1="176.77" x2="519.60" y2="185.95" stroke="#0a0a0a" stroke-width="1.05"/><line x1="520.40" y1="178.30" x2="520.40" y2="190.53" stroke="#0a0a0a" stroke-width="1.05"/><line x1="521.20" y1="185.07" x2="521.20" y2="194.98" stroke="#b8203f" stroke-width="1.05"/><line x1="522.00" y1="183.10" x2="522.00" y2="200.35" stroke="#0a0a0a" stroke-width="1.05"/><line x1="522.80" y1="184.30" x2="522.80" y2="201.58" stroke="#0a0a0a" stroke-width="1.05"/><line x1="523.60" y1="186.45" x2="523.60" y2="196.50" stroke="#0a0a0a" stroke-width="1.05"/><line x1="524.40" y1="184.30" x2="524.40" y2="196.71" stroke="#b8203f" stroke-width="1.05"/><line x1="525.20" y1="184.06" x2="525.20" y2="192.62" stroke="#0a0a0a" stroke-width="1.05"/><line x1="526.00" y1="186.14" x2="526.00" y2="193.12" stroke="#0a0a0a" stroke-width="1.05"/><line x1="526.80" y1="180.09" x2="526.80" y2="194.00" stroke="#0a0a0a" stroke-width="1.05"/><line x1="527.60" y1="175.35" x2="527.60" y2="185.82" stroke="#b8203f" stroke-width="1.05"/><line x1="528.40" y1="172.69" x2="528.40" y2="180.24" stroke="#b8203f" stroke-width="1.05"/><line x1="529.20" y1="166.60" x2="529.20" y2="182.50" stroke="#b8203f" stroke-width="1.05"/><line x1="530.00" y1="171.61" x2="530.00" y2="180.84" stroke="#0a0a0a" stroke-width="1.05"/><line x1="530.80" y1="172.44" x2="530.80" y2="179.58" stroke="#0a0a0a" stroke-width="1.05"/><line x1="531.60" y1="169.29" x2="531.60" y2="179.16" stroke="#b8203f" stroke-width="1.05"/><line x1="532.40" y1="173.73" x2="532.40" y2="178.93" stroke="#0a0a0a" stroke-width="1.05"/><line x1="533.20" y1="172.42" x2="533.20" y2="183.75" stroke="#0a0a0a" stroke-width="1.05"/><line x1="534.00" y1="173.60" x2="534.00" y2="184.90" stroke="#0a0a0a" stroke-width="1.05"/><line x1="534.80" y1="177.57" x2="534.80" y2="182.43" stroke="#b8203f" stroke-width="1.05"/><line x1="535.60" y1="175.20" x2="535.60" y2="184.90" stroke="#b8203f" stroke-width="1.05"/><line x1="536.40" y1="176.70" x2="536.40" y2="184.65" stroke="#0a0a0a" stroke-width="1.05"/><line x1="537.20" y1="176.77" x2="537.20" y2="183.55" stroke="#b8203f" stroke-width="1.05"/><line x1="538.00" y1="175.70" x2="538.00" y2="185.30" stroke="#b8203f" stroke-width="1.05"/><line x1="538.80" y1="179.33" x2="538.80" y2="186.67" stroke="#b8203f" stroke-width="1.05"/><line x1="539.60" y1="178.86" x2="539.60" y2="191.57" stroke="#0a0a0a" stroke-width="1.05"/><line x1="540.40" y1="180.45" x2="540.40" y2="198.07" stroke="#b8203f" stroke-width="1.05"/><line x1="541.20" y1="190.21" x2="541.20" y2="202.66" stroke="#0a0a0a" stroke-width="1.05"/><line x1="542.00" y1="194.05" x2="542.00" y2="211.75" stroke="#b8203f" stroke-width="1.05"/><line x1="542.80" y1="196.64" x2="542.80" y2="209.17" stroke="#0a0a0a" stroke-width="1.05"/><line x1="543.60" y1="208.04" x2="543.60" y2="215.59" stroke="#b8203f" stroke-width="1.05"/><line x1="544.40" y1="206.56" x2="544.40" y2="213.82" stroke="#0a0a0a" stroke-width="1.05"/><line x1="545.20" y1="203.81" x2="545.20" y2="218.70" stroke="#b8203f" stroke-width="1.05"/><line x1="546.00" y1="206.50" x2="546.00" y2="216.80" stroke="#b8203f" stroke-width="1.05"/><line x1="546.80" y1="210.85" x2="546.80" y2="218.81" stroke="#0a0a0a" stroke-width="1.05"/><line x1="547.60" y1="208.69" x2="547.60" y2="223.50" stroke="#b8203f" stroke-width="1.05"/><line x1="548.40" y1="208.80" x2="548.40" y2="219.29" stroke="#b8203f" stroke-width="1.05"/><line x1="549.20" y1="207.86" x2="549.20" y2="218.58" stroke="#0a0a0a" stroke-width="1.05"/><line x1="550.00" y1="206.94" x2="550.00" y2="214.02" stroke="#b8203f" stroke-width="1.05"/><line x1="550.80" y1="200.21" x2="550.80" y2="214.81" stroke="#0a0a0a" stroke-width="1.05"/><line x1="551.60" y1="203.38" x2="551.60" y2="212.24" stroke="#0a0a0a" stroke-width="1.05"/><line x1="552.40" y1="197.31" x2="552.40" y2="207.01" stroke="#0a0a0a" stroke-width="1.05"/><line x1="553.20" y1="195.49" x2="553.20" y2="207.78" stroke="#0a0a0a" stroke-width="1.05"/><line x1="554.00" y1="198.91" x2="554.00" y2="210.32" stroke="#0a0a0a" stroke-width="1.05"/><line x1="554.80" y1="206.18" x2="554.80" y2="214.83" stroke="#0a0a0a" stroke-width="1.05"/><line x1="555.60" y1="204.90" x2="555.60" y2="214.87" stroke="#0a0a0a" stroke-width="1.05"/><line x1="556.40" y1="203.91" x2="556.40" y2="224.21" stroke="#0a0a0a" stroke-width="1.05"/><line x1="557.20" y1="208.63" x2="557.20" y2="224.06" stroke="#0a0a0a" stroke-width="1.05"/><line x1="558.00" y1="213.52" x2="558.00" y2="227.26" stroke="#b8203f" stroke-width="1.05"/><line x1="558.80" y1="216.17" x2="558.80" y2="231.58" stroke="#0a0a0a" stroke-width="1.05"/><line x1="559.60" y1="225.52" x2="559.60" y2="232.75" stroke="#0a0a0a" stroke-width="1.05"/><line x1="560.40" y1="225.42" x2="560.40" y2="235.90" stroke="#b8203f" stroke-width="1.05"/><line x1="561.20" y1="226.62" x2="561.20" y2="235.45" stroke="#b8203f" stroke-width="1.05"/><line x1="562.00" y1="226.20" x2="562.00" y2="243.80" stroke="#b8203f" stroke-width="1.05"/><line x1="562.80" y1="227.56" x2="562.80" y2="237.50" stroke="#0a0a0a" stroke-width="1.05"/><line x1="563.60" y1="216.82" x2="563.60" y2="232.84" stroke="#0a0a0a" stroke-width="1.05"/><line x1="564.40" y1="207.77" x2="564.40" y2="230.51" stroke="#0a0a0a" stroke-width="1.05"/><line x1="565.20" y1="200.70" x2="565.20" y2="226.70" stroke="#b8203f" stroke-width="1.05"/><line x1="566.00" y1="192.70" x2="566.00" y2="223.50" stroke="#b8203f" stroke-width="1.05"/><line x1="566.80" y1="193.83" x2="566.80" y2="206.80" stroke="#b8203f" stroke-width="1.05"/><line x1="567.60" y1="190.76" x2="567.60" y2="210.61" stroke="#b8203f" stroke-width="1.05"/><line x1="568.40" y1="188.54" x2="568.40" y2="202.71" stroke="#b8203f" stroke-width="1.05"/><line x1="569.20" y1="185.14" x2="569.20" y2="199.64" stroke="#0a0a0a" stroke-width="1.05"/><line x1="570.00" y1="181.60" x2="570.00" y2="192.20" stroke="#0a0a0a" stroke-width="1.05"/><line x1="570.80" y1="177.54" x2="570.80" y2="188.00" stroke="#0a0a0a" stroke-width="1.05"/><line x1="571.60" y1="171.65" x2="571.60" y2="183.92" stroke="#0a0a0a" stroke-width="1.05"/><line x1="572.40" y1="168.59" x2="572.40" y2="180.09" stroke="#0a0a0a" stroke-width="1.05"/><line x1="573.20" y1="170.53" x2="573.20" y2="177.45" stroke="#b8203f" stroke-width="1.05"/><line x1="574.00" y1="166.49" x2="574.00" y2="173.28" stroke="#0a0a0a" stroke-width="1.05"/><line x1="574.80" y1="163.70" x2="574.80" y2="172.80" stroke="#b8203f" stroke-width="1.05"/><line x1="575.60" y1="162.75" x2="575.60" y2="169.56" stroke="#b8203f" stroke-width="1.05"/><line x1="576.40" y1="162.83" x2="576.40" y2="168.76" stroke="#b8203f" stroke-width="1.05"/><line x1="577.20" y1="161.21" x2="577.20" y2="167.91" stroke="#b8203f" stroke-width="1.05"/><line x1="578.00" y1="160.41" x2="578.00" y2="167.10" stroke="#0a0a0a" stroke-width="1.05"/><line x1="578.80" y1="161.07" x2="578.80" y2="166.79" stroke="#b8203f" stroke-width="1.05"/><line x1="579.60" y1="158.68" x2="579.60" y2="163.26" stroke="#b8203f" stroke-width="1.05"/><line x1="580.40" y1="158.10" x2="580.40" y2="167.10" stroke="#0a0a0a" stroke-width="1.05"/><line x1="581.20" y1="157.30" x2="581.20" y2="162.09" stroke="#b8203f" stroke-width="1.05"/><line x1="582.00" y1="157.71" x2="582.00" y2="165.68" stroke="#0a0a0a" stroke-width="1.05"/><line x1="582.80" y1="155.44" x2="582.80" y2="162.24" stroke="#b8203f" stroke-width="1.05"/><line x1="583.60" y1="152.76" x2="583.60" y2="162.48" stroke="#b8203f" stroke-width="1.05"/><line x1="584.40" y1="146.24" x2="584.40" y2="157.62" stroke="#0a0a0a" stroke-width="1.05"/><line x1="585.20" y1="144.34" x2="585.20" y2="151.43" stroke="#b8203f" stroke-width="1.05"/><line x1="586.00" y1="144.03" x2="586.00" y2="148.67" stroke="#0a0a0a" stroke-width="1.05"/><line x1="586.80" y1="138.65" x2="586.80" y2="143.82" stroke="#0a0a0a" stroke-width="1.05"/><line x1="587.60" y1="132.40" x2="587.60" y2="141.50" stroke="#0a0a0a" stroke-width="1.05"/><line x1="588.40" y1="130.88" x2="588.40" y2="138.10" stroke="#b8203f" stroke-width="1.05"/><line x1="589.20" y1="130.17" x2="589.20" y2="137.48" stroke="#0a0a0a" stroke-width="1.05"/><line x1="590.00" y1="127.51" x2="590.00" y2="136.70" stroke="#0a0a0a" stroke-width="1.05"/><line x1="590.80" y1="126.30" x2="590.80" y2="135.49" stroke="#b8203f" stroke-width="1.05"/><line x1="591.60" y1="126.88" x2="591.60" y2="133.83" stroke="#0a0a0a" stroke-width="1.05"/><line x1="592.40" y1="126.61" x2="592.40" y2="132.64" stroke="#0a0a0a" stroke-width="1.05"/><line x1="593.20" y1="123.90" x2="593.20" y2="133.00" stroke="#b8203f" stroke-width="1.05"/><line x1="594.00" y1="124.06" x2="594.00" y2="131.38" stroke="#b8203f" stroke-width="1.05"/><line x1="594.80" y1="125.81" x2="594.80" y2="129.32" stroke="#0a0a0a" stroke-width="1.05"/><line x1="595.60" y1="125.68" x2="595.60" y2="130.12" stroke="#b8203f" stroke-width="1.05"/><line x1="596.40" y1="124.50" x2="596.40" y2="132.02" stroke="#0a0a0a" stroke-width="1.05"/><line x1="597.20" y1="126.10" x2="597.20" y2="136.88" stroke="#0a0a0a" stroke-width="1.05"/><line x1="598.00" y1="128.91" x2="598.00" y2="137.86" stroke="#0a0a0a" stroke-width="1.05"/><line x1="598.80" y1="132.73" x2="598.80" y2="138.72" stroke="#0a0a0a" stroke-width="1.05"/><line x1="599.60" y1="129.35" x2="599.60" y2="141.26" stroke="#b8203f" stroke-width="1.05"/><line x1="600.40" y1="129.59" x2="600.40" y2="139.78" stroke="#b8203f" stroke-width="1.05"/><line x1="601.20" y1="127.66" x2="601.20" y2="137.60" stroke="#b8203f" stroke-width="1.05"/><line x1="602.00" y1="123.90" x2="602.00" y2="135.90" stroke="#0a0a0a" stroke-width="1.05"/><line x1="602.80" y1="124.56" x2="602.80" y2="131.77" stroke="#b8203f" stroke-width="1.05"/><line x1="603.60" y1="122.62" x2="603.60" y2="128.04" stroke="#0a0a0a" stroke-width="1.05"/><line x1="350.9" y1="267.8" x2="604.7" y2="91" stroke="#000" stroke-width="2.3" stroke-linecap="butt"/><line x1="347.3" y1="381.8" x2="598.5" y2="223" stroke="#000" stroke-width="2.3"/><line x1="177.4" y1="122.5" x2="217.8" y2="122.5" stroke="#000" stroke-width="2.2"/><line x1="572.5" y1="121.5" x2="607" y2="121.5" stroke="#000" stroke-width="2.2"/><line x1="2.0" y1="480.75" x2="606.5" y2="480.75" stroke="#e9e9e9" stroke-width="1"/><line x1="2.0" y1="470.80" x2="606.5" y2="470.80" stroke="#e9e9e9" stroke-width="1"/><line x1="2.0" y1="460.85" x2="606.5" y2="460.85" stroke="#e9e9e9" stroke-width="1"/><line x1="2.0" y1="450.90" x2="606.5" y2="450.90" stroke="#e9e9e9" stroke-width="1"/><line x1="2.0" y1="440.95" x2="606.5" y2="440.95" stroke="#e9e9e9" stroke-width="1"/><line x1="2.0" y1="431.00" x2="606.5" y2="431.00" stroke="#e9e9e9" stroke-width="1"/><line x1="2.0" y1="421.05" x2="606.5" y2="421.05" stroke="#e9e9e9" stroke-width="1"/><line x1="2.0" y1="411.10" x2="606.5" y2="411.10" stroke="#e9e9e9" stroke-width="1"/><line x1="2.0" y1="401.15" x2="606.5" y2="401.15" stroke="#e9e9e9" stroke-width="1"/><line x1="2.0" y1="391.20" x2="606.5" y2="391.20" stroke="#e9e9e9" stroke-width="1"/><line x1="12.00" y1="389.3" x2="12.00" y2="482.2" stroke="#e0e0e0" stroke-width="1"/><line x1="28.00" y1="389.3" x2="28.00" y2="482.2" stroke="#e0e0e0" stroke-width="1"/><line x1="46.25" y1="389.3" x2="46.25" y2="482.2" stroke="#e0e0e0" stroke-width="1"/><line x1="63.00" y1="389.3" x2="63.00" y2="482.2" stroke="#e0e0e0" stroke-width="1"/><line x1="78.75" y1="389.3" x2="78.75" y2="482.2" stroke="#e0e0e0" stroke-width="1"/><line x1="96.25" y1="389.3" x2="96.25" y2="482.2" stroke="#e0e0e0" stroke-width="1"/><line x1="113.25" y1="389.3" x2="113.25" y2="482.2" stroke="#e0e0e0" stroke-width="1"/><line x1="130.50" y1="389.3" x2="130.50" y2="482.2" stroke="#e0e0e0" stroke-width="1"/><line x1="147.50" y1="389.3" x2="147.50" y2="482.2" stroke="#e0e0e0" stroke-width="1"/><line x1="164.50" y1="389.3" x2="164.50" y2="482.2" stroke="#e0e0e0" stroke-width="1"/><line x1="180.75" y1="389.3" x2="180.75" y2="482.2" stroke="#e0e0e0" stroke-width="1"/><line x1="197.00" y1="389.3" x2="197.00" y2="482.2" stroke="#d4d4d4" stroke-width="1"/><line x1="213.75" y1="389.3" x2="213.75" y2="482.2" stroke="#e0e0e0" stroke-width="1"/><line x1="230.00" y1="389.3" x2="230.00" y2="482.2" stroke="#e0e0e0" stroke-width="1"/><line x1="248.00" y1="389.3" x2="248.00" y2="482.2" stroke="#e0e0e0" stroke-width="1"/><line x1="263.75" y1="389.3" x2="263.75" y2="482.2" stroke="#e0e0e0" stroke-width="1"/><line x1="280.50" y1="389.3" x2="280.50" y2="482.2" stroke="#e0e0e0" stroke-width="1"/><line x1="297.00" y1="389.3" x2="297.00" y2="482.2" stroke="#e0e0e0" stroke-width="1"/><line x1="313.25" y1="389.3" x2="313.25" y2="482.2" stroke="#e0e0e0" stroke-width="1"/><line x1="332.00" y1="389.3" x2="332.00" y2="482.2" stroke="#e0e0e0" stroke-width="1"/><line x1="348.00" y1="389.3" x2="348.00" y2="482.2" stroke="#e0e0e0" stroke-width="1"/><line x1="365.00" y1="389.3" x2="365.00" y2="482.2" stroke="#e0e0e0" stroke-width="1"/><line x1="381.30" y1="389.3" x2="381.30" y2="482.2" stroke="#e0e0e0" stroke-width="1"/><line x1="397.80" y1="389.3" x2="397.80" y2="482.2" stroke="#d4d4d4" stroke-width="1"/><line x1="414.50" y1="389.3" x2="414.50" y2="482.2" stroke="#e0e0e0" stroke-width="1"/><line x1="430.00" y1="389.3" x2="430.00" y2="482.2" stroke="#e0e0e0" stroke-width="1"/><line x1="448.00" y1="389.3" x2="448.00" y2="482.2" stroke="#e0e0e0" stroke-width="1"/><line x1="463.00" y1="389.3" x2="463.00" y2="482.2" stroke="#e0e0e0" stroke-width="1"/><line x1="479.50" y1="389.3" x2="479.50" y2="482.2" stroke="#e0e0e0" stroke-width="1"/><line x1="497.50" y1="389.3" x2="497.50" y2="482.2" stroke="#e0e0e0" stroke-width="1"/><line x1="513.00" y1="389.3" x2="513.00" y2="482.2" stroke="#e0e0e0" stroke-width="1"/><line x1="531.00" y1="389.3" x2="531.00" y2="482.2" stroke="#e0e0e0" stroke-width="1"/><line x1="547.00" y1="389.3" x2="547.00" y2="482.2" stroke="#e0e0e0" stroke-width="1"/><line x1="565.00" y1="389.3" x2="565.00" y2="482.2" stroke="#e0e0e0" stroke-width="1"/><line x1="581.00" y1="389.3" x2="581.00" y2="482.2" stroke="#e0e0e0" stroke-width="1"/><line x1="596.50" y1="389.3" x2="596.50" y2="482.2" stroke="#d4d4d4" stroke-width="1"/><g fill="#1d6a8e"><rect x="2.20" y="431.00" width="1.1" height="1.32"/><rect x="3.00" y="431.00" width="1.1" height="1.90"/><rect x="3.80" y="431.00" width="1.1" height="1.02"/><rect x="4.60" y="431.00" width="1.1" height="0.72"/><rect x="5.40" y="431.00" width="1.1" height="0.98"/><rect x="6.20" y="431.00" width="1.1" height="1.31"/><rect x="7.00" y="431.00" width="1.1" height="2.15"/><rect x="7.80" y="431.00" width="1.1" height="2.09"/><rect x="8.60" y="431.00" width="1.1" height="2.99"/><rect x="9.40" y="431.00" width="1.1" height="4.34"/><rect x="10.20" y="431.00" width="1.1" height="5.45"/><rect x="11.00" y="431.00" width="1.1" height="4.44"/><rect x="11.80" y="431.00" width="1.1" height="4.24"/><rect x="12.60" y="431.00" width="1.1" height="2.74"/><rect x="13.40" y="431.00" width="1.1" height="2.18"/><rect x="14.20" y="431.00" width="1.1" height="0.58"/><rect x="15.00" y="429.92" width="1.1" height="1.08"/><rect x="15.80" y="427.98" width="1.1" height="3.02"/><rect x="16.60" y="428.07" width="1.1" height="2.93"/><rect x="17.40" y="427.08" width="1.1" height="3.92"/><rect x="18.20" y="427.03" width="1.1" height="3.97"/><rect x="19.00" y="427.64" width="1.1" height="3.36"/><rect x="19.80" y="427.54" width="1.1" height="3.46"/><rect x="20.60" y="427.59" width="1.1" height="3.41"/><rect x="21.40" y="428.28" width="1.1" height="2.72"/><rect x="22.20" y="428.58" width="1.1" height="2.42"/><rect x="23.00" y="430.45" width="1.1" height="0.55"/><rect x="23.80" y="431.00" width="1.1" height="0.30"/><rect x="24.60" y="431.00" width="1.1" height="1.30"/><rect x="25.40" y="431.00" width="1.1" height="2.24"/><rect x="26.20" y="431.00" width="1.1" height="2.38"/><rect x="27.00" y="431.00" width="1.1" height="3.69"/><rect x="27.80" y="431.00" width="1.1" height="4.27"/><rect x="28.60" y="431.00" width="1.1" height="5.95"/><rect x="29.40" y="431.00" width="1.1" height="7.06"/><rect x="30.20" y="431.00" width="1.1" height="6.39"/><rect x="31.00" y="431.00" width="1.1" height="4.25"/><rect x="31.80" y="431.00" width="1.1" height="2.56"/><rect x="32.60" y="431.00" width="1.1" height="1.11"/><rect x="33.40" y="430.23" width="1.1" height="0.77"/><rect x="34.20" y="428.52" width="1.1" height="2.48"/><rect x="35.00" y="428.48" width="1.1" height="2.52"/><rect x="35.80" y="427.22" width="1.1" height="3.78"/><rect x="36.60" y="427.81" width="1.1" height="3.19"/><rect x="37.40" y="429.02" width="1.1" height="1.98"/><rect x="38.20" y="431.00" width="1.1" height="0.54"/><rect x="39.00" y="431.00" width="1.1" height="0.30"/><rect x="39.80" y="430.40" width="1.1" height="0.60"/><rect x="40.60" y="430.75" width="1.1" height="0.30"/><rect x="41.40" y="431.00" width="1.1" height="0.30"/><rect x="42.20" y="431.00" width="1.1" height="0.30"/><rect x="43.00" y="429.58" width="1.1" height="1.42"/><rect x="43.80" y="428.68" width="1.1" height="2.32"/><rect x="44.60" y="426.95" width="1.1" height="4.05"/><rect x="45.40" y="425.88" width="1.1" height="5.12"/><rect x="46.20" y="425.91" width="1.1" height="5.09"/><rect x="47.00" y="424.96" width="1.1" height="6.04"/><rect x="47.80" y="424.34" width="1.1" height="6.66"/><rect x="48.60" y="424.80" width="1.1" height="6.20"/><rect x="49.40" y="423.92" width="1.1" height="7.08"/><rect x="50.20" y="423.90" width="1.1" height="7.10"/><rect x="51.00" y="424.44" width="1.1" height="6.56"/><rect x="51.80" y="424.80" width="1.1" height="6.20"/><rect x="52.60" y="425.05" width="1.1" height="5.95"/><rect x="53.40" y="425.33" width="1.1" height="5.67"/><rect x="54.20" y="425.14" width="1.1" height="5.86"/><rect x="55.00" y="424.79" width="1.1" height="6.21"/><rect x="55.80" y="426.91" width="1.1" height="4.09"/><rect x="56.60" y="427.16" width="1.1" height="3.84"/><rect x="57.40" y="428.94" width="1.1" height="2.06"/><rect x="58.20" y="429.85" width="1.1" height="1.15"/><rect x="59.00" y="430.68" width="1.1" height="0.32"/><rect x="59.80" y="431.00" width="1.1" height="0.30"/><rect x="60.60" y="430.97" width="1.1" height="0.30"/><rect x="61.40" y="431.00" width="1.1" height="0.99"/><rect x="62.20" y="431.00" width="1.1" height="1.61"/><rect x="63.00" y="431.00" width="1.1" height="2.20"/><rect x="63.80" y="431.00" width="1.1" height="2.63"/><rect x="64.60" y="431.00" width="1.1" height="4.60"/><rect x="65.40" y="431.00" width="1.1" height="5.07"/><rect x="66.20" y="431.00" width="1.1" height="5.13"/><rect x="67.00" y="431.00" width="1.1" height="5.96"/><rect x="67.80" y="431.00" width="1.1" height="7.59"/><rect x="68.60" y="431.00" width="1.1" height="7.11"/><rect x="69.40" y="431.00" width="1.1" height="7.92"/><rect x="70.20" y="431.00" width="1.1" height="8.66"/><rect x="71.00" y="431.00" width="1.1" height="7.68"/><rect x="71.80" y="431.00" width="1.1" height="6.38"/><rect x="72.60" y="431.00" width="1.1" height="5.50"/><rect x="73.40" y="431.00" width="1.1" height="3.49"/><rect x="74.20" y="431.00" width="1.1" height="2.68"/><rect x="75.00" y="431.00" width="1.1" height="3.47"/><rect x="75.80" y="431.00" width="1.1" height="2.78"/><rect x="76.60" y="431.00" width="1.1" height="1.26"/><rect x="77.40" y="431.00" width="1.1" height="0.82"/><rect x="78.20" y="431.00" width="1.1" height="0.79"/><rect x="79.00" y="431.00" width="1.1" height="1.91"/><rect x="79.80" y="431.00" width="1.1" height="1.06"/><rect x="80.60" y="431.00" width="1.1" height="1.85"/><rect x="81.40" y="431.00" width="1.1" height="2.36"/><rect x="82.20" y="431.00" width="1.1" height="2.10"/><rect x="83.00" y="431.00" width="1.1" height="2.64"/><rect x="83.80" y="431.00" width="1.1" height="1.87"/><rect x="84.60" y="431.00" width="1.1" height="1.64"/><rect x="85.40" y="431.00" width="1.1" height="1.30"/><rect x="86.20" y="431.00" width="1.1" height="2.19"/><rect x="87.00" y="431.00" width="1.1" height="1.13"/><rect x="87.80" y="431.00" width="1.1" height="2.19"/><rect x="88.60" y="431.00" width="1.1" height="1.68"/><rect x="89.40" y="431.00" width="1.1" height="0.79"/><rect x="90.20" y="431.00" width="1.1" height="1.25"/><rect x="91.00" y="430.15" width="1.1" height="0.85"/><rect x="91.80" y="429.45" width="1.1" height="1.55"/><rect x="92.60" y="427.69" width="1.1" height="3.31"/><rect x="93.40" y="428.03" width="1.1" height="2.97"/><rect x="94.20" y="428.15" width="1.1" height="2.85"/><rect x="95.00" y="428.17" width="1.1" height="2.83"/><rect x="95.80" y="426.86" width="1.1" height="4.14"/><rect x="96.60" y="428.03" width="1.1" height="2.97"/><rect x="97.40" y="427.92" width="1.1" height="3.08"/><rect x="98.20" y="428.92" width="1.1" height="2.08"/><rect x="99.00" y="429.10" width="1.1" height="1.90"/><rect x="99.80" y="429.89" width="1.1" height="1.11"/><rect x="100.60" y="430.63" width="1.1" height="0.37"/><rect x="101.40" y="431.00" width="1.1" height="0.75"/><rect x="102.20" y="431.00" width="1.1" height="0.57"/><rect x="103.00" y="431.00" width="1.1" height="1.36"/><rect x="103.80" y="431.00" width="1.1" height="2.88"/><rect x="104.60" y="431.00" width="1.1" height="2.28"/><rect x="105.40" y="431.00" width="1.1" height="1.82"/><rect x="106.20" y="431.00" width="1.1" height="0.67"/><rect x="107.00" y="431.00" width="1.1" height="1.10"/><rect x="107.80" y="430.48" width="1.1" height="0.52"/><rect x="108.60" y="431.00" width="1.1" height="0.46"/><rect x="109.40" y="431.00" width="1.1" height="0.44"/><rect x="110.20" y="430.94" width="1.1" height="0.30"/><rect x="111.00" y="430.47" width="1.1" height="0.53"/><rect x="111.80" y="431.00" width="1.1" height="0.30"/><rect x="112.60" y="430.59" width="1.1" height="0.41"/><rect x="113.40" y="430.90" width="1.1" height="0.30"/><rect x="114.20" y="430.52" width="1.1" height="0.48"/><rect x="115.00" y="431.00" width="1.1" height="0.99"/><rect x="115.80" y="431.00" width="1.1" height="0.64"/><rect x="116.60" y="431.00" width="1.1" height="0.63"/><rect x="117.40" y="431.00" width="1.1" height="0.52"/><rect x="118.20" y="431.00" width="1.1" height="1.67"/><rect x="119.00" y="431.00" width="1.1" height="2.09"/><rect x="119.80" y="431.00" width="1.1" height="2.34"/><rect x="120.60" y="431.00" width="1.1" height="1.55"/><rect x="121.40" y="431.00" width="1.1" height="1.88"/><rect x="122.20" y="431.00" width="1.1" height="1.43"/><rect x="123.00" y="431.00" width="1.1" height="1.71"/><rect x="123.80" y="431.00" width="1.1" height="0.49"/><rect x="124.60" y="431.00" width="1.1" height="0.78"/><rect x="125.40" y="431.00" width="1.1" height="0.94"/><rect x="126.20" y="431.00" width="1.1" height="0.33"/><rect x="127.00" y="430.09" width="1.1" height="0.91"/><rect x="127.80" y="430.00" width="1.1" height="1.00"/><rect x="128.60" y="429.88" width="1.1" height="1.12"/><rect x="129.40" y="430.51" width="1.1" height="0.49"/><rect x="130.20" y="430.20" width="1.1" height="0.80"/><rect x="131.00" y="429.91" width="1.1" height="1.09"/><rect x="131.80" y="430.49" width="1.1" height="0.51"/><rect x="132.60" y="431.00" width="1.1" height="0.30"/><rect x="133.40" y="431.00" width="1.1" height="1.05"/><rect x="134.20" y="431.00" width="1.1" height="1.78"/><rect x="135.00" y="431.00" width="1.1" height="2.82"/><rect x="135.80" y="431.00" width="1.1" height="3.46"/><rect x="136.60" y="431.00" width="1.1" height="4.45"/><rect x="137.40" y="431.00" width="1.1" height="5.51"/><rect x="138.20" y="431.00" width="1.1" height="6.30"/><rect x="139.00" y="431.00" width="1.1" height="7.02"/><rect x="139.80" y="431.00" width="1.1" height="7.23"/><rect x="140.60" y="431.00" width="1.1" height="9.30"/><rect x="141.40" y="431.00" width="1.1" height="9.80"/><rect x="142.20" y="431.00" width="1.1" height="8.57"/><rect x="143.00" y="431.00" width="1.1" height="8.55"/><rect x="143.80" y="431.00" width="1.1" height="6.93"/><rect x="144.60" y="431.00" width="1.1" height="7.35"/><rect x="145.40" y="431.00" width="1.1" height="6.00"/><rect x="146.20" y="431.00" width="1.1" height="5.67"/><rect x="147.00" y="431.00" width="1.1" height="4.13"/><rect x="147.80" y="431.00" width="1.1" height="3.30"/><rect x="148.60" y="431.00" width="1.1" height="2.48"/><rect x="149.40" y="431.00" width="1.1" height="1.55"/><rect x="150.20" y="431.00" width="1.1" height="0.30"/><rect x="151.00" y="430.55" width="1.1" height="0.45"/><rect x="151.80" y="430.11" width="1.1" height="0.89"/><rect x="152.60" y="428.45" width="1.1" height="2.55"/><rect x="153.40" y="427.71" width="1.1" height="3.29"/><rect x="154.20" y="426.39" width="1.1" height="4.61"/><rect x="155.00" y="425.42" width="1.1" height="5.58"/><rect x="155.80" y="424.57" width="1.1" height="6.43"/><rect x="156.60" y="423.16" width="1.1" height="7.84"/><rect x="157.40" y="421.41" width="1.1" height="9.59"/><rect x="158.20" y="420.61" width="1.1" height="10.39"/><rect x="159.00" y="421.02" width="1.1" height="9.98"/><rect x="159.80" y="420.65" width="1.1" height="10.35"/><rect x="160.60" y="421.13" width="1.1" height="9.87"/><rect x="161.40" y="422.22" width="1.1" height="8.78"/><rect x="162.20" y="422.45" width="1.1" height="8.55"/><rect x="163.00" y="421.80" width="1.1" height="9.20"/><rect x="163.80" y="422.87" width="1.1" height="8.13"/><rect x="164.60" y="423.32" width="1.1" height="7.68"/><rect x="165.40" y="423.93" width="1.1" height="7.07"/><rect x="166.20" y="424.24" width="1.1" height="6.76"/><rect x="167.00" y="424.32" width="1.1" height="6.68"/><rect x="167.80" y="425.07" width="1.1" height="5.93"/><rect x="168.60" y="427.42" width="1.1" height="3.58"/><rect x="169.40" y="428.05" width="1.1" height="2.95"/><rect x="170.20" y="429.83" width="1.1" height="1.17"/><rect x="171.00" y="430.81" width="1.1" height="0.30"/><rect x="171.80" y="431.00" width="1.1" height="1.13"/><rect x="172.60" y="431.00" width="1.1" height="2.80"/><rect x="173.40" y="431.00" width="1.1" height="2.75"/><rect x="174.20" y="431.00" width="1.1" height="4.34"/><rect x="175.00" y="431.00" width="1.1" height="5.59"/><rect x="175.80" y="431.00" width="1.1" height="6.50"/><rect x="176.60" y="431.00" width="1.1" height="7.98"/><rect x="177.40" y="431.00" width="1.1" height="8.09"/><rect x="178.20" y="431.00" width="1.1" height="9.66"/><rect x="179.00" y="431.00" width="1.1" height="10.20"/><rect x="179.80" y="431.00" width="1.1" height="11.45"/><rect x="180.60" y="431.00" width="1.1" height="11.08"/><rect x="181.40" y="431.00" width="1.1" height="10.05"/><rect x="182.20" y="431.00" width="1.1" height="8.66"/><rect x="183.00" y="431.00" width="1.1" height="8.04"/><rect x="183.80" y="431.00" width="1.1" height="5.29"/><rect x="184.60" y="431.00" width="1.1" height="4.09"/><rect x="185.40" y="431.00" width="1.1" height="3.16"/><rect x="186.20" y="431.00" width="1.1" height="1.97"/><rect x="187.00" y="430.27" width="1.1" height="0.73"/><rect x="187.80" y="429.07" width="1.1" height="1.93"/><rect x="188.60" y="429.02" width="1.1" height="1.98"/><rect x="189.40" y="429.03" width="1.1" height="1.97"/><rect x="190.20" y="429.10" width="1.1" height="1.90"/><rect x="191.00" y="429.11" width="1.1" height="1.89"/><rect x="191.80" y="428.41" width="1.1" height="2.59"/><rect x="192.60" y="427.92" width="1.1" height="3.08"/><rect x="193.40" y="426.92" width="1.1" height="4.08"/><rect x="194.20" y="427.18" width="1.1" height="3.82"/><rect x="195.00" y="425.83" width="1.1" height="5.17"/><rect x="195.80" y="425.23" width="1.1" height="5.77"/><rect x="196.60" y="426.22" width="1.1" height="4.78"/><rect x="197.40" y="425.99" width="1.1" height="5.01"/><rect x="198.20" y="426.14" width="1.1" height="4.86"/><rect x="199.00" y="426.46" width="1.1" height="4.54"/><rect x="199.80" y="426.60" width="1.1" height="4.40"/><rect x="200.60" y="428.94" width="1.1" height="2.06"/><rect x="201.40" y="431.00" width="1.1" height="0.30"/><rect x="202.20" y="431.00" width="1.1" height="2.79"/><rect x="203.00" y="431.00" width="1.1" height="5.67"/><rect x="203.80" y="431.00" width="1.1" height="6.90"/><rect x="204.60" y="431.00" width="1.1" height="8.70"/><rect x="205.40" y="431.00" width="1.1" height="9.70"/><rect x="206.20" y="431.00" width="1.1" height="10.97"/><rect x="207.00" y="431.00" width="1.1" height="12.82"/><rect x="207.80" y="431.00" width="1.1" height="14.79"/><rect x="208.60" y="431.00" width="1.1" height="15.71"/><rect x="209.40" y="431.00" width="1.1" height="16.44"/><rect x="210.20" y="431.00" width="1.1" height="15.86"/><rect x="211.00" y="431.00" width="1.1" height="12.21"/><rect x="211.80" y="431.00" width="1.1" height="9.28"/><rect x="212.60" y="431.00" width="1.1" height="6.74"/><rect x="213.40" y="431.00" width="1.1" height="4.46"/><rect x="214.20" y="431.00" width="1.1" height="2.84"/><rect x="215.00" y="431.00" width="1.1" height="0.48"/><rect x="215.80" y="429.86" width="1.1" height="1.14"/><rect x="216.60" y="426.96" width="1.1" height="4.04"/><rect x="217.40" y="426.68" width="1.1" height="4.32"/><rect x="218.20" y="424.96" width="1.1" height="6.04"/><rect x="219.00" y="424.75" width="1.1" height="6.25"/><rect x="219.80" y="424.82" width="1.1" height="6.18"/><rect x="220.60" y="427.13" width="1.1" height="3.87"/><rect x="221.40" y="427.48" width="1.1" height="3.52"/><rect x="222.20" y="429.97" width="1.1" height="1.03"/><rect x="223.00" y="431.00" width="1.1" height="1.77"/><rect x="223.80" y="431.00" width="1.1" height="4.45"/><rect x="224.60" y="431.00" width="1.1" height="6.77"/><rect x="225.40" y="431.00" width="1.1" height="6.99"/><rect x="226.20" y="431.00" width="1.1" height="5.57"/><rect x="227.00" y="431.00" width="1.1" height="4.90"/><rect x="227.80" y="431.00" width="1.1" height="2.18"/><rect x="228.60" y="431.00" width="1.1" height="1.79"/><rect x="229.40" y="431.00" width="1.1" height="0.79"/><rect x="230.20" y="431.00" width="1.1" height="0.30"/><rect x="231.00" y="429.43" width="1.1" height="1.57"/><rect x="231.80" y="428.49" width="1.1" height="2.51"/><rect x="232.60" y="428.33" width="1.1" height="2.67"/><rect x="233.40" y="429.75" width="1.1" height="1.25"/><rect x="234.20" y="429.09" width="1.1" height="1.91"/><rect x="235.00" y="429.65" width="1.1" height="1.35"/><rect x="235.80" y="429.71" width="1.1" height="1.29"/><rect x="236.60" y="429.40" width="1.1" height="1.60"/><rect x="237.40" y="427.98" width="1.1" height="3.02"/><rect x="238.20" y="425.34" width="1.1" height="5.66"/><rect x="239.00" y="423.93" width="1.1" height="7.07"/><rect x="239.80" y="420.35" width="1.1" height="10.65"/><rect x="240.60" y="418.94" width="1.1" height="12.06"/><rect x="241.40" y="415.52" width="1.1" height="15.48"/><rect x="242.20" y="414.76" width="1.1" height="16.24"/><rect x="243.00" y="414.00" width="1.1" height="17.00"/><rect x="243.80" y="414.96" width="1.1" height="16.04"/><rect x="244.60" y="414.27" width="1.1" height="16.73"/><rect x="245.40" y="414.48" width="1.1" height="16.52"/><rect x="246.20" y="414.76" width="1.1" height="16.24"/><rect x="247.00" y="415.29" width="1.1" height="15.71"/><rect x="247.80" y="418.33" width="1.1" height="12.67"/><rect x="248.60" y="421.95" width="1.1" height="9.05"/><rect x="249.40" y="424.08" width="1.1" height="6.92"/><rect x="250.20" y="427.10" width="1.1" height="3.90"/><rect x="251.00" y="430.62" width="1.1" height="0.38"/><rect x="251.80" y="431.00" width="1.1" height="1.85"/><rect x="252.60" y="431.00" width="1.1" height="4.80"/><rect x="253.40" y="431.00" width="1.1" height="6.90"/><rect x="254.20" y="431.00" width="1.1" height="8.28"/><rect x="255.00" y="431.00" width="1.1" height="9.40"/><rect x="255.80" y="431.00" width="1.1" height="10.93"/><rect x="256.60" y="431.00" width="1.1" height="11.84"/><rect x="257.40" y="431.00" width="1.1" height="13.55"/><rect x="258.20" y="431.00" width="1.1" height="13.12"/><rect x="259.00" y="431.00" width="1.1" height="13.45"/><rect x="259.80" y="431.00" width="1.1" height="13.15"/><rect x="260.60" y="431.00" width="1.1" height="11.77"/><rect x="261.40" y="431.00" width="1.1" height="10.94"/><rect x="262.20" y="431.00" width="1.1" height="11.09"/><rect x="263.00" y="431.00" width="1.1" height="10.52"/><rect x="263.80" y="431.00" width="1.1" height="10.89"/><rect x="264.60" y="431.00" width="1.1" height="11.13"/><rect x="265.40" y="431.00" width="1.1" height="10.16"/><rect x="266.20" y="431.00" width="1.1" height="10.08"/><rect x="267.00" y="431.00" width="1.1" height="10.47"/><rect x="267.80" y="431.00" width="1.1" height="9.93"/><rect x="268.60" y="431.00" width="1.1" height="9.90"/><rect x="269.40" y="431.00" width="1.1" height="10.08"/><rect x="270.20" y="431.00" width="1.1" height="9.04"/><rect x="271.00" y="431.00" width="1.1" height="6.96"/><rect x="271.80" y="431.00" width="1.1" height="5.35"/><rect x="272.60" y="431.00" width="1.1" height="3.48"/><rect x="273.40" y="431.00" width="1.1" height="2.12"/><rect x="274.20" y="430.46" width="1.1" height="0.54"/><rect x="275.00" y="427.32" width="1.1" height="3.68"/><rect x="275.80" y="425.07" width="1.1" height="5.93"/><rect x="276.60" y="423.33" width="1.1" height="7.67"/><rect x="277.40" y="420.62" width="1.1" height="10.38"/><rect x="278.20" y="418.97" width="1.1" height="12.03"/><rect x="279.00" y="418.17" width="1.1" height="12.83"/><rect x="279.80" y="417.09" width="1.1" height="13.91"/><rect x="280.60" y="415.11" width="1.1" height="15.89"/><rect x="281.40" y="418.02" width="1.1" height="12.98"/><rect x="282.20" y="419.55" width="1.1" height="11.45"/><rect x="283.00" y="421.27" width="1.1" height="9.73"/><rect x="283.80" y="423.29" width="1.1" height="7.71"/><rect x="284.60" y="428.15" width="1.1" height="2.85"/><rect x="285.40" y="431.00" width="1.1" height="0.72"/><rect x="286.20" y="431.00" width="1.1" height="5.02"/><rect x="287.00" y="431.00" width="1.1" height="9.75"/><rect x="287.80" y="431.00" width="1.1" height="12.61"/><rect x="288.60" y="431.00" width="1.1" height="13.90"/><rect x="289.40" y="431.00" width="1.1" height="16.21"/><rect x="290.20" y="431.00" width="1.1" height="11.33"/><rect x="291.00" y="431.00" width="1.1" height="7.06"/><rect x="291.80" y="431.00" width="1.1" height="2.07"/><rect x="292.60" y="430.68" width="1.1" height="0.32"/><rect x="293.40" y="429.96" width="1.1" height="1.04"/><rect x="294.20" y="428.17" width="1.1" height="2.83"/><rect x="295.00" y="426.46" width="1.1" height="4.54"/><rect x="295.80" y="426.31" width="1.1" height="4.69"/><rect x="296.60" y="425.11" width="1.1" height="5.89"/><rect x="297.40" y="424.49" width="1.1" height="6.51"/><rect x="298.20" y="424.05" width="1.1" height="6.95"/><rect x="299.00" y="424.75" width="1.1" height="6.25"/><rect x="299.80" y="424.35" width="1.1" height="6.65"/><rect x="300.60" y="422.94" width="1.1" height="8.06"/><rect x="301.40" y="422.67" width="1.1" height="8.33"/><rect x="302.20" y="422.21" width="1.1" height="8.79"/><rect x="303.00" y="421.25" width="1.1" height="9.75"/><rect x="303.80" y="420.16" width="1.1" height="10.84"/><rect x="304.60" y="419.85" width="1.1" height="11.15"/><rect x="305.40" y="419.33" width="1.1" height="11.67"/><rect x="306.20" y="418.86" width="1.1" height="12.14"/><rect x="307.00" y="418.01" width="1.1" height="12.99"/><rect x="307.80" y="418.79" width="1.1" height="12.21"/><rect x="308.60" y="418.84" width="1.1" height="12.16"/><rect x="309.40" y="418.42" width="1.1" height="12.58"/><rect x="310.20" y="418.44" width="1.1" height="12.56"/><rect x="311.00" y="417.61" width="1.1" height="13.39"/><rect x="311.80" y="418.36" width="1.1" height="12.64"/><rect x="312.60" y="418.35" width="1.1" height="12.65"/><rect x="313.40" y="419.41" width="1.1" height="11.59"/><rect x="314.20" y="420.93" width="1.1" height="10.07"/><rect x="315.00" y="422.35" width="1.1" height="8.65"/><rect x="315.80" y="422.20" width="1.1" height="8.80"/><rect x="316.60" y="423.39" width="1.1" height="7.61"/><rect x="317.40" y="424.97" width="1.1" height="6.03"/><rect x="318.20" y="428.23" width="1.1" height="2.77"/><rect x="319.00" y="430.50" width="1.1" height="0.50"/><rect x="319.80" y="431.00" width="1.1" height="2.26"/><rect x="320.60" y="431.00" width="1.1" height="5.72"/><rect x="321.40" y="431.00" width="1.1" height="8.18"/><rect x="322.20" y="431.00" width="1.1" height="10.90"/><rect x="323.00" y="431.00" width="1.1" height="10.96"/><rect x="323.80" y="431.00" width="1.1" height="12.17"/><rect x="324.60" y="431.00" width="1.1" height="12.05"/><rect x="325.40" y="431.00" width="1.1" height="14.18"/><rect x="326.20" y="431.00" width="1.1" height="14.00"/><rect x="327.00" y="431.00" width="1.1" height="15.16"/><rect x="327.80" y="431.00" width="1.1" height="16.02"/><rect x="328.60" y="431.00" width="1.1" height="17.45"/><rect x="329.40" y="431.00" width="1.1" height="17.63"/><rect x="330.20" y="431.00" width="1.1" height="18.71"/><rect x="331.00" y="431.00" width="1.1" height="17.24"/><rect x="331.80" y="431.00" width="1.1" height="15.72"/><rect x="332.60" y="431.00" width="1.1" height="15.64"/><rect x="333.40" y="431.00" width="1.1" height="13.80"/><rect x="334.20" y="431.00" width="1.1" height="13.97"/><rect x="335.00" y="431.00" width="1.1" height="12.26"/><rect x="335.80" y="431.00" width="1.1" height="12.03"/><rect x="336.60" y="431.00" width="1.1" height="13.14"/><rect x="337.40" y="431.00" width="1.1" height="12.34"/><rect x="338.20" y="431.00" width="1.1" height="12.55"/><rect x="339.00" y="431.00" width="1.1" height="12.55"/><rect x="339.80" y="431.00" width="1.1" height="13.09"/><rect x="340.60" y="431.00" width="1.1" height="10.67"/><rect x="341.40" y="431.00" width="1.1" height="9.10"/><rect x="342.20" y="431.00" width="1.1" height="6.74"/><rect x="343.00" y="431.00" width="1.1" height="5.61"/><rect x="343.80" y="431.00" width="1.1" height="2.39"/><rect x="344.60" y="431.00" width="1.1" height="1.18"/><rect x="345.40" y="430.32" width="1.1" height="0.68"/><rect x="346.20" y="429.93" width="1.1" height="1.07"/><rect x="347.00" y="429.41" width="1.1" height="1.59"/><rect x="347.80" y="428.94" width="1.1" height="2.06"/><rect x="348.60" y="427.47" width="1.1" height="3.53"/><rect x="349.40" y="427.72" width="1.1" height="3.28"/><rect x="350.20" y="428.45" width="1.1" height="2.55"/><rect x="351.00" y="430.52" width="1.1" height="0.48"/><rect x="351.80" y="430.28" width="1.1" height="0.72"/><rect x="352.60" y="429.60" width="1.1" height="1.40"/><rect x="353.40" y="428.94" width="1.1" height="2.06"/><rect x="354.20" y="427.83" width="1.1" height="3.17"/><rect x="355.00" y="427.06" width="1.1" height="3.94"/><rect x="355.80" y="424.11" width="1.1" height="6.89"/><rect x="356.60" y="422.56" width="1.1" height="8.44"/><rect x="357.40" y="420.68" width="1.1" height="10.32"/><rect x="358.20" y="419.72" width="1.1" height="11.28"/><rect x="359.00" y="418.74" width="1.1" height="12.26"/><rect x="359.80" y="417.89" width="1.1" height="13.11"/><rect x="360.60" y="417.77" width="1.1" height="13.23"/><rect x="361.40" y="416.66" width="1.1" height="14.34"/><rect x="362.20" y="416.15" width="1.1" height="14.85"/><rect x="363.00" y="417.84" width="1.1" height="13.16"/><rect x="363.80" y="418.76" width="1.1" height="12.24"/><rect x="364.60" y="421.59" width="1.1" height="9.41"/><rect x="365.40" y="422.73" width="1.1" height="8.27"/><rect x="366.20" y="423.54" width="1.1" height="7.46"/><rect x="367.00" y="424.30" width="1.1" height="6.70"/><rect x="367.80" y="422.72" width="1.1" height="8.28"/><rect x="368.60" y="422.15" width="1.1" height="8.85"/><rect x="369.40" y="422.08" width="1.1" height="8.92"/><rect x="370.20" y="421.82" width="1.1" height="9.18"/><rect x="371.00" y="423.07" width="1.1" height="7.93"/><rect x="371.80" y="423.23" width="1.1" height="7.77"/><rect x="372.60" y="422.90" width="1.1" height="8.10"/><rect x="373.40" y="423.35" width="1.1" height="7.65"/><rect x="374.20" y="424.10" width="1.1" height="6.90"/><rect x="375.00" y="424.34" width="1.1" height="6.66"/><rect x="375.80" y="424.42" width="1.1" height="6.58"/><rect x="376.60" y="424.57" width="1.1" height="6.43"/><rect x="377.40" y="424.37" width="1.1" height="6.63"/><rect x="378.20" y="424.91" width="1.1" height="6.09"/><rect x="379.00" y="425.85" width="1.1" height="5.15"/><rect x="379.80" y="426.10" width="1.1" height="4.90"/><rect x="380.60" y="426.76" width="1.1" height="4.24"/><rect x="381.40" y="428.09" width="1.1" height="2.91"/><rect x="382.20" y="430.19" width="1.1" height="0.81"/><rect x="383.00" y="431.00" width="1.1" height="0.30"/><rect x="383.80" y="431.00" width="1.1" height="1.98"/><rect x="384.60" y="431.00" width="1.1" height="5.15"/><rect x="385.40" y="431.00" width="1.1" height="6.08"/><rect x="386.20" y="431.00" width="1.1" height="6.31"/><rect x="387.00" y="431.00" width="1.1" height="7.79"/><rect x="387.80" y="431.00" width="1.1" height="7.95"/><rect x="388.60" y="431.00" width="1.1" height="8.70"/><rect x="389.40" y="431.00" width="1.1" height="9.65"/><rect x="390.20" y="431.00" width="1.1" height="10.64"/><rect x="391.00" y="431.00" width="1.1" height="11.62"/><rect x="391.80" y="431.00" width="1.1" height="10.48"/><rect x="392.60" y="431.00" width="1.1" height="10.06"/><rect x="393.40" y="431.00" width="1.1" height="8.53"/><rect x="394.20" y="431.00" width="1.1" height="6.96"/><rect x="395.00" y="431.00" width="1.1" height="5.88"/><rect x="395.80" y="431.00" width="1.1" height="4.70"/><rect x="396.60" y="431.00" width="1.1" height="2.23"/><rect x="397.40" y="431.00" width="1.1" height="1.91"/><rect x="398.20" y="431.00" width="1.1" height="1.59"/><rect x="399.00" y="431.00" width="1.1" height="1.04"/><rect x="399.80" y="431.00" width="1.1" height="0.36"/><rect x="400.60" y="429.35" width="1.1" height="1.65"/><rect x="401.40" y="428.83" width="1.1" height="2.17"/><rect x="402.20" y="426.98" width="1.1" height="4.02"/><rect x="403.00" y="424.60" width="1.1" height="6.40"/><rect x="403.80" y="423.26" width="1.1" height="7.74"/><rect x="404.60" y="424.37" width="1.1" height="6.63"/><rect x="405.40" y="423.98" width="1.1" height="7.02"/><rect x="406.20" y="424.92" width="1.1" height="6.08"/><rect x="407.00" y="426.35" width="1.1" height="4.65"/><rect x="407.80" y="426.92" width="1.1" height="4.08"/><rect x="408.60" y="425.47" width="1.1" height="5.53"/><rect x="409.40" y="425.28" width="1.1" height="5.72"/><rect x="410.20" y="423.86" width="1.1" height="7.14"/><rect x="411.00" y="423.39" width="1.1" height="7.61"/><rect x="411.80" y="423.83" width="1.1" height="7.17"/><rect x="412.60" y="423.24" width="1.1" height="7.76"/><rect x="413.40" y="423.67" width="1.1" height="7.33"/><rect x="414.20" y="424.27" width="1.1" height="6.73"/><rect x="415.00" y="425.91" width="1.1" height="5.09"/><rect x="415.80" y="427.16" width="1.1" height="3.84"/><rect x="416.60" y="428.87" width="1.1" height="2.13"/><rect x="417.40" y="430.81" width="1.1" height="0.30"/><rect x="418.20" y="431.00" width="1.1" height="1.39"/><rect x="419.00" y="431.00" width="1.1" height="2.43"/><rect x="419.80" y="431.00" width="1.1" height="4.66"/><rect x="420.60" y="431.00" width="1.1" height="6.69"/><rect x="421.40" y="431.00" width="1.1" height="7.70"/><rect x="422.20" y="431.00" width="1.1" height="8.91"/><rect x="423.00" y="431.00" width="1.1" height="10.93"/><rect x="423.80" y="431.00" width="1.1" height="9.99"/><rect x="424.60" y="431.00" width="1.1" height="9.07"/><rect x="425.40" y="431.00" width="1.1" height="8.93"/><rect x="426.20" y="431.00" width="1.1" height="7.72"/><rect x="427.00" y="431.00" width="1.1" height="8.09"/><rect x="427.80" y="431.00" width="1.1" height="6.77"/><rect x="428.60" y="431.00" width="1.1" height="6.46"/><rect x="429.40" y="431.00" width="1.1" height="6.70"/><rect x="430.20" y="431.00" width="1.1" height="5.82"/><rect x="431.00" y="431.00" width="1.1" height="5.32"/><rect x="431.80" y="431.00" width="1.1" height="4.45"/><rect x="432.60" y="431.00" width="1.1" height="3.85"/><rect x="433.40" y="431.00" width="1.1" height="3.29"/><rect x="434.20" y="431.00" width="1.1" height="2.94"/><rect x="435.00" y="431.00" width="1.1" height="1.14"/><rect x="435.80" y="431.00" width="1.1" height="1.22"/><rect x="436.60" y="430.86" width="1.1" height="0.30"/><rect x="437.40" y="430.08" width="1.1" height="0.92"/><rect x="438.20" y="430.26" width="1.1" height="0.74"/><rect x="439.00" y="429.65" width="1.1" height="1.35"/><rect x="439.80" y="429.70" width="1.1" height="1.30"/><rect x="440.60" y="429.43" width="1.1" height="1.57"/><rect x="441.40" y="428.59" width="1.1" height="2.41"/><rect x="442.20" y="427.44" width="1.1" height="3.56"/><rect x="443.00" y="426.59" width="1.1" height="4.41"/><rect x="443.80" y="426.72" width="1.1" height="4.28"/><rect x="444.60" y="426.39" width="1.1" height="4.61"/><rect x="445.40" y="425.16" width="1.1" height="5.84"/><rect x="446.20" y="424.28" width="1.1" height="6.72"/><rect x="447.00" y="423.59" width="1.1" height="7.41"/><rect x="447.80" y="424.49" width="1.1" height="6.51"/><rect x="448.60" y="425.90" width="1.1" height="5.10"/><rect x="449.40" y="425.60" width="1.1" height="5.40"/><rect x="450.20" y="426.59" width="1.1" height="4.41"/><rect x="451.00" y="427.31" width="1.1" height="3.69"/><rect x="451.80" y="429.44" width="1.1" height="1.56"/><rect x="452.60" y="431.00" width="1.1" height="0.32"/><rect x="453.40" y="431.00" width="1.1" height="0.47"/><rect x="454.20" y="431.00" width="1.1" height="2.10"/><rect x="455.00" y="431.00" width="1.1" height="4.75"/><rect x="455.80" y="431.00" width="1.1" height="4.42"/><rect x="456.60" y="431.00" width="1.1" height="2.89"/><rect x="457.40" y="431.00" width="1.1" height="2.77"/><rect x="458.20" y="431.00" width="1.1" height="2.65"/><rect x="459.00" y="431.00" width="1.1" height="1.99"/><rect x="459.80" y="431.00" width="1.1" height="1.68"/><rect x="460.60" y="431.00" width="1.1" height="1.31"/><rect x="461.40" y="431.00" width="1.1" height="0.56"/><rect x="462.20" y="430.82" width="1.1" height="0.30"/><rect x="463.00" y="430.42" width="1.1" height="0.58"/><rect x="463.80" y="430.08" width="1.1" height="0.92"/><rect x="464.60" y="429.53" width="1.1" height="1.47"/><rect x="465.40" y="429.83" width="1.1" height="1.17"/><rect x="466.20" y="429.48" width="1.1" height="1.52"/><rect x="467.00" y="428.43" width="1.1" height="2.57"/><rect x="467.80" y="428.99" width="1.1" height="2.01"/><rect x="468.60" y="428.72" width="1.1" height="2.28"/><rect x="469.40" y="428.00" width="1.1" height="3.00"/><rect x="470.20" y="428.03" width="1.1" height="2.97"/><rect x="471.00" y="427.43" width="1.1" height="3.57"/><rect x="471.80" y="428.29" width="1.1" height="2.71"/><rect x="472.60" y="427.56" width="1.1" height="3.44"/><rect x="473.40" y="426.62" width="1.1" height="4.38"/><rect x="474.20" y="426.54" width="1.1" height="4.46"/><rect x="475.00" y="427.07" width="1.1" height="3.93"/><rect x="475.80" y="426.42" width="1.1" height="4.58"/><rect x="476.60" y="426.49" width="1.1" height="4.51"/><rect x="477.40" y="425.36" width="1.1" height="5.64"/><rect x="478.20" y="425.70" width="1.1" height="5.30"/><rect x="479.00" y="425.26" width="1.1" height="5.74"/><rect x="479.80" y="423.82" width="1.1" height="7.18"/><rect x="480.60" y="424.90" width="1.1" height="6.10"/><rect x="481.40" y="425.02" width="1.1" height="5.98"/><rect x="482.20" y="426.42" width="1.1" height="4.58"/><rect x="483.00" y="427.23" width="1.1" height="3.77"/><rect x="483.80" y="427.88" width="1.1" height="3.12"/><rect x="484.60" y="428.10" width="1.1" height="2.90"/><rect x="485.40" y="429.03" width="1.1" height="1.97"/><rect x="486.20" y="430.95" width="1.1" height="0.30"/><rect x="487.00" y="431.00" width="1.1" height="0.93"/><rect x="487.80" y="431.00" width="1.1" height="1.45"/><rect x="488.60" y="431.00" width="1.1" height="1.70"/><rect x="489.40" y="431.00" width="1.1" height="2.09"/><rect x="490.20" y="431.00" width="1.1" height="1.28"/><rect x="491.00" y="431.00" width="1.1" height="1.87"/><rect x="491.80" y="431.00" width="1.1" height="1.17"/><rect x="492.60" y="431.00" width="1.1" height="1.04"/><rect x="493.40" y="431.00" width="1.1" height="1.12"/><rect x="494.20" y="431.00" width="1.1" height="1.09"/><rect x="495.00" y="431.00" width="1.1" height="1.06"/><rect x="495.80" y="430.79" width="1.1" height="0.30"/><rect x="496.60" y="431.00" width="1.1" height="0.46"/><rect x="497.40" y="430.46" width="1.1" height="0.54"/><rect x="498.20" y="430.26" width="1.1" height="0.74"/><rect x="499.00" y="430.45" width="1.1" height="0.55"/><rect x="499.80" y="430.22" width="1.1" height="0.78"/><rect x="500.60" y="429.89" width="1.1" height="1.11"/><rect x="501.40" y="430.10" width="1.1" height="0.90"/><rect x="502.20" y="428.92" width="1.1" height="2.08"/><rect x="503.00" y="428.88" width="1.1" height="2.12"/><rect x="503.80" y="429.17" width="1.1" height="1.83"/><rect x="504.60" y="428.41" width="1.1" height="2.59"/><rect x="505.40" y="428.36" width="1.1" height="2.64"/><rect x="506.20" y="428.83" width="1.1" height="2.17"/><rect x="507.00" y="429.97" width="1.1" height="1.03"/><rect x="507.80" y="430.42" width="1.1" height="0.58"/><rect x="508.60" y="430.64" width="1.1" height="0.36"/><rect x="509.40" y="431.00" width="1.1" height="0.36"/><rect x="510.20" y="431.00" width="1.1" height="0.64"/><rect x="511.00" y="431.00" width="1.1" height="0.85"/><rect x="511.80" y="431.00" width="1.1" height="1.76"/><rect x="512.60" y="431.00" width="1.1" height="3.22"/><rect x="513.40" y="431.00" width="1.1" height="3.19"/><rect x="514.20" y="431.00" width="1.1" height="4.86"/><rect x="515.00" y="431.00" width="1.1" height="5.02"/><rect x="515.80" y="431.00" width="1.1" height="5.30"/><rect x="516.60" y="431.00" width="1.1" height="6.28"/><rect x="517.40" y="431.00" width="1.1" height="6.11"/><rect x="518.20" y="431.00" width="1.1" height="7.54"/><rect x="519.00" y="431.00" width="1.1" height="7.79"/><rect x="519.80" y="431.00" width="1.1" height="7.54"/><rect x="520.60" y="431.00" width="1.1" height="7.51"/><rect x="521.40" y="431.00" width="1.1" height="7.73"/><rect x="522.20" y="431.00" width="1.1" height="8.50"/><rect x="523.00" y="431.00" width="1.1" height="8.43"/><rect x="523.80" y="431.00" width="1.1" height="8.12"/><rect x="524.60" y="431.00" width="1.1" height="8.52"/><rect x="525.40" y="431.00" width="1.1" height="8.17"/><rect x="526.20" y="431.00" width="1.1" height="8.43"/><rect x="527.00" y="431.00" width="1.1" height="7.40"/><rect x="527.80" y="431.00" width="1.1" height="7.26"/><rect x="528.60" y="431.00" width="1.1" height="5.89"/><rect x="529.40" y="431.00" width="1.1" height="3.64"/><rect x="530.20" y="431.00" width="1.1" height="0.92"/><rect x="531.00" y="430.12" width="1.1" height="0.88"/><rect x="531.80" y="427.95" width="1.1" height="3.05"/><rect x="532.60" y="426.54" width="1.1" height="4.46"/><rect x="533.40" y="426.71" width="1.1" height="4.29"/><rect x="534.20" y="427.49" width="1.1" height="3.51"/><rect x="535.00" y="428.02" width="1.1" height="2.98"/><rect x="535.80" y="427.91" width="1.1" height="3.09"/><rect x="536.60" y="428.46" width="1.1" height="2.54"/><rect x="537.40" y="429.81" width="1.1" height="1.19"/><rect x="538.20" y="430.71" width="1.1" height="0.30"/><rect x="539.00" y="431.00" width="1.1" height="0.30"/><rect x="539.80" y="431.00" width="1.1" height="0.34"/><rect x="540.60" y="431.00" width="1.1" height="2.00"/><rect x="541.40" y="431.00" width="1.1" height="3.51"/><rect x="542.20" y="431.00" width="1.1" height="4.27"/><rect x="543.00" y="431.00" width="1.1" height="5.19"/><rect x="543.80" y="431.00" width="1.1" height="7.77"/><rect x="544.60" y="431.00" width="1.1" height="8.93"/><rect x="545.40" y="431.00" width="1.1" height="6.90"/><rect x="546.20" y="431.00" width="1.1" height="6.12"/><rect x="547.00" y="431.00" width="1.1" height="5.09"/><rect x="547.80" y="431.00" width="1.1" height="3.39"/><rect x="548.60" y="431.00" width="1.1" height="1.75"/><rect x="549.40" y="431.00" width="1.1" height="1.36"/><rect x="550.20" y="431.00" width="1.1" height="0.30"/><rect x="551.00" y="429.23" width="1.1" height="1.77"/><rect x="551.80" y="427.40" width="1.1" height="3.60"/><rect x="552.60" y="426.93" width="1.1" height="4.07"/><rect x="553.40" y="425.75" width="1.1" height="5.25"/><rect x="554.20" y="426.22" width="1.1" height="4.78"/><rect x="555.00" y="425.80" width="1.1" height="5.20"/><rect x="555.80" y="427.94" width="1.1" height="3.06"/><rect x="556.60" y="430.43" width="1.1" height="0.57"/><rect x="557.40" y="431.00" width="1.1" height="0.37"/><rect x="558.20" y="431.00" width="1.1" height="1.93"/><rect x="559.00" y="431.00" width="1.1" height="2.87"/><rect x="559.80" y="431.00" width="1.1" height="3.98"/><rect x="560.60" y="431.00" width="1.1" height="5.47"/><rect x="561.40" y="431.00" width="1.1" height="6.88"/><rect x="562.20" y="431.00" width="1.1" height="6.93"/><rect x="563.00" y="431.00" width="1.1" height="4.91"/><rect x="563.80" y="431.00" width="1.1" height="3.71"/><rect x="564.60" y="431.00" width="1.1" height="1.20"/><rect x="565.40" y="430.05" width="1.1" height="0.95"/><rect x="566.20" y="427.78" width="1.1" height="3.22"/><rect x="567.00" y="426.16" width="1.1" height="4.84"/><rect x="567.80" y="425.39" width="1.1" height="5.61"/><rect x="568.60" y="422.40" width="1.1" height="8.60"/><rect x="569.40" y="420.81" width="1.1" height="10.19"/><rect x="570.20" y="420.14" width="1.1" height="10.86"/><rect x="571.00" y="420.35" width="1.1" height="10.65"/><rect x="571.80" y="420.37" width="1.1" height="10.63"/><rect x="572.60" y="419.76" width="1.1" height="11.24"/><rect x="573.40" y="420.44" width="1.1" height="10.56"/><rect x="574.20" y="419.95" width="1.1" height="11.05"/><rect x="575.00" y="419.50" width="1.1" height="11.50"/><rect x="575.80" y="420.42" width="1.1" height="10.58"/><rect x="576.60" y="421.45" width="1.1" height="9.55"/><rect x="577.40" y="422.14" width="1.1" height="8.86"/><rect x="578.20" y="421.97" width="1.1" height="9.03"/><rect x="579.00" y="422.73" width="1.1" height="8.27"/><rect x="579.80" y="424.88" width="1.1" height="6.12"/><rect x="580.60" y="424.76" width="1.1" height="6.24"/><rect x="581.40" y="426.82" width="1.1" height="4.18"/><rect x="582.20" y="427.24" width="1.1" height="3.76"/><rect x="583.00" y="428.18" width="1.1" height="2.82"/><rect x="583.80" y="429.27" width="1.1" height="1.73"/><rect x="584.60" y="429.61" width="1.1" height="1.39"/><rect x="585.40" y="430.04" width="1.1" height="0.96"/><rect x="586.20" y="428.57" width="1.1" height="2.43"/><rect x="587.00" y="429.26" width="1.1" height="1.74"/><rect x="587.80" y="428.18" width="1.1" height="2.82"/><rect x="588.60" y="427.64" width="1.1" height="3.36"/><rect x="589.40" y="428.12" width="1.1" height="2.88"/><rect x="590.20" y="427.31" width="1.1" height="3.69"/><rect x="591.00" y="427.13" width="1.1" height="3.87"/><rect x="591.80" y="427.48" width="1.1" height="3.52"/><rect x="592.60" y="428.08" width="1.1" height="2.92"/><rect x="593.40" y="428.82" width="1.1" height="2.18"/><rect x="594.20" y="429.76" width="1.1" height="1.24"/><rect x="595.00" y="430.31" width="1.1" height="0.69"/><rect x="595.80" y="431.00" width="1.1" height="1.71"/><rect x="596.60" y="431.00" width="1.1" height="2.84"/><rect x="597.40" y="431.00" width="1.1" height="4.45"/><rect x="598.20" y="431.00" width="1.1" height="5.58"/><rect x="599.00" y="431.00" width="1.1" height="5.77"/><rect x="599.80" y="431.00" width="1.1" height="6.11"/><rect x="600.60" y="431.00" width="1.1" height="5.20"/><rect x="601.40" y="431.00" width="1.1" height="3.57"/><rect x="602.20" y="431.00" width="1.1" height="2.95"/></g><line x1="2.0" y1="431.00" x2="606.5" y2="431.00" stroke="#1d6a8e" stroke-width="1"/><polyline fill="none" stroke="#e8443a" stroke-width="1.1" points="2.00,414.30 8.75,415.20 13.60,421.00 19.50,415.20 26.30,420.10 31.10,428.90 36.00,426.00 42.80,422.00 50.60,411.30 56.40,406.50 63.20,409.40 68.10,417.20 73.90,425.00 81.70,423.00 91.40,423.00 99.20,418.20 109.70,418.20 119.50,418.20 129.20,417.20 137.00,422.00 142.80,430.80 148.60,438.60 154.50,436.60 160.30,422.00 167.10,409.40 173.90,408.40 179.80,417.20 185.60,426.90 191.40,426.00 197.30,419.10 205.80,428.90 210.70,446.40 214.60,455.10 221.40,446.40 229.20,452.20 236.00,457.00 241.80,438.60 248.60,415.20 254.50,423.00 262.30,444.40 270.00,465.80 275.90,471.70 281.70,456.10 286.60,444.40 291.40,461.90 297.30,455.10 300.00,453.20 307.80,436.60 315.60,413.30 323.30,397.70 329.20,411.30 335.00,432.70 342.80,448.30 348.60,467.80 354.50,465.80 362.30,446.40 368.10,429.80 373.90,421.00 381.70,408.40 388.50,418.20 393.40,432.70 400.00,439.60 407.80,425.00 417.50,411.30 423.30,414.30 429.20,429.80 435.00,440.50 442.80,439.60 450.60,422.00 456.40,416.20 464.20,421.00 473.90,424.00 481.70,422.00 489.50,410.40 497.30,410.40 507.80,407.50 513.60,411.30 519.50,423.00 525.30,434.70 531.10,431.80 537.90,429.80 544.70,438.60 549.60,448.30 556.40,441.50 564.20,446.40 570.00,432.70 575.90,415.20 581.70,407.50 589.50,403.60 595.30,400.60 602.10,409.40"/><polyline fill="none" stroke="#111" stroke-width="1.5" stroke-linejoin="round" points="2.00,413.30 4.90,415.20 8.75,413.30 11.70,423.00 14.60,420.10 20.40,413.30 24.30,416.20 27.20,424.00 31.10,431.80 36.00,421.00 39.90,423.00 42.80,421.00 47.70,409.40 50.60,406.50 54.50,404.50 58.40,406.50 63.20,410.40 66.10,415.20 69.00,424.00 73.00,426.90 76.80,424.00 81.70,423.00 85.60,421.00 89.50,425.00 93.40,423.00 98.20,416.20 100.00,415.20 102.00,414.30 104.90,420.10 108.75,417.20 113.60,418.20 119.50,417.20 123.30,421.00 127.20,419.10 131.10,416.20 135.00,421.00 138.90,428.90 142.80,434.70 145.70,440.50 148.60,443.40 151.60,440.50 154.50,437.60 157.40,425.00 162.30,413.30 168.10,404.50 173.00,408.40 177.80,415.20 181.70,426.90 184.60,428.90 187.50,424.00 191.40,428.90 195.30,417.20 199.20,414.30 202.90,422.00 205.80,432.70 208.75,448.30 211.70,464.80 214.60,456.10 217.50,444.40 221.40,445.40 224.30,450.25 227.20,457.00 230.20,452.20 233.10,456.10 236.00,459.00 238.90,446.40 241.80,426.00 245.70,409.40 249.60,409.40 252.50,419.10 256.40,432.70 260.30,446.40 264.20,458.00 268.10,473.60 272.00,475.50 274.90,473.60 278.80,452.20 282.70,436.60 285.60,440.50 288.50,465.80 290.50,472.60 293.40,463.90 297.30,456.10 300.00,446.00 303.90,444.40 307.80,428.90 311.70,413.30 315.60,405.50 319.50,397.70 322.40,394.80 325.30,401.60 328.20,419.10 331.10,438.60 334.00,446.40 337.00,442.50 339.90,450.25 341.80,458.00 344.70,467.80 347.10,474.60 349.60,464.80 352.50,465.80 355.40,461.90 358.40,454.10 361.30,439.60 364.20,425.90 367.10,426.90 370.00,424.00 373.00,410.40 376.80,408.40 381.70,406.50 385.60,417.20 390.50,428.90 393.40,439.60 397.30,443.40 400.00,441.50 402.90,428.90 405.80,424.00 409.70,417.20 413.60,409.40 417.50,406.50 421.40,412.30 424.30,418.20 427.20,432.70 430.20,433.70 433.10,436.60 437.00,445.40 440.90,440.50 444.70,434.70 447.70,422.00 450.60,418.20 455.40,414.30 459.30,420.10 463.20,419.10 467.10,423.00 472.00,424.00 474.90,425.00 477.80,423.00 481.70,419.10 485.60,412.30 489.50,405.50 493.40,409.40 496.30,409.40 500.00,412.30 502.90,409.40 505.80,406.50 509.70,407.50 512.60,409.40 515.60,417.20 519.50,427.90 522.40,436.60 525.30,439.60 528.20,438.60 531.10,429.80 534.00,428.90 537.90,429.80 540.90,434.70 543.80,444.40 548.60,451.20 552.50,443.40 556.40,437.60 560.30,446.40 563.20,452.20 567.10,438.60 572.00,420.10 575.90,405.50 579.80,404.50 583.70,407.50 587.50,405.50 591.40,399.70 595.30,401.60 599.20,412.30 602.10,412.30"/><rect x="2.0" y="20.7" width="604.5" height="93.1" fill="none" stroke="#c0c0c0" stroke-width="1"/><rect x="2.0" y="113.8" width="604.5" height="264.8" fill="none" stroke="#c0c0c0" stroke-width="1"/><rect x="2.0" y="389.3" width="604.5" height="92.89999999999998" fill="none" stroke="#c0c0c0" stroke-width="1"/><text x="1.9" y="10.4" font-family='"Liberation Sans", sans-serif' font-size="9.8" fill="#111" font-weight="bold" text-anchor="start" textLength="23.9" lengthAdjust="spacingAndGlyphs" >$SPX</text><text x="29" y="10.2" font-family='"Liberation Sans", sans-serif' font-size="8.4" fill="#333" font-weight="normal" text-anchor="start" textLength="90.5" lengthAdjust="spacingAndGlyphs" >S&amp;P 500 Large Cap Index</text><text x="123" y="9.9" font-family='"Liberation Sans", sans-serif' font-size="7.0" fill="#333" font-weight="normal" text-anchor="start" textLength="17.3" lengthAdjust="spacingAndGlyphs" >INDX</text><text x="1.9" y="19.1" font-family='"Liberation Sans", sans-serif' font-size="7.4" fill="#222" font-weight="normal" text-anchor="start" textLength="42.6" lengthAdjust="spacingAndGlyphs" stroke="#222" stroke-width="0.2">11-Jan-2024</text><text x="540.6" y="18.6" font-family='"Liberation Sans", sans-serif' font-size="8.0" fill="#444" font-weight="normal" text-anchor="start" textLength="66" lengthAdjust="spacingAndGlyphs" >© StockCharts.com</text><text x="12" y="387.4" font-family='"Liberation Sans", sans-serif' font-size="7.0" fill="#1a1a1a" font-weight="normal" text-anchor="middle" >F</text><text x="12" y="488.9" font-family='"Liberation Sans", sans-serif' font-size="7.0" fill="#1a1a1a" font-weight="normal" text-anchor="middle" >F</text><text x="28" y="387.4" font-family='"Liberation Sans", sans-serif' font-size="7.0" fill="#1a1a1a" font-weight="normal" text-anchor="middle" >M</text><text x="28" y="488.9" font-family='"Liberation Sans", sans-serif' font-size="7.0" fill="#1a1a1a" font-weight="normal" text-anchor="middle" >M</text><text x="46.25" y="387.4" font-family='"Liberation Sans", sans-serif' font-size="7.0" fill="#1a1a1a" font-weight="normal" text-anchor="middle" >A</text><text x="46.25" y="488.9" font-family='"Liberation Sans", sans-serif' font-size="7.0" fill="#1a1a1a" font-weight="normal" text-anchor="middle" >A</text><text x="63" y="387.4" font-family='"Liberation Sans", sans-serif' font-size="7.0" fill="#1a1a1a" font-weight="normal" text-anchor="middle" >M</text><text x="63" y="488.9" font-family='"Liberation Sans", sans-serif' font-size="7.0" fill="#1a1a1a" font-weight="normal" text-anchor="middle" >M</text><text x="78.75" y="387.4" font-family='"Liberation Sans", sans-serif' font-size="7.0" fill="#1a1a1a" font-weight="normal" text-anchor="middle" >J</text><text x="78.75" y="488.9" font-family='"Liberation Sans", sans-serif' font-size="7.0" fill="#1a1a1a" font-weight="normal" text-anchor="middle" >J</text><text x="96.25" y="387.4" font-family='"Liberation Sans", sans-serif' font-size="7.0" fill="#1a1a1a" font-weight="normal" text-anchor="middle" >J</text><text x="96.25" y="488.9" font-family='"Liberation Sans", sans-serif' font-size="7.0" fill="#1a1a1a" font-weight="normal" text-anchor="middle" >J</text><text x="113.25" y="387.4" font-family='"Liberation Sans", sans-serif' font-size="7.0" fill="#1a1a1a" font-weight="normal" text-anchor="middle" >A</text><text x="113.25" y="488.9" font-family='"Liberation Sans", sans-serif' font-size="7.0" fill="#1a1a1a" font-weight="normal" text-anchor="middle" >A</text><text x="130.5" y="387.4" font-family='"Liberation Sans", sans-serif' font-size="7.0" fill="#1a1a1a" font-weight="normal" text-anchor="middle" >S</text><text x="130.5" y="488.9" font-family='"Liberation Sans", sans-serif' font-size="7.0" fill="#1a1a1a" font-weight="normal" text-anchor="middle" >S</text><text x="147.5" y="387.4" font-family='"Liberation Sans", sans-serif' font-size="7.0" fill="#1a1a1a" font-weight="normal" text-anchor="middle" >O</text><text x="147.5" y="488.9" font-family='"Liberation Sans", sans-serif' font-size="7.0" fill="#1a1a1a" font-weight="normal" text-anchor="middle" >O</text><text x="164.5" y="387.4" font-family='"Liberation Sans", sans-serif' font-size="7.0" fill="#1a1a1a" font-weight="normal" text-anchor="middle" >N</text><text x="164.5" y="488.9" font-family='"Liberation Sans", sans-serif' font-size="7.0" fill="#1a1a1a" font-weight="normal" text-anchor="middle" >N</text><text x="180.75" y="387.4" font-family='"Liberation Sans", sans-serif' font-size="7.0" fill="#1a1a1a" font-weight="normal" text-anchor="middle" >D</text><text x="180.75" y="488.9" font-family='"Liberation Sans", sans-serif' font-size="7.0" fill="#1a1a1a" font-weight="normal" text-anchor="middle" >D</text><text x="197" y="387.8" font-family='"Liberation Sans", sans-serif' font-size="8.8" fill="#1a1a1a" font-weight="bold" text-anchor="middle" >22</text><text x="197" y="489.3" font-family='"Liberation Sans", sans-serif' font-size="8.8" fill="#1a1a1a" font-weight="bold" text-anchor="middle" >22</text><text x="213.75" y="387.4" font-family='"Liberation Sans", sans-serif' font-size="7.0" fill="#1a1a1a" font-weight="normal" text-anchor="middle" >F</text><text x="213.75" y="488.9" font-family='"Liberation Sans", sans-serif' font-size="7.0" fill="#1a1a1a" font-weight="normal" text-anchor="middle" >F</text><text x="230" y="387.4" font-family='"Liberation Sans", sans-serif' font-size="7.0" fill="#1a1a1a" font-weight="normal" text-anchor="middle" >M</text><text x="230" y="488.9" font-family='"Liberation Sans", sans-serif' font-size="7.0" fill="#1a1a1a" font-weight="normal" text-anchor="middle" >M</text><text x="248" y="387.4" font-family='"Liberation Sans", sans-serif' font-size="7.0" fill="#1a1a1a" font-weight="normal" text-anchor="middle" >A</text><text x="248" y="488.9" font-family='"Liberation Sans", sans-serif' font-size="7.0" fill="#1a1a1a" font-weight="normal" text-anchor="middle" >A</text><text x="263.75" y="387.4" font-family='"Liberation Sans", sans-serif' font-size="7.0" fill="#1a1a1a" font-weight="normal" text-anchor="middle" >M</text><text x="263.75" y="488.9" font-family='"Liberation Sans", sans-serif' font-size="7.0" fill="#1a1a1a" font-weight="normal" text-anchor="middle" >M</text><text x="280.5" y="387.4" font-family='"Liberation Sans", sans-serif' font-size="7.0" fill="#1a1a1a" font-weight="normal" text-anchor="middle" >J</text><text x="280.5" y="488.9" font-family='"Liberation Sans", sans-serif' font-size="7.0" fill="#1a1a1a" font-weight="normal" text-anchor="middle" >J</text><text x="297" y="387.4" font-family='"Liberation Sans", sans-serif' font-size="7.0" fill="#1a1a1a" font-weight="normal" text-anchor="middle" >J</text><text x="297" y="488.9" font-family='"Liberation Sans", sans-serif' font-size="7.0" fill="#1a1a1a" font-weight="normal" text-anchor="middle" >J</text><text x="313.25" y="387.4" font-family='"Liberation Sans", sans-serif' font-size="7.0" fill="#1a1a1a" font-weight="normal" text-anchor="middle" >A</text><text x="313.25" y="488.9" font-family='"Liberation Sans", sans-serif' font-size="7.0" fill="#1a1a1a" font-weight="normal" text-anchor="middle" >A</text><text x="332" y="387.4" font-family='"Liberation Sans", sans-serif' font-size="7.0" fill="#1a1a1a" font-weight="normal" text-anchor="middle" >S</text><text x="332" y="488.9" font-family='"Liberation Sans", sans-serif' font-size="7.0" fill="#1a1a1a" font-weight="normal" text-anchor="middle" >S</text><text x="348" y="387.4" font-family='"Liberation Sans", sans-serif' font-size="7.0" fill="#1a1a1a" font-weight="normal" text-anchor="middle" >O</text><text x="348" y="488.9" font-family='"Liberation Sans", sans-serif' font-size="7.0" fill="#1a1a1a" font-weight="normal" text-anchor="middle" >O</text><text x="365" y="387.4" font-family='"Liberation Sans", sans-serif' font-size="7.0" fill="#1a1a1a" font-weight="normal" text-anchor="middle" >N</text><text x="365" y="488.9" font-family='"Liberation Sans", sans-serif' font-size="7.0" fill="#1a1a1a" font-weight="normal" text-anchor="middle" >N</text><text x="381.3" y="387.4" font-family='"Liberation Sans", sans-serif' font-size="7.0" fill="#1a1a1a" font-weight="normal" text-anchor="middle" >D</text><text x="381.3" y="488.9" font-family='"Liberation Sans", sans-serif' font-size="7.0" fill="#1a1a1a" font-weight="normal" text-anchor="middle" >D</text><text x="397.8" y="387.8" font-family='"Liberation Sans", sans-serif' font-size="8.8" fill="#1a1a1a" font-weight="bold" text-anchor="middle" >23</text><text x="397.8" y="489.3" font-family='"Liberation Sans", sans-serif' font-size="8.8" fill="#1a1a1a" font-weight="bold" text-anchor="middle" >23</text><text x="414.5" y="387.4" font-family='"Liberation Sans", sans-serif' font-size="7.0" fill="#1a1a1a" font-weight="normal" text-anchor="middle" >F</text><text x="414.5" y="488.9" font-family='"Liberation Sans", sans-serif' font-size="7.0" fill="#1a1a1a" font-weight="normal" text-anchor="middle" >F</text><text x="430" y="387.4" font-family='"Liberation Sans", sans-serif' font-size="7.0" fill="#1a1a1a" font-weight="normal" text-anchor="middle" >M</text><text x="430" y="488.9" font-family='"Liberation Sans", sans-serif' font-size="7.0" fill="#1a1a1a" font-weight="normal" text-anchor="middle" >M</text><text x="448" y="387.4" font-family='"Liberation Sans", sans-serif' font-size="7.0" fill="#1a1a1a" font-weight="normal" text-anchor="middle" >A</text><text x="448" y="488.9" font-family='"Liberation Sans", sans-serif' font-size="7.0" fill="#1a1a1a" font-weight="normal" text-anchor="middle" >A</text><text x="463" y="387.4" font-family='"Liberation Sans", sans-serif' font-size="7.0" fill="#1a1a1a" font-weight="normal" text-anchor="middle" >M</text><text x="463" y="488.9" font-family='"Liberation Sans", sans-serif' font-size="7.0" fill="#1a1a1a" font-weight="normal" text-anchor="middle" >M</text><text x="479.5" y="387.4" font-family='"Liberation Sans", sans-serif' font-size="7.0" fill="#1a1a1a" font-weight="normal" text-anchor="middle" >J</text><text x="479.5" y="488.9" font-family='"Liberation Sans", sans-serif' font-size="7.0" fill="#1a1a1a" font-weight="normal" text-anchor="middle" >J</text><text x="497.5" y="387.4" font-family='"Liberation Sans", sans-serif' font-size="7.0" fill="#1a1a1a" font-weight="normal" text-anchor="middle" >J</text><text x="497.5" y="488.9" font-family='"Liberation Sans", sans-serif' font-size="7.0" fill="#1a1a1a" font-weight="normal" text-anchor="middle" >J</text><text x="513" y="387.4" font-family='"Liberation Sans", sans-serif' font-size="7.0" fill="#1a1a1a" font-weight="normal" text-anchor="middle" >A</text><text x="513" y="488.9" font-family='"Liberation Sans", sans-serif' font-size="7.0" fill="#1a1a1a" font-weight="normal" text-anchor="middle" >A</text><text x="531" y="387.4" font-family='"Liberation Sans", sans-serif' font-size="7.0" fill="#1a1a1a" font-weight="normal" text-anchor="middle" >S</text><text x="531" y="488.9" font-family='"Liberation Sans", sans-serif' font-size="7.0" fill="#1a1a1a" font-weight="normal" text-anchor="middle" >S</text><text x="547" y="387.4" font-family='"Liberation Sans", sans-serif' font-size="7.0" fill="#1a1a1a" font-weight="normal" text-anchor="middle" >O</text><text x="547" y="488.9" font-family='"Liberation Sans", sans-serif' font-size="7.0" fill="#1a1a1a" font-weight="normal" text-anchor="middle" >O</text><text x="565" y="387.4" font-family='"Liberation Sans", sans-serif' font-size="7.0" fill="#1a1a1a" font-weight="normal" text-anchor="middle" >N</text><text x="565" y="488.9" font-family='"Liberation Sans", sans-serif' font-size="7.0" fill="#1a1a1a" font-weight="normal" text-anchor="middle" >N</text><text x="581" y="387.4" font-family='"Liberation Sans", sans-serif' font-size="7.0" fill="#1a1a1a" font-weight="normal" text-anchor="middle" >D</text><text x="581" y="488.9" font-family='"Liberation Sans", sans-serif' font-size="7.0" fill="#1a1a1a" font-weight="normal" text-anchor="middle" >D</text><text x="596.5" y="387.8" font-family='"Liberation Sans", sans-serif' font-size="8.8" fill="#1a1a1a" font-weight="bold" text-anchor="middle" >24</text><text x="596.5" y="489.3" font-family='"Liberation Sans", sans-serif' font-size="8.8" fill="#1a1a1a" font-weight="bold" text-anchor="middle" >24</text><text x="12.5" y="28.6" font-family='"Liberation Sans", sans-serif' font-size="7.8" fill="#222" textLength="57.8" lengthAdjust="spacing">RSI(14) 64.60</text><path d="M3.5,28.6 L6.2,23.2 L9.2,28.6 Z" fill="#6a9a6a" stroke="#333" stroke-width="0.7"/><text x="12.5" y="122.0" font-family='"Liberation Sans", sans-serif' font-size="7.8" fill="#222" textLength="87.5" lengthAdjust="spacing">$SPX (Daily) 4780.24</text><rect x="3.6" y="116.5" width="1.6" height="5" fill="#222"/><rect x="6.2" y="115.5" width="1.6" height="5.5" fill="#222"/><rect x="8.8" y="117" width="1.6" height="4.5" fill="#222"/><rect x="4" y="126.6" width="6" height="1.3" fill="#3c3ca8"/><text x="11" y="130.1" font-family='"Liberation Sans", sans-serif' font-size="7.8" fill="#2c2c9c" font-weight="normal" text-anchor="start" textLength="50.7" lengthAdjust="spacingAndGlyphs" >MA(50) 4589.47</text><rect x="4" y="134.5" width="6" height="1.3" fill="#c8506a"/><text x="11" y="138.0" font-family='"Liberation Sans", sans-serif' font-size="7.8" fill="#c83a5a" font-weight="normal" text-anchor="start" textLength="53.8" lengthAdjust="spacingAndGlyphs" >MA(200) 4385.02</text><rect x="4" y="140" width="1.5" height="4" fill="#777"/><rect x="6" y="138.5" width="1.5" height="5.5" fill="#777"/><rect x="8" y="140.5" width="1.5" height="3.5" fill="#777"/><text x="11" y="145.3" font-family='"Liberation Sans", sans-serif' font-size="7.8" fill="#666" font-weight="normal" text-anchor="start" textLength="70.25" lengthAdjust="spacingAndGlyphs" >Volume 2,302,348,800</text><rect x="4" y="393.6" width="6" height="1.4" fill="#111"/><text x="12.5" y="397.5" font-family='"Liberation Sans", sans-serif' font-size="7.8" fill="#222" textLength="160.5" lengthAdjust="spacing">MACD(12,26,9) 47.133<tspan fill="#e8443a">, 54.267</tspan><tspan fill="#3a8ab8">, -7.134</tspan></text><text x="617.4" y="35.60000000000001" font-family='"Liberation Sans", sans-serif' font-size="7.5" fill="#222" font-weight="normal" text-anchor="end" stroke="#222" stroke-width="0.15">90</text><text x="617.4" y="52.400000000000006" font-family='"Liberation Sans", sans-serif' font-size="7.5" fill="#222" font-weight="normal" text-anchor="end" stroke="#222" stroke-width="0.15">70</text><text x="617.4" y="69.2" font-family='"Liberation Sans", sans-serif' font-size="7.5" fill="#222" font-weight="normal" text-anchor="end" stroke="#222" stroke-width="0.15">50</text><text x="617.4" y="86.0" font-family='"Liberation Sans", sans-serif' font-size="7.5" fill="#222" font-weight="normal" text-anchor="end" stroke="#222" stroke-width="0.15">30</text><text x="617.4" y="102.8" font-family='"Liberation Sans", sans-serif' font-size="7.5" fill="#222" font-weight="normal" text-anchor="end" stroke="#222" stroke-width="0.15">10</text><text x="626.2" y="374.0238300405971" font-family='"Liberation Sans", sans-serif' font-size="7.6" fill="#222" font-weight="normal" text-anchor="end" textLength="17.2" lengthAdjust="spacingAndGlyphs" stroke="#222" stroke-width="0.15">3500</text><text x="626.2" y="330.12364762829657" font-family='"Liberation Sans", sans-serif' font-size="7.6" fill="#222" font-weight="normal" text-anchor="end" textLength="17.2" lengthAdjust="spacingAndGlyphs" stroke="#222" stroke-width="0.15">3700</text><text x="626.2" y="309.05573243338904" font-family='"Liberation Sans", sans-serif' font-size="7.6" fill="#222" font-weight="normal" text-anchor="end" textLength="17.2" lengthAdjust="spacingAndGlyphs" stroke="#222" stroke-width="0.15">3800</text><text x="626.2" y="288.53509817481324" font-family='"Liberation Sans", sans-serif' font-size="7.6" fill="#222" font-weight="normal" text-anchor="end" textLength="17.2" lengthAdjust="spacingAndGlyphs" stroke="#222" stroke-width="0.15">3900</text><text x="626.2" y="268.53402986722415" font-family='"Liberation Sans", sans-serif' font-size="7.6" fill="#222" font-weight="normal" text-anchor="end" textLength="17.2" lengthAdjust="spacingAndGlyphs" stroke="#222" stroke-width="0.15">4000</text><text x="626.2" y="249.0268659208306" font-family='"Liberation Sans", sans-serif' font-size="7.6" fill="#222" font-weight="normal" text-anchor="end" textLength="17.2" lengthAdjust="spacingAndGlyphs" stroke="#222" stroke-width="0.15">4100</text><text x="626.2" y="229.98980017337283" font-family='"Liberation Sans", sans-serif' font-size="7.6" fill="#222" font-weight="normal" text-anchor="end" textLength="17.2" lengthAdjust="spacingAndGlyphs" stroke="#222" stroke-width="0.15">4200</text><text x="626.2" y="211.40070721931951" font-family='"Liberation Sans", sans-serif' font-size="7.6" fill="#222" font-weight="normal" text-anchor="end" textLength="17.2" lengthAdjust="spacingAndGlyphs" stroke="#222" stroke-width="0.15">4300</text><text x="626.2" y="193.23898782180746" font-family='"Liberation Sans", sans-serif' font-size="7.6" fill="#222" font-weight="normal" text-anchor="end" textLength="17.2" lengthAdjust="spacingAndGlyphs" stroke="#222" stroke-width="0.15">4400</text><text x="626.2" y="175.48543169868123" font-family='"Liberation Sans", sans-serif' font-size="7.6" fill="#222" font-weight="normal" text-anchor="end" textLength="17.2" lengthAdjust="spacingAndGlyphs" stroke="#222" stroke-width="0.15">4500</text><text x="626.2" y="158.12209539084876" font-family='"Liberation Sans", sans-serif' font-size="7.6" fill="#222" font-weight="normal" text-anchor="end" textLength="17.2" lengthAdjust="spacingAndGlyphs" stroke="#222" stroke-width="0.15">4600</text><text x="626.2" y="141.1321932662875" font-family='"Liberation Sans", sans-serif' font-size="7.6" fill="#222" font-weight="normal" text-anchor="end" textLength="17.2" lengthAdjust="spacingAndGlyphs" stroke="#222" stroke-width="0.15">4700</text><text x="626.2" y="124.5" font-family='"Liberation Sans", sans-serif' font-size="7.6" fill="#222" font-weight="normal" text-anchor="end" textLength="17.2" lengthAdjust="spacingAndGlyphs" stroke="#222" stroke-width="0.15">4800</text><text x="624" y="483.45" font-family='"Liberation Sans", sans-serif' font-size="7.5" fill="#222" font-weight="normal" text-anchor="end" stroke="#222" stroke-width="0.15">-125</text><text x="624" y="473.5" font-family='"Liberation Sans", sans-serif' font-size="7.5" fill="#222" font-weight="normal" text-anchor="end" stroke="#222" stroke-width="0.15">-100</text><text x="624" y="463.55" font-family='"Liberation Sans", sans-serif' font-size="7.5" fill="#222" font-weight="normal" text-anchor="end" stroke="#222" stroke-width="0.15">-75</text><text x="624" y="453.59999999999997" font-family='"Liberation Sans", sans-serif' font-size="7.5" fill="#222" font-weight="normal" text-anchor="end" stroke="#222" stroke-width="0.15">-50</text><text x="624" y="443.65" font-family='"Liberation Sans", sans-serif' font-size="7.5" fill="#222" font-weight="normal" text-anchor="end" stroke="#222" stroke-width="0.15">-25</text><text x="624" y="423.75" font-family='"Liberation Sans", sans-serif' font-size="7.5" fill="#222" font-weight="normal" text-anchor="end" stroke="#222" stroke-width="0.15">25</text><text x="624" y="403.84999999999997" font-family='"Liberation Sans", sans-serif' font-size="7.5" fill="#222" font-weight="normal" text-anchor="end" stroke="#222" stroke-width="0.15">75</text><text x="624" y="393.9" font-family='"Liberation Sans", sans-serif' font-size="7.5" fill="#222" font-weight="normal" text-anchor="end" stroke="#222" stroke-width="0.15">100</text><path d="M605.2,55.17 L609.2,51.25 L629.7,51.25 L629.7,59.1 L609.2,59.1 Z" fill="#fff" stroke="#333" stroke-width="1.0"/><text x="608.4000000000001" y="57.77" font-family='"Liberation Sans", sans-serif' font-size="7.4" fill="#222" font-weight="normal" textLength="23.5" lengthAdjust="spacingAndGlyphs">64.60</text><path d="M605.2,124.85 L609.2,120.8 L637.7,120.8 L637.7,128.9 L609.2,128.9 Z" fill="#fff" stroke="#222" stroke-width="1.1"/><text x="608.4000000000001" y="127.45" font-family='"Liberation Sans", sans-serif' font-size="7.8" fill="#111" font-weight="bold" textLength="30.5" lengthAdjust="spacingAndGlyphs">4780.24</text><path d="M605.2,157.00 L609.2,153.4 L638.5,153.4 L638.5,160.6 L609.2,160.6 Z" fill="#fff" stroke="#3c3ca8" stroke-width="1.0"/><text x="608.4000000000001" y="159.60" font-family='"Liberation Sans", sans-serif' font-size="7.2" fill="#222" font-weight="normal" textLength="29.5" lengthAdjust="spacingAndGlyphs">4589.47</text><path d="M605.2,192.65 L609.2,189.0 L638.5,189.0 L638.5,196.3 L609.2,196.3 Z" fill="#fff" stroke="#c8506a" stroke-width="1.0"/><text x="608.4000000000001" y="195.25" font-family='"Liberation Sans", sans-serif' font-size="7.2" fill="#222" font-weight="normal" textLength="29.5" lengthAdjust="spacingAndGlyphs">4385.02</text><path d="M605.2,347.30 L609.2,343.2 L638.4,343.2 L638.4,351.4 L609.2,351.4 Z" fill="#fff" stroke="#555" stroke-width="1.0"/><text x="608.4000000000001" y="349.90" font-family='"Liberation Sans", sans-serif' font-size="7.2" fill="#222" font-weight="normal" textLength="30" lengthAdjust="spacingAndGlyphs">2302348</text><path d="M605.2,409.00 L609.2,405.5 L633.8,405.5 L633.8,412.5 L609.2,412.5 Z" fill="#fff" stroke="#e8443a" stroke-width="1.0"/><text x="608.4000000000001" y="411.60" font-family='"Liberation Sans", sans-serif' font-size="7.2" fill="#222" font-weight="normal" textLength="25.5" lengthAdjust="spacingAndGlyphs">54.267</text><path d="M605.2,412.10 L609.2,408.7 L633.8,408.7 L633.8,415.5 L609.2,415.5 Z" fill="#fff" stroke="#111" stroke-width="1.0"/><text x="608.4000000000001" y="414.70" font-family='"Liberation Sans", sans-serif' font-size="7.2" fill="#222" font-weight="normal" textLength="25.5" lengthAdjust="spacingAndGlyphs">47.133</text><path d="M605.2,432.65 L609.2,429.2 L631.5,429.2 L631.5,436.1 L609.2,436.1 Z" fill="#fff" stroke="#3a8ab8" stroke-width="1.0"/><text x="608.4000000000001" y="435.25" font-family='"Liberation Sans", sans-serif' font-size="7.2" fill="#222" font-weight="normal" textLength="23.5" lengthAdjust="spacingAndGlyphs">-7.134</text></svg></body></html>
